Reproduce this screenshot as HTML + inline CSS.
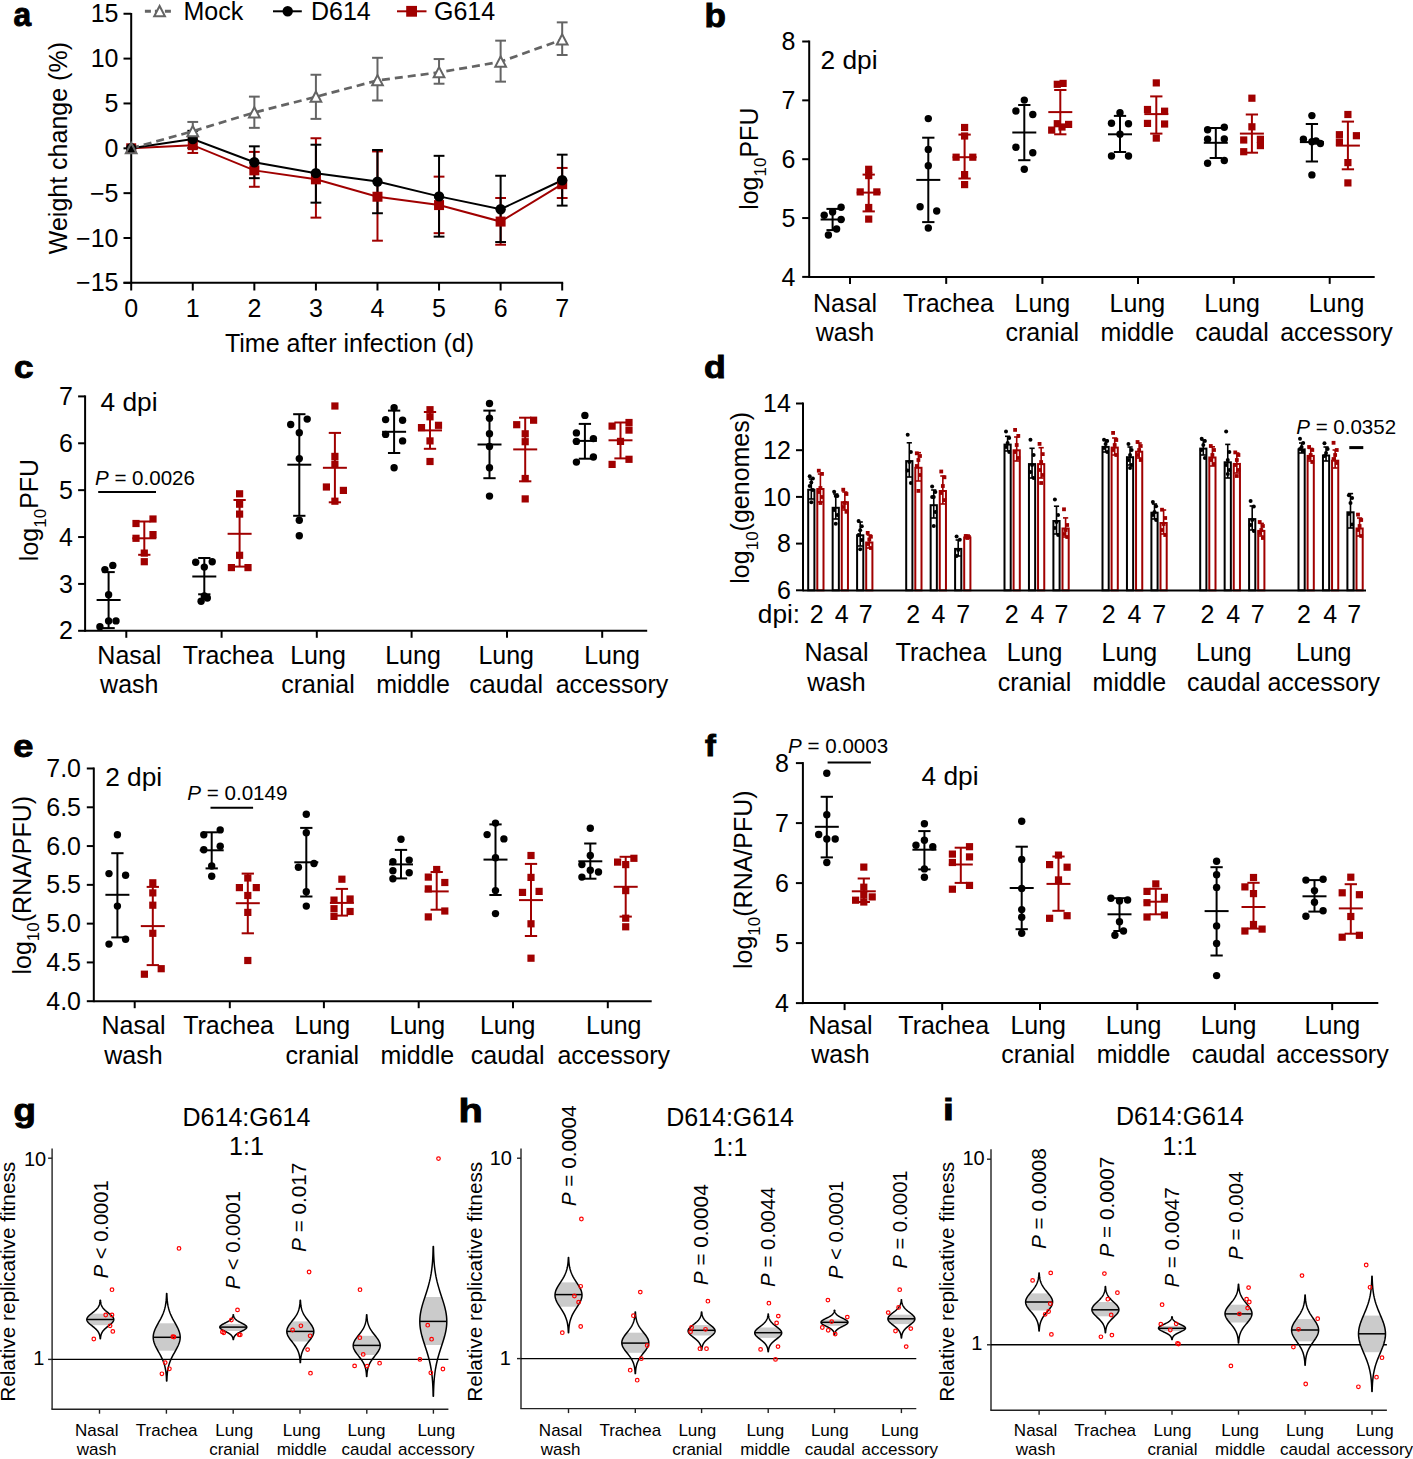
<!DOCTYPE html>
<html><head><meta charset="utf-8"><style>
html,body{margin:0;padding:0;background:#fff;}
svg{display:block;font-family:"Liberation Sans",sans-serif;}
</style></head><body>
<svg width="1413" height="1459" viewBox="0 0 1413 1459">
<rect width="1413" height="1459" fill="#fff"/>
<text x="13.5" y="26.3" font-size="32.3" font-weight="bold" stroke="#000" stroke-width="0.9" transform="translate(13.5,0) scale(0.98,1) translate(-13.5,0)">a</text>
<line x1="131.2" y1="13" x2="131.2" y2="283.8" stroke="#000" stroke-width="2"/>
<line x1="123.5" y1="282.85" x2="563.19" y2="282.85" stroke="#000" stroke-width="2"/>
<line x1="123.5" y1="13.75" x2="131.2" y2="13.75" stroke="#000" stroke-width="2"/>
<text x="118.5" y="22.35" font-size="25" text-anchor="end">15</text>
<line x1="123.5" y1="58.6" x2="131.2" y2="58.6" stroke="#000" stroke-width="2"/>
<text x="118.5" y="67.2" font-size="25" text-anchor="end">10</text>
<line x1="123.5" y1="103.45" x2="131.2" y2="103.45" stroke="#000" stroke-width="2"/>
<text x="118.5" y="112.05" font-size="25" text-anchor="end">5</text>
<line x1="123.5" y1="148.3" x2="131.2" y2="148.3" stroke="#000" stroke-width="2"/>
<text x="118.5" y="156.9" font-size="25" text-anchor="end">0</text>
<line x1="123.5" y1="193.15" x2="131.2" y2="193.15" stroke="#000" stroke-width="2"/>
<text x="118.5" y="201.75" font-size="25" text-anchor="end">−5</text>
<line x1="123.5" y1="238" x2="131.2" y2="238" stroke="#000" stroke-width="2"/>
<text x="118.5" y="246.6" font-size="25" text-anchor="end">−10</text>
<line x1="123.5" y1="282.85" x2="131.2" y2="282.85" stroke="#000" stroke-width="2"/>
<text x="118.5" y="291.45" font-size="25" text-anchor="end">−15</text>
<line x1="131.2" y1="282.85" x2="131.2" y2="290.5" stroke="#000" stroke-width="2"/>
<text x="131.2" y="316.6" font-size="25" text-anchor="middle">0</text>
<line x1="192.77" y1="282.85" x2="192.77" y2="290.5" stroke="#000" stroke-width="2"/>
<text x="192.77" y="316.6" font-size="25" text-anchor="middle">1</text>
<line x1="254.34" y1="282.85" x2="254.34" y2="290.5" stroke="#000" stroke-width="2"/>
<text x="254.34" y="316.6" font-size="25" text-anchor="middle">2</text>
<line x1="315.91" y1="282.85" x2="315.91" y2="290.5" stroke="#000" stroke-width="2"/>
<text x="315.91" y="316.6" font-size="25" text-anchor="middle">3</text>
<line x1="377.48" y1="282.85" x2="377.48" y2="290.5" stroke="#000" stroke-width="2"/>
<text x="377.48" y="316.6" font-size="25" text-anchor="middle">4</text>
<line x1="439.05" y1="282.85" x2="439.05" y2="290.5" stroke="#000" stroke-width="2"/>
<text x="439.05" y="316.6" font-size="25" text-anchor="middle">5</text>
<line x1="500.62" y1="282.85" x2="500.62" y2="290.5" stroke="#000" stroke-width="2"/>
<text x="500.62" y="316.6" font-size="25" text-anchor="middle">6</text>
<line x1="562.19" y1="282.85" x2="562.19" y2="290.5" stroke="#000" stroke-width="2"/>
<text x="562.19" y="316.6" font-size="25" text-anchor="middle">7</text>
<text x="349.5" y="352.2" font-size="25" text-anchor="middle">Time after infection (d)</text>
<text transform="translate(66.5,148.1) rotate(-90)" font-size="25" text-anchor="middle">Weight change (%)</text>
<line x1="192.77" y1="136.64" x2="192.77" y2="152.96" stroke="#a00000" stroke-width="2"/>
<line x1="187.37" y1="136.64" x2="198.17" y2="136.64" stroke="#a00000" stroke-width="2"/>
<line x1="187.37" y1="152.96" x2="198.17" y2="152.96" stroke="#a00000" stroke-width="2"/>
<line x1="254.34" y1="151.89" x2="254.34" y2="186.78" stroke="#a00000" stroke-width="2"/>
<line x1="248.94" y1="151.89" x2="259.74" y2="151.89" stroke="#a00000" stroke-width="2"/>
<line x1="248.94" y1="186.78" x2="259.74" y2="186.78" stroke="#a00000" stroke-width="2"/>
<line x1="315.91" y1="138.25" x2="315.91" y2="217.64" stroke="#a00000" stroke-width="2"/>
<line x1="310.51" y1="138.25" x2="321.31" y2="138.25" stroke="#a00000" stroke-width="2"/>
<line x1="310.51" y1="217.64" x2="321.31" y2="217.64" stroke="#a00000" stroke-width="2"/>
<line x1="377.48" y1="151.44" x2="377.48" y2="240.69" stroke="#a00000" stroke-width="2"/>
<line x1="372.08" y1="151.44" x2="382.88" y2="151.44" stroke="#a00000" stroke-width="2"/>
<line x1="372.08" y1="240.69" x2="382.88" y2="240.69" stroke="#a00000" stroke-width="2"/>
<line x1="439.05" y1="176.65" x2="439.05" y2="233.16" stroke="#a00000" stroke-width="2"/>
<line x1="433.65" y1="176.65" x2="444.45" y2="176.65" stroke="#a00000" stroke-width="2"/>
<line x1="433.65" y1="233.16" x2="444.45" y2="233.16" stroke="#a00000" stroke-width="2"/>
<line x1="500.62" y1="197.99" x2="500.62" y2="244.73" stroke="#a00000" stroke-width="2"/>
<line x1="495.22" y1="197.99" x2="506.02" y2="197.99" stroke="#a00000" stroke-width="2"/>
<line x1="495.22" y1="244.73" x2="506.02" y2="244.73" stroke="#a00000" stroke-width="2"/>
<line x1="562.19" y1="167.94" x2="562.19" y2="197.99" stroke="#a00000" stroke-width="2"/>
<line x1="556.79" y1="167.94" x2="567.59" y2="167.94" stroke="#a00000" stroke-width="2"/>
<line x1="556.79" y1="197.99" x2="567.59" y2="197.99" stroke="#a00000" stroke-width="2"/>
<line x1="192.77" y1="130.81" x2="192.77" y2="148.03" stroke="#000" stroke-width="2"/>
<line x1="187.37" y1="130.81" x2="198.17" y2="130.81" stroke="#000" stroke-width="2"/>
<line x1="187.37" y1="148.03" x2="198.17" y2="148.03" stroke="#000" stroke-width="2"/>
<line x1="254.34" y1="146.33" x2="254.34" y2="178.17" stroke="#000" stroke-width="2"/>
<line x1="248.94" y1="146.33" x2="259.74" y2="146.33" stroke="#000" stroke-width="2"/>
<line x1="248.94" y1="178.17" x2="259.74" y2="178.17" stroke="#000" stroke-width="2"/>
<line x1="315.91" y1="144.71" x2="315.91" y2="202.66" stroke="#000" stroke-width="2"/>
<line x1="310.51" y1="144.71" x2="321.31" y2="144.71" stroke="#000" stroke-width="2"/>
<line x1="310.51" y1="202.66" x2="321.31" y2="202.66" stroke="#000" stroke-width="2"/>
<line x1="377.48" y1="150" x2="377.48" y2="213.24" stroke="#000" stroke-width="2"/>
<line x1="372.08" y1="150" x2="382.88" y2="150" stroke="#000" stroke-width="2"/>
<line x1="372.08" y1="213.24" x2="382.88" y2="213.24" stroke="#000" stroke-width="2"/>
<line x1="439.05" y1="155.83" x2="439.05" y2="236.65" stroke="#000" stroke-width="2"/>
<line x1="433.65" y1="155.83" x2="444.45" y2="155.83" stroke="#000" stroke-width="2"/>
<line x1="433.65" y1="236.65" x2="444.45" y2="236.65" stroke="#000" stroke-width="2"/>
<line x1="500.62" y1="175.75" x2="500.62" y2="242.04" stroke="#000" stroke-width="2"/>
<line x1="495.22" y1="175.75" x2="506.02" y2="175.75" stroke="#000" stroke-width="2"/>
<line x1="495.22" y1="242.04" x2="506.02" y2="242.04" stroke="#000" stroke-width="2"/>
<line x1="562.19" y1="154.67" x2="562.19" y2="205.62" stroke="#000" stroke-width="2"/>
<line x1="556.79" y1="154.67" x2="567.59" y2="154.67" stroke="#000" stroke-width="2"/>
<line x1="556.79" y1="205.62" x2="567.59" y2="205.62" stroke="#000" stroke-width="2"/>
<line x1="192.77" y1="121.93" x2="192.77" y2="140.23" stroke="#646464" stroke-width="2"/>
<line x1="187.37" y1="121.93" x2="198.17" y2="121.93" stroke="#646464" stroke-width="2"/>
<line x1="187.37" y1="140.23" x2="198.17" y2="140.23" stroke="#646464" stroke-width="2"/>
<line x1="254.34" y1="96.63" x2="254.34" y2="127.85" stroke="#646464" stroke-width="2"/>
<line x1="248.94" y1="96.63" x2="259.74" y2="96.63" stroke="#646464" stroke-width="2"/>
<line x1="248.94" y1="127.85" x2="259.74" y2="127.85" stroke="#646464" stroke-width="2"/>
<line x1="315.91" y1="74.75" x2="315.91" y2="118.88" stroke="#646464" stroke-width="2"/>
<line x1="310.51" y1="74.75" x2="321.31" y2="74.75" stroke="#646464" stroke-width="2"/>
<line x1="310.51" y1="118.88" x2="321.31" y2="118.88" stroke="#646464" stroke-width="2"/>
<line x1="377.48" y1="57.79" x2="377.48" y2="100.49" stroke="#646464" stroke-width="2"/>
<line x1="372.08" y1="57.79" x2="382.88" y2="57.79" stroke="#646464" stroke-width="2"/>
<line x1="372.08" y1="100.49" x2="382.88" y2="100.49" stroke="#646464" stroke-width="2"/>
<line x1="439.05" y1="59.05" x2="439.05" y2="83.72" stroke="#646464" stroke-width="2"/>
<line x1="433.65" y1="59.05" x2="444.45" y2="59.05" stroke="#646464" stroke-width="2"/>
<line x1="433.65" y1="83.72" x2="444.45" y2="83.72" stroke="#646464" stroke-width="2"/>
<line x1="500.62" y1="40.66" x2="500.62" y2="81.65" stroke="#646464" stroke-width="2"/>
<line x1="495.22" y1="40.66" x2="506.02" y2="40.66" stroke="#646464" stroke-width="2"/>
<line x1="495.22" y1="81.65" x2="506.02" y2="81.65" stroke="#646464" stroke-width="2"/>
<line x1="562.19" y1="22.36" x2="562.19" y2="55.01" stroke="#646464" stroke-width="2"/>
<line x1="556.79" y1="22.36" x2="567.59" y2="22.36" stroke="#646464" stroke-width="2"/>
<line x1="556.79" y1="55.01" x2="567.59" y2="55.01" stroke="#646464" stroke-width="2"/>
<polyline points="131.2,148.3 192.77,145.16 254.34,170.37 315.91,179.34 377.48,196.74 439.05,205.08 500.62,221.58 562.19,184.18" fill="none" stroke="#a00000" stroke-width="2"/>
<polyline points="131.2,148.3 192.77,138.97 254.34,162.29 315.91,173.15 377.48,181.58 439.05,196.38 500.62,209.21 562.19,180.23" fill="none" stroke="#000" stroke-width="2"/>
<polyline points="131.2,148.3 192.77,131.26 254.34,112.51 315.91,96.81 377.48,80.4 439.05,72.41 500.62,61.74 562.19,39.58" fill="none" stroke="#646464" stroke-width="2.7" stroke-dasharray="8,5"/>
<rect x="126.2" y="143.3" width="10" height="10" fill="#a00000" stroke="none" stroke-width="0"/>
<rect x="187.77" y="140.16" width="10" height="10" fill="#a00000" stroke="none" stroke-width="0"/>
<rect x="249.34" y="165.37" width="10" height="10" fill="#a00000" stroke="none" stroke-width="0"/>
<rect x="310.91" y="174.34" width="10" height="10" fill="#a00000" stroke="none" stroke-width="0"/>
<rect x="372.48" y="191.74" width="10" height="10" fill="#a00000" stroke="none" stroke-width="0"/>
<rect x="434.05" y="200.08" width="10" height="10" fill="#a00000" stroke="none" stroke-width="0"/>
<rect x="495.62" y="216.58" width="10" height="10" fill="#a00000" stroke="none" stroke-width="0"/>
<rect x="557.19" y="179.18" width="10" height="10" fill="#a00000" stroke="none" stroke-width="0"/>
<circle cx="131.2" cy="148.3" r="5.2" fill="#000" stroke="none" stroke-width="0"/>
<circle cx="192.77" cy="138.97" r="5.2" fill="#000" stroke="none" stroke-width="0"/>
<circle cx="254.34" cy="162.29" r="5.2" fill="#000" stroke="none" stroke-width="0"/>
<circle cx="315.91" cy="173.15" r="5.2" fill="#000" stroke="none" stroke-width="0"/>
<circle cx="377.48" cy="181.58" r="5.2" fill="#000" stroke="none" stroke-width="0"/>
<circle cx="439.05" cy="196.38" r="5.2" fill="#000" stroke="none" stroke-width="0"/>
<circle cx="500.62" cy="209.21" r="5.2" fill="#000" stroke="none" stroke-width="0"/>
<circle cx="562.19" cy="180.23" r="5.2" fill="#000" stroke="none" stroke-width="0"/>
<polygon points="131.2,143 125.85,153.2 136.55,153.2" fill="none" stroke="#646464" stroke-width="2"/>
<polygon points="192.77,125.95 187.42,136.15 198.12,136.15" fill="#fff" stroke="#646464" stroke-width="2"/>
<polygon points="254.34,107.21 248.99,117.41 259.69,117.41" fill="#fff" stroke="#646464" stroke-width="2"/>
<polygon points="315.91,91.51 310.56,101.71 321.26,101.71" fill="#fff" stroke="#646464" stroke-width="2"/>
<polygon points="377.48,75.09 372.13,85.29 382.83,85.29" fill="#fff" stroke="#646464" stroke-width="2"/>
<polygon points="439.05,67.11 433.7,77.31 444.4,77.31" fill="#fff" stroke="#646464" stroke-width="2"/>
<polygon points="500.62,56.44 495.27,66.64 505.97,66.64" fill="#fff" stroke="#646464" stroke-width="2"/>
<polygon points="562.19,34.28 556.84,44.48 567.54,44.48" fill="#fff" stroke="#646464" stroke-width="2"/>
<line x1="144.9" y1="11.3" x2="174.4" y2="11.3" stroke="#646464" stroke-width="3" stroke-dasharray="6,4"/>
<polygon points="159.6,6 154.25,16.2 164.95,16.2" fill="#fff" stroke="#646464" stroke-width="2"/>
<text x="183.5" y="19.5" font-size="25">Mock</text>
<line x1="273" y1="11.3" x2="301.8" y2="11.3" stroke="#000" stroke-width="2"/>
<circle cx="287.7" cy="11.3" r="5.2" fill="#000" stroke="none" stroke-width="0"/>
<text x="311" y="19.5" font-size="25">D614</text>
<line x1="397" y1="11.3" x2="426.5" y2="11.3" stroke="#a00000" stroke-width="2"/>
<rect x="406.2" y="5.9" width="10.8" height="10.8" fill="#a00000" stroke="none" stroke-width="0"/>
<text x="434" y="19.5" font-size="25">G614</text>
<text x="704.6" y="27.2" font-size="32.5" font-weight="bold" stroke="#000" stroke-width="0.9" transform="translate(704.6,0) scale(1.08,1) translate(-704.6,0)">b</text>
<line x1="809.2" y1="40.5" x2="809.2" y2="277.9" stroke="#000" stroke-width="2"/>
<line x1="802.2" y1="276.9" x2="809.2" y2="276.9" stroke="#000" stroke-width="2"/>
<text x="795.5" y="285.5" font-size="25" text-anchor="end">4</text>
<line x1="802.2" y1="218.05" x2="809.2" y2="218.05" stroke="#000" stroke-width="2"/>
<text x="795.5" y="226.65" font-size="25" text-anchor="end">5</text>
<line x1="802.2" y1="159.2" x2="809.2" y2="159.2" stroke="#000" stroke-width="2"/>
<text x="795.5" y="167.8" font-size="25" text-anchor="end">6</text>
<line x1="802.2" y1="100.35" x2="809.2" y2="100.35" stroke="#000" stroke-width="2"/>
<text x="795.5" y="108.95" font-size="25" text-anchor="end">7</text>
<line x1="802.2" y1="41.5" x2="809.2" y2="41.5" stroke="#000" stroke-width="2"/>
<text x="795.5" y="50.1" font-size="25" text-anchor="end">8</text>
<line x1="809.2" y1="276.9" x2="1374.7" y2="276.9" stroke="#000" stroke-width="2"/>
<line x1="850" y1="276.9" x2="850" y2="283.9" stroke="#000" stroke-width="2"/>
<line x1="946.2" y1="276.9" x2="946.2" y2="283.9" stroke="#000" stroke-width="2"/>
<line x1="1042.4" y1="276.9" x2="1042.4" y2="283.9" stroke="#000" stroke-width="2"/>
<line x1="1138" y1="276.9" x2="1138" y2="283.9" stroke="#000" stroke-width="2"/>
<line x1="1233.8" y1="276.9" x2="1233.8" y2="283.9" stroke="#000" stroke-width="2"/>
<line x1="1329.7" y1="276.9" x2="1329.7" y2="283.9" stroke="#000" stroke-width="2"/>
<text transform="translate(757.6,158.7) rotate(-90)" font-size="25" text-anchor="middle">log<tspan font-size="17" dy="8.4">10</tspan><tspan dy="-8.4">PFU</tspan></text>
<text x="820.5" y="68.8" font-size="25" textLength="57" lengthAdjust="spacingAndGlyphs">2 dpi</text>
<text x="845" y="312.1" font-size="25" text-anchor="middle">Nasal</text>
<text x="845" y="341.4" font-size="25" text-anchor="middle">wash</text>
<text x="948.4" y="312.1" font-size="25" text-anchor="middle">Trachea</text>
<text x="1042.3" y="312.1" font-size="25" text-anchor="middle">Lung</text>
<text x="1042.3" y="341.4" font-size="25" text-anchor="middle">cranial</text>
<text x="1137.4" y="312.1" font-size="25" text-anchor="middle">Lung</text>
<text x="1137.4" y="341.4" font-size="25" text-anchor="middle">middle</text>
<text x="1232" y="312.1" font-size="25" text-anchor="middle">Lung</text>
<text x="1232" y="341.4" font-size="25" text-anchor="middle">caudal</text>
<text x="1336.5" y="312.1" font-size="25" text-anchor="middle">Lung</text>
<text x="1336.5" y="341.4" font-size="25" text-anchor="middle">accessory</text>
<line x1="832.6" y1="208.9" x2="832.6" y2="230.1" stroke="#000" stroke-width="2"/>
<line x1="826.45" y1="208.9" x2="838.75" y2="208.9" stroke="#000" stroke-width="2"/>
<line x1="826.45" y1="230.1" x2="838.75" y2="230.1" stroke="#000" stroke-width="2"/>
<line x1="820.6" y1="219.5" x2="844.6" y2="219.5" stroke="#000" stroke-width="2"/>
<circle cx="841.1" cy="207.2" r="3.7" fill="#000" stroke="none" stroke-width="0"/>
<circle cx="824.2" cy="215.3" r="3.7" fill="#000" stroke="none" stroke-width="0"/>
<circle cx="832.6" cy="212" r="3.7" fill="#000" stroke="none" stroke-width="0"/>
<circle cx="841.1" cy="219.5" r="3.7" fill="#000" stroke="none" stroke-width="0"/>
<circle cx="836.6" cy="229" r="3.7" fill="#000" stroke="none" stroke-width="0"/>
<circle cx="828.4" cy="235" r="3.7" fill="#000" stroke="none" stroke-width="0"/>
<line x1="928.3" y1="137.7" x2="928.3" y2="222.1" stroke="#000" stroke-width="2"/>
<line x1="922.15" y1="137.7" x2="934.45" y2="137.7" stroke="#000" stroke-width="2"/>
<line x1="922.15" y1="222.1" x2="934.45" y2="222.1" stroke="#000" stroke-width="2"/>
<line x1="916.3" y1="179.9" x2="940.3" y2="179.9" stroke="#000" stroke-width="2"/>
<circle cx="928.3" cy="118.6" r="3.7" fill="#000" stroke="none" stroke-width="0"/>
<circle cx="928.3" cy="149.4" r="3.7" fill="#000" stroke="none" stroke-width="0"/>
<circle cx="928.3" cy="165.7" r="3.7" fill="#000" stroke="none" stroke-width="0"/>
<circle cx="920.1" cy="206.8" r="3.7" fill="#000" stroke="none" stroke-width="0"/>
<circle cx="936.7" cy="211" r="3.7" fill="#000" stroke="none" stroke-width="0"/>
<circle cx="928.3" cy="228" r="3.7" fill="#000" stroke="none" stroke-width="0"/>
<line x1="1024.3" y1="105" x2="1024.3" y2="160.2" stroke="#000" stroke-width="2"/>
<line x1="1018.15" y1="105" x2="1030.45" y2="105" stroke="#000" stroke-width="2"/>
<line x1="1018.15" y1="160.2" x2="1030.45" y2="160.2" stroke="#000" stroke-width="2"/>
<line x1="1012.3" y1="132.5" x2="1036.3" y2="132.5" stroke="#000" stroke-width="2"/>
<circle cx="1024.3" cy="100.1" r="3.7" fill="#000" stroke="none" stroke-width="0"/>
<circle cx="1015.9" cy="111" r="3.7" fill="#000" stroke="none" stroke-width="0"/>
<circle cx="1032.8" cy="114.5" r="3.7" fill="#000" stroke="none" stroke-width="0"/>
<circle cx="1015.9" cy="147.3" r="3.7" fill="#000" stroke="none" stroke-width="0"/>
<circle cx="1032.8" cy="152.7" r="3.7" fill="#000" stroke="none" stroke-width="0"/>
<circle cx="1024.3" cy="169.3" r="3.7" fill="#000" stroke="none" stroke-width="0"/>
<line x1="1120" y1="115.9" x2="1120" y2="152" stroke="#000" stroke-width="2"/>
<line x1="1113.85" y1="115.9" x2="1126.15" y2="115.9" stroke="#000" stroke-width="2"/>
<line x1="1113.85" y1="152" x2="1126.15" y2="152" stroke="#000" stroke-width="2"/>
<line x1="1108" y1="134.3" x2="1132" y2="134.3" stroke="#000" stroke-width="2"/>
<circle cx="1120" cy="112.7" r="3.7" fill="#000" stroke="none" stroke-width="0"/>
<circle cx="1111.5" cy="123.3" r="3.7" fill="#000" stroke="none" stroke-width="0"/>
<circle cx="1128.5" cy="123.7" r="3.7" fill="#000" stroke="none" stroke-width="0"/>
<circle cx="1120" cy="134.3" r="3.7" fill="#000" stroke="none" stroke-width="0"/>
<circle cx="1111.5" cy="156" r="3.7" fill="#000" stroke="none" stroke-width="0"/>
<circle cx="1128.5" cy="156" r="3.7" fill="#000" stroke="none" stroke-width="0"/>
<line x1="1215.8" y1="128" x2="1215.8" y2="158" stroke="#000" stroke-width="2"/>
<line x1="1209.65" y1="128" x2="1221.95" y2="128" stroke="#000" stroke-width="2"/>
<line x1="1209.65" y1="158" x2="1221.95" y2="158" stroke="#000" stroke-width="2"/>
<line x1="1203.8" y1="142.8" x2="1227.8" y2="142.8" stroke="#000" stroke-width="2"/>
<circle cx="1207.6" cy="129.8" r="3.7" fill="#000" stroke="none" stroke-width="0"/>
<circle cx="1224.3" cy="127.2" r="3.7" fill="#000" stroke="none" stroke-width="0"/>
<circle cx="1207.6" cy="139.3" r="3.7" fill="#000" stroke="none" stroke-width="0"/>
<circle cx="1224.3" cy="139" r="3.7" fill="#000" stroke="none" stroke-width="0"/>
<circle cx="1207.6" cy="163.3" r="3.7" fill="#000" stroke="none" stroke-width="0"/>
<circle cx="1224.3" cy="160.5" r="3.7" fill="#000" stroke="none" stroke-width="0"/>
<line x1="1311.9" y1="124" x2="1311.9" y2="161.5" stroke="#000" stroke-width="2"/>
<line x1="1305.75" y1="124" x2="1318.05" y2="124" stroke="#000" stroke-width="2"/>
<line x1="1305.75" y1="161.5" x2="1318.05" y2="161.5" stroke="#000" stroke-width="2"/>
<line x1="1299.9" y1="142.1" x2="1323.9" y2="142.1" stroke="#000" stroke-width="2"/>
<circle cx="1311.9" cy="115.6" r="3.7" fill="#000" stroke="none" stroke-width="0"/>
<circle cx="1303.4" cy="139.3" r="3.7" fill="#000" stroke="none" stroke-width="0"/>
<circle cx="1311.9" cy="141.8" r="3.7" fill="#000" stroke="none" stroke-width="0"/>
<circle cx="1316" cy="141" r="3.7" fill="#000" stroke="none" stroke-width="0"/>
<circle cx="1320.4" cy="143.5" r="3.7" fill="#000" stroke="none" stroke-width="0"/>
<circle cx="1311.9" cy="174.9" r="3.7" fill="#000" stroke="none" stroke-width="0"/>
<line x1="868.7" y1="174.6" x2="868.7" y2="211.4" stroke="#a00000" stroke-width="2"/>
<line x1="862.55" y1="174.6" x2="874.85" y2="174.6" stroke="#a00000" stroke-width="2"/>
<line x1="862.55" y1="211.4" x2="874.85" y2="211.4" stroke="#a00000" stroke-width="2"/>
<line x1="856.7" y1="192.6" x2="880.7" y2="192.6" stroke="#a00000" stroke-width="2"/>
<rect x="865.1" y="165.7" width="7.2" height="7.2" fill="#a00000" stroke="none" stroke-width="0"/>
<rect x="865.1" y="172" width="7.2" height="7.2" fill="#a00000" stroke="none" stroke-width="0"/>
<rect x="856.6" y="188.3" width="7.2" height="7.2" fill="#a00000" stroke="none" stroke-width="0"/>
<rect x="873.2" y="188.3" width="7.2" height="7.2" fill="#a00000" stroke="none" stroke-width="0"/>
<rect x="865.1" y="203.9" width="7.2" height="7.2" fill="#a00000" stroke="none" stroke-width="0"/>
<rect x="865.1" y="215.5" width="7.2" height="7.2" fill="#a00000" stroke="none" stroke-width="0"/>
<line x1="964.6" y1="134.6" x2="964.6" y2="178.5" stroke="#a00000" stroke-width="2"/>
<line x1="958.45" y1="134.6" x2="970.75" y2="134.6" stroke="#a00000" stroke-width="2"/>
<line x1="958.45" y1="178.5" x2="970.75" y2="178.5" stroke="#a00000" stroke-width="2"/>
<line x1="952.6" y1="157.2" x2="976.6" y2="157.2" stroke="#a00000" stroke-width="2"/>
<rect x="961" y="123.9" width="7.2" height="7.2" fill="#a00000" stroke="none" stroke-width="0"/>
<rect x="961" y="132.4" width="7.2" height="7.2" fill="#a00000" stroke="none" stroke-width="0"/>
<rect x="952.5" y="153.6" width="7.2" height="7.2" fill="#a00000" stroke="none" stroke-width="0"/>
<rect x="969.2" y="153.6" width="7.2" height="7.2" fill="#a00000" stroke="none" stroke-width="0"/>
<rect x="961" y="171" width="7.2" height="7.2" fill="#a00000" stroke="none" stroke-width="0"/>
<rect x="961" y="181" width="7.2" height="7.2" fill="#a00000" stroke="none" stroke-width="0"/>
<line x1="1060.3" y1="90" x2="1060.3" y2="134.3" stroke="#a00000" stroke-width="2"/>
<line x1="1054.15" y1="90" x2="1066.45" y2="90" stroke="#a00000" stroke-width="2"/>
<line x1="1054.15" y1="134.3" x2="1066.45" y2="134.3" stroke="#a00000" stroke-width="2"/>
<line x1="1048.3" y1="112.1" x2="1072.3" y2="112.1" stroke="#a00000" stroke-width="2"/>
<rect x="1053.7" y="80.7" width="7.2" height="7.2" fill="#a00000" stroke="none" stroke-width="0"/>
<rect x="1059.5" y="79.8" width="7.2" height="7.2" fill="#a00000" stroke="none" stroke-width="0"/>
<rect x="1053.7" y="120.1" width="7.2" height="7.2" fill="#a00000" stroke="none" stroke-width="0"/>
<rect x="1065" y="120.8" width="7.2" height="7.2" fill="#a00000" stroke="none" stroke-width="0"/>
<rect x="1048.1" y="126.5" width="7.2" height="7.2" fill="#a00000" stroke="none" stroke-width="0"/>
<rect x="1058.4" y="123.4" width="7.2" height="7.2" fill="#a00000" stroke="none" stroke-width="0"/>
<line x1="1156.3" y1="96.4" x2="1156.3" y2="133.6" stroke="#a00000" stroke-width="2"/>
<line x1="1150.15" y1="96.4" x2="1162.45" y2="96.4" stroke="#a00000" stroke-width="2"/>
<line x1="1150.15" y1="133.6" x2="1162.45" y2="133.6" stroke="#a00000" stroke-width="2"/>
<line x1="1144.3" y1="114.1" x2="1168.3" y2="114.1" stroke="#a00000" stroke-width="2"/>
<rect x="1152.7" y="79.3" width="7.2" height="7.2" fill="#a00000" stroke="none" stroke-width="0"/>
<rect x="1143.9" y="105.9" width="7.2" height="7.2" fill="#a00000" stroke="none" stroke-width="0"/>
<rect x="1161" y="107.6" width="7.2" height="7.2" fill="#a00000" stroke="none" stroke-width="0"/>
<rect x="1143.9" y="119.8" width="7.2" height="7.2" fill="#a00000" stroke="none" stroke-width="0"/>
<rect x="1161" y="120.4" width="7.2" height="7.2" fill="#a00000" stroke="none" stroke-width="0"/>
<rect x="1152.7" y="134.5" width="7.2" height="7.2" fill="#a00000" stroke="none" stroke-width="0"/>
<line x1="1251.9" y1="114.5" x2="1251.9" y2="152.7" stroke="#a00000" stroke-width="2"/>
<line x1="1245.75" y1="114.5" x2="1258.05" y2="114.5" stroke="#a00000" stroke-width="2"/>
<line x1="1245.75" y1="152.7" x2="1258.05" y2="152.7" stroke="#a00000" stroke-width="2"/>
<line x1="1239.9" y1="133.6" x2="1263.9" y2="133.6" stroke="#a00000" stroke-width="2"/>
<rect x="1248.3" y="94.6" width="7.2" height="7.2" fill="#a00000" stroke="none" stroke-width="0"/>
<rect x="1248.3" y="123.2" width="7.2" height="7.2" fill="#a00000" stroke="none" stroke-width="0"/>
<rect x="1240.1" y="136.4" width="7.2" height="7.2" fill="#a00000" stroke="none" stroke-width="0"/>
<rect x="1256.8" y="135.7" width="7.2" height="7.2" fill="#a00000" stroke="none" stroke-width="0"/>
<rect x="1256.8" y="142" width="7.2" height="7.2" fill="#a00000" stroke="none" stroke-width="0"/>
<rect x="1240.1" y="148.1" width="7.2" height="7.2" fill="#a00000" stroke="none" stroke-width="0"/>
<line x1="1347.9" y1="121.6" x2="1347.9" y2="169.3" stroke="#a00000" stroke-width="2"/>
<line x1="1341.75" y1="121.6" x2="1354.05" y2="121.6" stroke="#a00000" stroke-width="2"/>
<line x1="1341.75" y1="169.3" x2="1354.05" y2="169.3" stroke="#a00000" stroke-width="2"/>
<line x1="1335.9" y1="145.6" x2="1359.9" y2="145.6" stroke="#a00000" stroke-width="2"/>
<rect x="1344.3" y="110.9" width="7.2" height="7.2" fill="#a00000" stroke="none" stroke-width="0"/>
<rect x="1335.8" y="131.1" width="7.2" height="7.2" fill="#a00000" stroke="none" stroke-width="0"/>
<rect x="1352.8" y="132.1" width="7.2" height="7.2" fill="#a00000" stroke="none" stroke-width="0"/>
<rect x="1335.8" y="138.5" width="7.2" height="7.2" fill="#a00000" stroke="none" stroke-width="0"/>
<rect x="1344.3" y="159" width="7.2" height="7.2" fill="#a00000" stroke="none" stroke-width="0"/>
<rect x="1344.3" y="179.3" width="7.2" height="7.2" fill="#a00000" stroke="none" stroke-width="0"/>
<text x="14" y="378.2" font-size="30.5" font-weight="bold" stroke="#000" stroke-width="0.9" transform="translate(14,0) scale(1.15,1) translate(-14,0)">c</text>
<line x1="85.1" y1="395.4" x2="85.1" y2="631.8" stroke="#000" stroke-width="2"/>
<line x1="78.1" y1="630.8" x2="85.1" y2="630.8" stroke="#000" stroke-width="2"/>
<text x="73" y="639.4" font-size="25" text-anchor="end">2</text>
<line x1="78.1" y1="583.92" x2="85.1" y2="583.92" stroke="#000" stroke-width="2"/>
<text x="73" y="592.52" font-size="25" text-anchor="end">3</text>
<line x1="78.1" y1="537.04" x2="85.1" y2="537.04" stroke="#000" stroke-width="2"/>
<text x="73" y="545.64" font-size="25" text-anchor="end">4</text>
<line x1="78.1" y1="490.16" x2="85.1" y2="490.16" stroke="#000" stroke-width="2"/>
<text x="73" y="498.76" font-size="25" text-anchor="end">5</text>
<line x1="78.1" y1="443.28" x2="85.1" y2="443.28" stroke="#000" stroke-width="2"/>
<text x="73" y="451.88" font-size="25" text-anchor="end">6</text>
<line x1="78.1" y1="396.4" x2="85.1" y2="396.4" stroke="#000" stroke-width="2"/>
<text x="73" y="405" font-size="25" text-anchor="end">7</text>
<line x1="85.1" y1="630.8" x2="647.2" y2="630.8" stroke="#000" stroke-width="2"/>
<line x1="126.3" y1="630.8" x2="126.3" y2="637.8" stroke="#000" stroke-width="2"/>
<line x1="221.6" y1="630.8" x2="221.6" y2="637.8" stroke="#000" stroke-width="2"/>
<line x1="316.8" y1="630.8" x2="316.8" y2="637.8" stroke="#000" stroke-width="2"/>
<line x1="411.6" y1="630.8" x2="411.6" y2="637.8" stroke="#000" stroke-width="2"/>
<line x1="507" y1="630.8" x2="507" y2="637.8" stroke="#000" stroke-width="2"/>
<line x1="602.2" y1="630.8" x2="602.2" y2="637.8" stroke="#000" stroke-width="2"/>
<text transform="translate(37.8,510) rotate(-90)" font-size="25" text-anchor="middle">log<tspan font-size="17" dy="8.4">10</tspan><tspan dy="-8.4">PFU</tspan></text>
<text x="100.5" y="411" font-size="25" textLength="57" lengthAdjust="spacingAndGlyphs">4 dpi</text>
<text x="95" y="485.2" font-size="21" textLength="100" lengthAdjust="spacingAndGlyphs"><tspan font-style="italic">P</tspan> = 0.0026</text>
<line x1="98.2" y1="491.9" x2="156" y2="491.9" stroke="#000" stroke-width="2"/>
<text x="129.3" y="663.9" font-size="25" text-anchor="middle">Nasal</text>
<text x="129.3" y="693" font-size="25" text-anchor="middle">wash</text>
<text x="228.2" y="663.9" font-size="25" text-anchor="middle">Trachea</text>
<text x="318" y="663.9" font-size="25" text-anchor="middle">Lung</text>
<text x="318" y="693" font-size="25" text-anchor="middle">cranial</text>
<text x="413" y="663.9" font-size="25" text-anchor="middle">Lung</text>
<text x="413" y="693" font-size="25" text-anchor="middle">middle</text>
<text x="506.2" y="663.9" font-size="25" text-anchor="middle">Lung</text>
<text x="506.2" y="693" font-size="25" text-anchor="middle">caudal</text>
<text x="612" y="663.9" font-size="25" text-anchor="middle">Lung</text>
<text x="612" y="693" font-size="25" text-anchor="middle">accessory</text>
<line x1="108.6" y1="572.1" x2="108.6" y2="628.1" stroke="#000" stroke-width="2"/>
<line x1="102.45" y1="572.1" x2="114.75" y2="572.1" stroke="#000" stroke-width="2"/>
<line x1="102.45" y1="628.1" x2="114.75" y2="628.1" stroke="#000" stroke-width="2"/>
<line x1="96.6" y1="600" x2="120.6" y2="600" stroke="#000" stroke-width="2"/>
<circle cx="104.9" cy="569.6" r="3.7" fill="#000" stroke="none" stroke-width="0"/>
<circle cx="112.8" cy="565.4" r="3.7" fill="#000" stroke="none" stroke-width="0"/>
<circle cx="108.6" cy="594.8" r="3.7" fill="#000" stroke="none" stroke-width="0"/>
<circle cx="108.6" cy="620.9" r="3.7" fill="#000" stroke="none" stroke-width="0"/>
<circle cx="116" cy="620.9" r="3.7" fill="#000" stroke="none" stroke-width="0"/>
<circle cx="99.9" cy="626.8" r="3.7" fill="#000" stroke="none" stroke-width="0"/>
<line x1="204.3" y1="558" x2="204.3" y2="594.3" stroke="#000" stroke-width="2"/>
<line x1="198.15" y1="558" x2="210.45" y2="558" stroke="#000" stroke-width="2"/>
<line x1="198.15" y1="594.3" x2="210.45" y2="594.3" stroke="#000" stroke-width="2"/>
<line x1="192.3" y1="576.5" x2="216.3" y2="576.5" stroke="#000" stroke-width="2"/>
<circle cx="195.7" cy="562.2" r="3.7" fill="#000" stroke="none" stroke-width="0"/>
<circle cx="204.3" cy="567.1" r="3.7" fill="#000" stroke="none" stroke-width="0"/>
<circle cx="212.2" cy="561.7" r="3.7" fill="#000" stroke="none" stroke-width="0"/>
<circle cx="201.1" cy="601.2" r="3.7" fill="#000" stroke="none" stroke-width="0"/>
<circle cx="207.3" cy="598" r="3.7" fill="#000" stroke="none" stroke-width="0"/>
<circle cx="204.3" cy="596" r="3.7" fill="#000" stroke="none" stroke-width="0"/>
<line x1="299.3" y1="414.2" x2="299.3" y2="515.8" stroke="#000" stroke-width="2"/>
<line x1="293.15" y1="414.2" x2="305.45" y2="414.2" stroke="#000" stroke-width="2"/>
<line x1="293.15" y1="515.8" x2="305.45" y2="515.8" stroke="#000" stroke-width="2"/>
<line x1="287.3" y1="464.7" x2="311.3" y2="464.7" stroke="#000" stroke-width="2"/>
<circle cx="290.7" cy="424.5" r="3.7" fill="#000" stroke="none" stroke-width="0"/>
<circle cx="307.2" cy="419.1" r="3.7" fill="#000" stroke="none" stroke-width="0"/>
<circle cx="299.3" cy="432.7" r="3.7" fill="#000" stroke="none" stroke-width="0"/>
<circle cx="299.3" cy="458.6" r="3.7" fill="#000" stroke="none" stroke-width="0"/>
<circle cx="299.3" cy="520.2" r="3.7" fill="#000" stroke="none" stroke-width="0"/>
<circle cx="299.3" cy="535.8" r="3.7" fill="#000" stroke="none" stroke-width="0"/>
<line x1="394.1" y1="410.6" x2="394.1" y2="453" stroke="#000" stroke-width="2"/>
<line x1="387.95" y1="410.6" x2="400.25" y2="410.6" stroke="#000" stroke-width="2"/>
<line x1="387.95" y1="453" x2="400.25" y2="453" stroke="#000" stroke-width="2"/>
<line x1="382.1" y1="431.8" x2="406.1" y2="431.8" stroke="#000" stroke-width="2"/>
<circle cx="394.1" cy="407.7" r="3.7" fill="#000" stroke="none" stroke-width="0"/>
<circle cx="385.6" cy="419.6" r="3.7" fill="#000" stroke="none" stroke-width="0"/>
<circle cx="402.6" cy="420.2" r="3.7" fill="#000" stroke="none" stroke-width="0"/>
<circle cx="385.6" cy="434.4" r="3.7" fill="#000" stroke="none" stroke-width="0"/>
<circle cx="402.6" cy="440.9" r="3.7" fill="#000" stroke="none" stroke-width="0"/>
<circle cx="394.1" cy="467.8" r="3.7" fill="#000" stroke="none" stroke-width="0"/>
<line x1="489.5" y1="410.6" x2="489.5" y2="478.2" stroke="#000" stroke-width="2"/>
<line x1="483.35" y1="410.6" x2="495.65" y2="410.6" stroke="#000" stroke-width="2"/>
<line x1="483.35" y1="478.2" x2="495.65" y2="478.2" stroke="#000" stroke-width="2"/>
<line x1="477.5" y1="444.5" x2="501.5" y2="444.5" stroke="#000" stroke-width="2"/>
<circle cx="489.5" cy="403.5" r="3.7" fill="#000" stroke="none" stroke-width="0"/>
<circle cx="489.5" cy="418.2" r="3.7" fill="#000" stroke="none" stroke-width="0"/>
<circle cx="489.5" cy="433.8" r="3.7" fill="#000" stroke="none" stroke-width="0"/>
<circle cx="489.5" cy="446.5" r="3.7" fill="#000" stroke="none" stroke-width="0"/>
<circle cx="489.5" cy="467.8" r="3.7" fill="#000" stroke="none" stroke-width="0"/>
<circle cx="489.5" cy="496.1" r="3.7" fill="#000" stroke="none" stroke-width="0"/>
<line x1="584.9" y1="423.9" x2="584.9" y2="458.7" stroke="#000" stroke-width="2"/>
<line x1="578.75" y1="423.9" x2="591.05" y2="423.9" stroke="#000" stroke-width="2"/>
<line x1="578.75" y1="458.7" x2="591.05" y2="458.7" stroke="#000" stroke-width="2"/>
<line x1="572.9" y1="440.9" x2="596.9" y2="440.9" stroke="#000" stroke-width="2"/>
<circle cx="584.9" cy="415.4" r="3.7" fill="#000" stroke="none" stroke-width="0"/>
<circle cx="576.4" cy="432.9" r="3.7" fill="#000" stroke="none" stroke-width="0"/>
<circle cx="593.4" cy="438.6" r="3.7" fill="#000" stroke="none" stroke-width="0"/>
<circle cx="576.4" cy="441.4" r="3.7" fill="#000" stroke="none" stroke-width="0"/>
<circle cx="593.4" cy="457" r="3.7" fill="#000" stroke="none" stroke-width="0"/>
<circle cx="576.4" cy="462.1" r="3.7" fill="#000" stroke="none" stroke-width="0"/>
<line x1="144.3" y1="521.5" x2="144.3" y2="554.8" stroke="#a00000" stroke-width="2"/>
<line x1="138.15" y1="521.5" x2="150.45" y2="521.5" stroke="#a00000" stroke-width="2"/>
<line x1="138.15" y1="554.8" x2="150.45" y2="554.8" stroke="#a00000" stroke-width="2"/>
<line x1="132.3" y1="538.3" x2="156.3" y2="538.3" stroke="#a00000" stroke-width="2"/>
<rect x="132.4" y="519.9" width="7.2" height="7.2" fill="#a00000" stroke="none" stroke-width="0"/>
<rect x="149.4" y="515.4" width="7.2" height="7.2" fill="#a00000" stroke="none" stroke-width="0"/>
<rect x="132.4" y="534.7" width="7.2" height="7.2" fill="#a00000" stroke="none" stroke-width="0"/>
<rect x="149.4" y="531" width="7.2" height="7.2" fill="#a00000" stroke="none" stroke-width="0"/>
<rect x="140.7" y="549.5" width="7.2" height="7.2" fill="#a00000" stroke="none" stroke-width="0"/>
<rect x="140.7" y="558.1" width="7.2" height="7.2" fill="#a00000" stroke="none" stroke-width="0"/>
<line x1="239.6" y1="500" x2="239.6" y2="566.6" stroke="#a00000" stroke-width="2"/>
<line x1="233.45" y1="500" x2="245.75" y2="500" stroke="#a00000" stroke-width="2"/>
<line x1="233.45" y1="566.6" x2="245.75" y2="566.6" stroke="#a00000" stroke-width="2"/>
<line x1="227.6" y1="533.8" x2="251.6" y2="533.8" stroke="#a00000" stroke-width="2"/>
<rect x="236" y="490.2" width="7.2" height="7.2" fill="#a00000" stroke="none" stroke-width="0"/>
<rect x="236" y="500.6" width="7.2" height="7.2" fill="#a00000" stroke="none" stroke-width="0"/>
<rect x="236" y="510.5" width="7.2" height="7.2" fill="#a00000" stroke="none" stroke-width="0"/>
<rect x="236" y="551.7" width="7.2" height="7.2" fill="#a00000" stroke="none" stroke-width="0"/>
<rect x="227.8" y="564" width="7.2" height="7.2" fill="#a00000" stroke="none" stroke-width="0"/>
<rect x="244.4" y="564" width="7.2" height="7.2" fill="#a00000" stroke="none" stroke-width="0"/>
<line x1="334.9" y1="432.9" x2="334.9" y2="502.3" stroke="#a00000" stroke-width="2"/>
<line x1="328.75" y1="432.9" x2="341.05" y2="432.9" stroke="#a00000" stroke-width="2"/>
<line x1="328.75" y1="502.3" x2="341.05" y2="502.3" stroke="#a00000" stroke-width="2"/>
<line x1="322.9" y1="467.8" x2="346.9" y2="467.8" stroke="#a00000" stroke-width="2"/>
<rect x="331.3" y="402.4" width="7.2" height="7.2" fill="#a00000" stroke="none" stroke-width="0"/>
<rect x="331.3" y="452.8" width="7.2" height="7.2" fill="#a00000" stroke="none" stroke-width="0"/>
<rect x="331.3" y="460.5" width="7.2" height="7.2" fill="#a00000" stroke="none" stroke-width="0"/>
<rect x="322.8" y="483.4" width="7.2" height="7.2" fill="#a00000" stroke="none" stroke-width="0"/>
<rect x="339.8" y="486.8" width="7.2" height="7.2" fill="#a00000" stroke="none" stroke-width="0"/>
<rect x="331.3" y="497.6" width="7.2" height="7.2" fill="#a00000" stroke="none" stroke-width="0"/>
<line x1="430" y1="412" x2="430" y2="448.8" stroke="#a00000" stroke-width="2"/>
<line x1="423.85" y1="412" x2="436.15" y2="412" stroke="#a00000" stroke-width="2"/>
<line x1="423.85" y1="448.8" x2="436.15" y2="448.8" stroke="#a00000" stroke-width="2"/>
<line x1="418" y1="430.4" x2="442" y2="430.4" stroke="#a00000" stroke-width="2"/>
<rect x="426.4" y="406.1" width="7.2" height="7.2" fill="#a00000" stroke="none" stroke-width="0"/>
<rect x="426.4" y="413.2" width="7.2" height="7.2" fill="#a00000" stroke="none" stroke-width="0"/>
<rect x="417.9" y="424" width="7.2" height="7.2" fill="#a00000" stroke="none" stroke-width="0"/>
<rect x="434.9" y="421.7" width="7.2" height="7.2" fill="#a00000" stroke="none" stroke-width="0"/>
<rect x="426.4" y="437.3" width="7.2" height="7.2" fill="#a00000" stroke="none" stroke-width="0"/>
<rect x="426.4" y="457.9" width="7.2" height="7.2" fill="#a00000" stroke="none" stroke-width="0"/>
<line x1="525.2" y1="417.7" x2="525.2" y2="481.3" stroke="#a00000" stroke-width="2"/>
<line x1="519.05" y1="417.7" x2="531.35" y2="417.7" stroke="#a00000" stroke-width="2"/>
<line x1="519.05" y1="481.3" x2="531.35" y2="481.3" stroke="#a00000" stroke-width="2"/>
<line x1="513.2" y1="449.4" x2="537.2" y2="449.4" stroke="#a00000" stroke-width="2"/>
<rect x="513.1" y="421.1" width="7.2" height="7.2" fill="#a00000" stroke="none" stroke-width="0"/>
<rect x="530" y="416.6" width="7.2" height="7.2" fill="#a00000" stroke="none" stroke-width="0"/>
<rect x="521.6" y="430.2" width="7.2" height="7.2" fill="#a00000" stroke="none" stroke-width="0"/>
<rect x="521.6" y="438.1" width="7.2" height="7.2" fill="#a00000" stroke="none" stroke-width="0"/>
<rect x="521.6" y="474.9" width="7.2" height="7.2" fill="#a00000" stroke="none" stroke-width="0"/>
<rect x="521.6" y="495.3" width="7.2" height="7.2" fill="#a00000" stroke="none" stroke-width="0"/>
<line x1="620.5" y1="422.5" x2="620.5" y2="458.4" stroke="#a00000" stroke-width="2"/>
<line x1="614.35" y1="422.5" x2="626.65" y2="422.5" stroke="#a00000" stroke-width="2"/>
<line x1="614.35" y1="458.4" x2="626.65" y2="458.4" stroke="#a00000" stroke-width="2"/>
<line x1="608.5" y1="440.3" x2="632.5" y2="440.3" stroke="#a00000" stroke-width="2"/>
<rect x="608.5" y="422.5" width="7.2" height="7.2" fill="#a00000" stroke="none" stroke-width="0"/>
<rect x="625.4" y="418.9" width="7.2" height="7.2" fill="#a00000" stroke="none" stroke-width="0"/>
<rect x="625.4" y="426.5" width="7.2" height="7.2" fill="#a00000" stroke="none" stroke-width="0"/>
<rect x="616.9" y="437.8" width="7.2" height="7.2" fill="#a00000" stroke="none" stroke-width="0"/>
<rect x="625.4" y="455.7" width="7.2" height="7.2" fill="#a00000" stroke="none" stroke-width="0"/>
<rect x="608.5" y="460.8" width="7.2" height="7.2" fill="#a00000" stroke="none" stroke-width="0"/>
<text x="13.3" y="757.5" font-size="31.5" font-weight="bold" stroke="#000" stroke-width="0.9" transform="translate(13.3,0) scale(1.15,1) translate(-13.3,0)">e</text>
<line x1="93.8" y1="767.49" x2="93.8" y2="1002.2" stroke="#000" stroke-width="2"/>
<line x1="86.8" y1="1001.2" x2="93.8" y2="1001.2" stroke="#000" stroke-width="2"/>
<text x="81" y="1009.8" font-size="25" text-anchor="end">4.0</text>
<line x1="86.8" y1="962.42" x2="93.8" y2="962.42" stroke="#000" stroke-width="2"/>
<text x="81" y="971.02" font-size="25" text-anchor="end">4.5</text>
<line x1="86.8" y1="923.63" x2="93.8" y2="923.63" stroke="#000" stroke-width="2"/>
<text x="81" y="932.23" font-size="25" text-anchor="end">5.0</text>
<line x1="86.8" y1="884.85" x2="93.8" y2="884.85" stroke="#000" stroke-width="2"/>
<text x="81" y="893.45" font-size="25" text-anchor="end">5.5</text>
<line x1="86.8" y1="846.06" x2="93.8" y2="846.06" stroke="#000" stroke-width="2"/>
<text x="81" y="854.66" font-size="25" text-anchor="end">6.0</text>
<line x1="86.8" y1="807.28" x2="93.8" y2="807.28" stroke="#000" stroke-width="2"/>
<text x="81" y="815.88" font-size="25" text-anchor="end">6.5</text>
<line x1="86.8" y1="768.49" x2="93.8" y2="768.49" stroke="#000" stroke-width="2"/>
<text x="81" y="777.09" font-size="25" text-anchor="end">7.0</text>
<line x1="93.8" y1="1001.2" x2="651.7" y2="1001.2" stroke="#000" stroke-width="2"/>
<line x1="134.7" y1="1001.2" x2="134.7" y2="1008.2" stroke="#000" stroke-width="2"/>
<line x1="229.8" y1="1001.2" x2="229.8" y2="1008.2" stroke="#000" stroke-width="2"/>
<line x1="323.9" y1="1001.2" x2="323.9" y2="1008.2" stroke="#000" stroke-width="2"/>
<line x1="418.7" y1="1001.2" x2="418.7" y2="1008.2" stroke="#000" stroke-width="2"/>
<line x1="513" y1="1001.2" x2="513" y2="1008.2" stroke="#000" stroke-width="2"/>
<line x1="607.8" y1="1001.2" x2="607.8" y2="1008.2" stroke="#000" stroke-width="2"/>
<text transform="translate(30.5,885.2) rotate(-90)" font-size="25" text-anchor="middle">log<tspan font-size="17" dy="8.4">10</tspan><tspan dy="-8.4">(RNA/PFU)</tspan></text>
<text x="105.2" y="785.8" font-size="25" textLength="57" lengthAdjust="spacingAndGlyphs">2 dpi</text>
<text x="187.2" y="800.3" font-size="21" textLength="100.3" lengthAdjust="spacingAndGlyphs"><tspan font-style="italic">P</tspan> = 0.0149</text>
<line x1="210.5" y1="807.7" x2="253.1" y2="807.7" stroke="#000" stroke-width="2"/>
<text x="133.5" y="1034.3" font-size="25" text-anchor="middle">Nasal</text>
<text x="133.5" y="1063.6" font-size="25" text-anchor="middle">wash</text>
<text x="228.6" y="1034.3" font-size="25" text-anchor="middle">Trachea</text>
<text x="322.3" y="1034.3" font-size="25" text-anchor="middle">Lung</text>
<text x="322.3" y="1063.6" font-size="25" text-anchor="middle">cranial</text>
<text x="417.3" y="1034.3" font-size="25" text-anchor="middle">Lung</text>
<text x="417.3" y="1063.6" font-size="25" text-anchor="middle">middle</text>
<text x="507.7" y="1034.3" font-size="25" text-anchor="middle">Lung</text>
<text x="507.7" y="1063.6" font-size="25" text-anchor="middle">caudal</text>
<text x="613.7" y="1034.3" font-size="25" text-anchor="middle">Lung</text>
<text x="613.7" y="1063.6" font-size="25" text-anchor="middle">accessory</text>
<line x1="117.4" y1="853.2" x2="117.4" y2="937.4" stroke="#000" stroke-width="2"/>
<line x1="111.25" y1="853.2" x2="123.55" y2="853.2" stroke="#000" stroke-width="2"/>
<line x1="111.25" y1="937.4" x2="123.55" y2="937.4" stroke="#000" stroke-width="2"/>
<line x1="105.4" y1="894.8" x2="129.4" y2="894.8" stroke="#000" stroke-width="2"/>
<circle cx="117.4" cy="834.7" r="3.7" fill="#000" stroke="none" stroke-width="0"/>
<circle cx="109" cy="873.6" r="3.7" fill="#000" stroke="none" stroke-width="0"/>
<circle cx="125.6" cy="875.3" r="3.7" fill="#000" stroke="none" stroke-width="0"/>
<circle cx="117.4" cy="906.1" r="3.7" fill="#000" stroke="none" stroke-width="0"/>
<circle cx="125.6" cy="939.3" r="3.7" fill="#000" stroke="none" stroke-width="0"/>
<circle cx="109" cy="944.1" r="3.7" fill="#000" stroke="none" stroke-width="0"/>
<line x1="211.7" y1="832.3" x2="211.7" y2="868.4" stroke="#000" stroke-width="2"/>
<line x1="205.55" y1="832.3" x2="217.85" y2="832.3" stroke="#000" stroke-width="2"/>
<line x1="205.55" y1="868.4" x2="217.85" y2="868.4" stroke="#000" stroke-width="2"/>
<line x1="199.7" y1="850.3" x2="223.7" y2="850.3" stroke="#000" stroke-width="2"/>
<circle cx="203.8" cy="834.7" r="3.7" fill="#000" stroke="none" stroke-width="0"/>
<circle cx="220.2" cy="829.9" r="3.7" fill="#000" stroke="none" stroke-width="0"/>
<circle cx="203.8" cy="849.8" r="3.7" fill="#000" stroke="none" stroke-width="0"/>
<circle cx="220.2" cy="846.2" r="3.7" fill="#000" stroke="none" stroke-width="0"/>
<circle cx="211.7" cy="866" r="3.7" fill="#000" stroke="none" stroke-width="0"/>
<circle cx="211.7" cy="876.3" r="3.7" fill="#000" stroke="none" stroke-width="0"/>
<line x1="306.3" y1="827.9" x2="306.3" y2="896.5" stroke="#000" stroke-width="2"/>
<line x1="300.15" y1="827.9" x2="312.45" y2="827.9" stroke="#000" stroke-width="2"/>
<line x1="300.15" y1="896.5" x2="312.45" y2="896.5" stroke="#000" stroke-width="2"/>
<line x1="294.3" y1="862.3" x2="318.3" y2="862.3" stroke="#000" stroke-width="2"/>
<circle cx="306.3" cy="814.2" r="3.7" fill="#000" stroke="none" stroke-width="0"/>
<circle cx="306.3" cy="832.7" r="3.7" fill="#000" stroke="none" stroke-width="0"/>
<circle cx="298.4" cy="867.2" r="3.7" fill="#000" stroke="none" stroke-width="0"/>
<circle cx="314" cy="863.5" r="3.7" fill="#000" stroke="none" stroke-width="0"/>
<circle cx="306.3" cy="891.7" r="3.7" fill="#000" stroke="none" stroke-width="0"/>
<circle cx="306.3" cy="906.1" r="3.7" fill="#000" stroke="none" stroke-width="0"/>
<line x1="401" y1="849.9" x2="401" y2="878.4" stroke="#000" stroke-width="2"/>
<line x1="394.85" y1="849.9" x2="407.15" y2="849.9" stroke="#000" stroke-width="2"/>
<line x1="394.85" y1="878.4" x2="407.15" y2="878.4" stroke="#000" stroke-width="2"/>
<line x1="389" y1="864.4" x2="413" y2="864.4" stroke="#000" stroke-width="2"/>
<circle cx="401" cy="839.2" r="3.7" fill="#000" stroke="none" stroke-width="0"/>
<circle cx="392.9" cy="861.8" r="3.7" fill="#000" stroke="none" stroke-width="0"/>
<circle cx="409.2" cy="860.1" r="3.7" fill="#000" stroke="none" stroke-width="0"/>
<circle cx="392.9" cy="870.8" r="3.7" fill="#000" stroke="none" stroke-width="0"/>
<circle cx="409.2" cy="872.8" r="3.7" fill="#000" stroke="none" stroke-width="0"/>
<circle cx="392.9" cy="878.7" r="3.7" fill="#000" stroke="none" stroke-width="0"/>
<line x1="495.5" y1="824.4" x2="495.5" y2="895" stroke="#000" stroke-width="2"/>
<line x1="489.35" y1="824.4" x2="501.65" y2="824.4" stroke="#000" stroke-width="2"/>
<line x1="489.35" y1="895" x2="501.65" y2="895" stroke="#000" stroke-width="2"/>
<line x1="483.5" y1="859.6" x2="507.5" y2="859.6" stroke="#000" stroke-width="2"/>
<circle cx="495.5" cy="823.1" r="3.7" fill="#000" stroke="none" stroke-width="0"/>
<circle cx="487.1" cy="834.6" r="3.7" fill="#000" stroke="none" stroke-width="0"/>
<circle cx="503.9" cy="838.9" r="3.7" fill="#000" stroke="none" stroke-width="0"/>
<circle cx="495.5" cy="857.8" r="3.7" fill="#000" stroke="none" stroke-width="0"/>
<circle cx="495.5" cy="890.6" r="3.7" fill="#000" stroke="none" stroke-width="0"/>
<circle cx="495.5" cy="913.6" r="3.7" fill="#000" stroke="none" stroke-width="0"/>
<line x1="590.3" y1="843.5" x2="590.3" y2="878.7" stroke="#000" stroke-width="2"/>
<line x1="584.15" y1="843.5" x2="596.45" y2="843.5" stroke="#000" stroke-width="2"/>
<line x1="584.15" y1="878.7" x2="596.45" y2="878.7" stroke="#000" stroke-width="2"/>
<line x1="578.3" y1="861.3" x2="602.3" y2="861.3" stroke="#000" stroke-width="2"/>
<circle cx="590.3" cy="828.2" r="3.7" fill="#000" stroke="none" stroke-width="0"/>
<circle cx="590.3" cy="855.5" r="3.7" fill="#000" stroke="none" stroke-width="0"/>
<circle cx="581.9" cy="864.6" r="3.7" fill="#000" stroke="none" stroke-width="0"/>
<circle cx="590.3" cy="870.3" r="3.7" fill="#000" stroke="none" stroke-width="0"/>
<circle cx="598.5" cy="872" r="3.7" fill="#000" stroke="none" stroke-width="0"/>
<circle cx="581.9" cy="877.1" r="3.7" fill="#000" stroke="none" stroke-width="0"/>
<line x1="152.8" y1="886.9" x2="152.8" y2="965.1" stroke="#a00000" stroke-width="2"/>
<line x1="146.65" y1="886.9" x2="158.95" y2="886.9" stroke="#a00000" stroke-width="2"/>
<line x1="146.65" y1="965.1" x2="158.95" y2="965.1" stroke="#a00000" stroke-width="2"/>
<line x1="140.8" y1="926.1" x2="164.8" y2="926.1" stroke="#a00000" stroke-width="2"/>
<rect x="149.2" y="879.2" width="7.2" height="7.2" fill="#a00000" stroke="none" stroke-width="0"/>
<rect x="149.2" y="889.3" width="7.2" height="7.2" fill="#a00000" stroke="none" stroke-width="0"/>
<rect x="149.2" y="901.6" width="7.2" height="7.2" fill="#a00000" stroke="none" stroke-width="0"/>
<rect x="149.2" y="929.7" width="7.2" height="7.2" fill="#a00000" stroke="none" stroke-width="0"/>
<rect x="140.8" y="970.6" width="7.2" height="7.2" fill="#a00000" stroke="none" stroke-width="0"/>
<rect x="157.6" y="965.1" width="7.2" height="7.2" fill="#a00000" stroke="none" stroke-width="0"/>
<line x1="247.8" y1="873.6" x2="247.8" y2="933.3" stroke="#a00000" stroke-width="2"/>
<line x1="241.65" y1="873.6" x2="253.95" y2="873.6" stroke="#a00000" stroke-width="2"/>
<line x1="241.65" y1="933.3" x2="253.95" y2="933.3" stroke="#a00000" stroke-width="2"/>
<line x1="235.8" y1="903.2" x2="259.8" y2="903.2" stroke="#a00000" stroke-width="2"/>
<rect x="244.2" y="874.4" width="7.2" height="7.2" fill="#a00000" stroke="none" stroke-width="0"/>
<rect x="235.8" y="884" width="7.2" height="7.2" fill="#a00000" stroke="none" stroke-width="0"/>
<rect x="252.7" y="884" width="7.2" height="7.2" fill="#a00000" stroke="none" stroke-width="0"/>
<rect x="244.2" y="891.9" width="7.2" height="7.2" fill="#a00000" stroke="none" stroke-width="0"/>
<rect x="244.2" y="908.8" width="7.2" height="7.2" fill="#a00000" stroke="none" stroke-width="0"/>
<rect x="244.2" y="956.9" width="7.2" height="7.2" fill="#a00000" stroke="none" stroke-width="0"/>
<line x1="341.9" y1="888.9" x2="341.9" y2="915.6" stroke="#a00000" stroke-width="2"/>
<line x1="335.75" y1="888.9" x2="348.05" y2="888.9" stroke="#a00000" stroke-width="2"/>
<line x1="335.75" y1="915.6" x2="348.05" y2="915.6" stroke="#a00000" stroke-width="2"/>
<line x1="329.9" y1="902.9" x2="353.9" y2="902.9" stroke="#a00000" stroke-width="2"/>
<rect x="338.3" y="875.6" width="7.2" height="7.2" fill="#a00000" stroke="none" stroke-width="0"/>
<rect x="330.4" y="896.5" width="7.2" height="7.2" fill="#a00000" stroke="none" stroke-width="0"/>
<rect x="346.5" y="895.4" width="7.2" height="7.2" fill="#a00000" stroke="none" stroke-width="0"/>
<rect x="330.4" y="905.1" width="7.2" height="7.2" fill="#a00000" stroke="none" stroke-width="0"/>
<rect x="346.5" y="907.9" width="7.2" height="7.2" fill="#a00000" stroke="none" stroke-width="0"/>
<rect x="330.4" y="912.8" width="7.2" height="7.2" fill="#a00000" stroke="none" stroke-width="0"/>
<line x1="436.7" y1="872" x2="436.7" y2="909.7" stroke="#a00000" stroke-width="2"/>
<line x1="430.55" y1="872" x2="442.85" y2="872" stroke="#a00000" stroke-width="2"/>
<line x1="430.55" y1="909.7" x2="442.85" y2="909.7" stroke="#a00000" stroke-width="2"/>
<line x1="424.7" y1="891.4" x2="448.7" y2="891.4" stroke="#a00000" stroke-width="2"/>
<rect x="433.1" y="865.9" width="7.2" height="7.2" fill="#a00000" stroke="none" stroke-width="0"/>
<rect x="424.7" y="873.5" width="7.2" height="7.2" fill="#a00000" stroke="none" stroke-width="0"/>
<rect x="441.2" y="878.9" width="7.2" height="7.2" fill="#a00000" stroke="none" stroke-width="0"/>
<rect x="424.7" y="885.3" width="7.2" height="7.2" fill="#a00000" stroke="none" stroke-width="0"/>
<rect x="441.2" y="907.4" width="7.2" height="7.2" fill="#a00000" stroke="none" stroke-width="0"/>
<rect x="424.7" y="913.3" width="7.2" height="7.2" fill="#a00000" stroke="none" stroke-width="0"/>
<line x1="531" y1="863.9" x2="531" y2="936" stroke="#a00000" stroke-width="2"/>
<line x1="524.85" y1="863.9" x2="537.15" y2="863.9" stroke="#a00000" stroke-width="2"/>
<line x1="524.85" y1="936" x2="537.15" y2="936" stroke="#a00000" stroke-width="2"/>
<line x1="519" y1="900.1" x2="543" y2="900.1" stroke="#a00000" stroke-width="2"/>
<rect x="527.4" y="851.9" width="7.2" height="7.2" fill="#a00000" stroke="none" stroke-width="0"/>
<rect x="527.4" y="873.8" width="7.2" height="7.2" fill="#a00000" stroke="none" stroke-width="0"/>
<rect x="518.9" y="888.8" width="7.2" height="7.2" fill="#a00000" stroke="none" stroke-width="0"/>
<rect x="535.5" y="887.8" width="7.2" height="7.2" fill="#a00000" stroke="none" stroke-width="0"/>
<rect x="527.4" y="920.2" width="7.2" height="7.2" fill="#a00000" stroke="none" stroke-width="0"/>
<rect x="527.4" y="954.6" width="7.2" height="7.2" fill="#a00000" stroke="none" stroke-width="0"/>
<line x1="625.7" y1="856.8" x2="625.7" y2="916.6" stroke="#a00000" stroke-width="2"/>
<line x1="619.55" y1="856.8" x2="631.85" y2="856.8" stroke="#a00000" stroke-width="2"/>
<line x1="619.55" y1="916.6" x2="631.85" y2="916.6" stroke="#a00000" stroke-width="2"/>
<line x1="613.7" y1="886.8" x2="637.7" y2="886.8" stroke="#a00000" stroke-width="2"/>
<rect x="614" y="858.5" width="7.2" height="7.2" fill="#a00000" stroke="none" stroke-width="0"/>
<rect x="630.3" y="854.7" width="7.2" height="7.2" fill="#a00000" stroke="none" stroke-width="0"/>
<rect x="622.1" y="861" width="7.2" height="7.2" fill="#a00000" stroke="none" stroke-width="0"/>
<rect x="622.1" y="887" width="7.2" height="7.2" fill="#a00000" stroke="none" stroke-width="0"/>
<rect x="622.1" y="914.6" width="7.2" height="7.2" fill="#a00000" stroke="none" stroke-width="0"/>
<rect x="622.1" y="923.2" width="7.2" height="7.2" fill="#a00000" stroke="none" stroke-width="0"/>
<text x="705" y="756.3" font-size="29" font-weight="bold" stroke="#000" stroke-width="0.9" transform="translate(705,0) scale(1.12,1) translate(-705,0)">f</text>
<line x1="802.9" y1="762.1" x2="802.9" y2="1004.1" stroke="#000" stroke-width="2"/>
<line x1="795.9" y1="1003.1" x2="802.9" y2="1003.1" stroke="#000" stroke-width="2"/>
<text x="789" y="1011.7" font-size="25" text-anchor="end">4</text>
<line x1="795.9" y1="943.1" x2="802.9" y2="943.1" stroke="#000" stroke-width="2"/>
<text x="789" y="951.7" font-size="25" text-anchor="end">5</text>
<line x1="795.9" y1="883.1" x2="802.9" y2="883.1" stroke="#000" stroke-width="2"/>
<text x="789" y="891.7" font-size="25" text-anchor="end">6</text>
<line x1="795.9" y1="823.1" x2="802.9" y2="823.1" stroke="#000" stroke-width="2"/>
<text x="789" y="831.7" font-size="25" text-anchor="end">7</text>
<line x1="795.9" y1="763.1" x2="802.9" y2="763.1" stroke="#000" stroke-width="2"/>
<text x="789" y="771.7" font-size="25" text-anchor="end">8</text>
<line x1="802.9" y1="1003.1" x2="1378.3" y2="1003.1" stroke="#000" stroke-width="2"/>
<line x1="844.6" y1="1003.1" x2="844.6" y2="1010.1" stroke="#000" stroke-width="2"/>
<line x1="942.2" y1="1003.1" x2="942.2" y2="1010.1" stroke="#000" stroke-width="2"/>
<line x1="1040" y1="1003.1" x2="1040" y2="1010.1" stroke="#000" stroke-width="2"/>
<line x1="1137.3" y1="1003.1" x2="1137.3" y2="1010.1" stroke="#000" stroke-width="2"/>
<line x1="1234.9" y1="1003.1" x2="1234.9" y2="1010.1" stroke="#000" stroke-width="2"/>
<line x1="1332.2" y1="1003.1" x2="1332.2" y2="1010.1" stroke="#000" stroke-width="2"/>
<text transform="translate(751.8,879.7) rotate(-90)" font-size="25" text-anchor="middle">log<tspan font-size="17" dy="8.4">10</tspan><tspan dy="-8.4">(RNA/PFU)</tspan></text>
<text x="921.5" y="784.8" font-size="25" textLength="57" lengthAdjust="spacingAndGlyphs">4 dpi</text>
<text x="788.1" y="752.9" font-size="21" textLength="100.1" lengthAdjust="spacingAndGlyphs"><tspan font-style="italic">P</tspan> = 0.0003</text>
<line x1="827.6" y1="762.4" x2="870.9" y2="762.4" stroke="#000" stroke-width="2"/>
<text x="840.5" y="1034" font-size="25" text-anchor="middle">Nasal</text>
<text x="840.5" y="1063.3" font-size="25" text-anchor="middle">wash</text>
<text x="943.7" y="1034" font-size="25" text-anchor="middle">Trachea</text>
<text x="1038.2" y="1034" font-size="25" text-anchor="middle">Lung</text>
<text x="1038.2" y="1063.3" font-size="25" text-anchor="middle">cranial</text>
<text x="1133.5" y="1034" font-size="25" text-anchor="middle">Lung</text>
<text x="1133.5" y="1063.3" font-size="25" text-anchor="middle">middle</text>
<text x="1228.5" y="1034" font-size="25" text-anchor="middle">Lung</text>
<text x="1228.5" y="1063.3" font-size="25" text-anchor="middle">caudal</text>
<text x="1332.4" y="1034" font-size="25" text-anchor="middle">Lung</text>
<text x="1332.4" y="1063.3" font-size="25" text-anchor="middle">accessory</text>
<line x1="826.8" y1="796.8" x2="826.8" y2="857.4" stroke="#000" stroke-width="2"/>
<line x1="820.65" y1="796.8" x2="832.95" y2="796.8" stroke="#000" stroke-width="2"/>
<line x1="820.65" y1="857.4" x2="832.95" y2="857.4" stroke="#000" stroke-width="2"/>
<line x1="814.8" y1="826.8" x2="838.8" y2="826.8" stroke="#000" stroke-width="2"/>
<circle cx="826.8" cy="773.3" r="3.7" fill="#000" stroke="none" stroke-width="0"/>
<circle cx="826.8" cy="814.8" r="3.7" fill="#000" stroke="none" stroke-width="0"/>
<circle cx="818.7" cy="834.5" r="3.7" fill="#000" stroke="none" stroke-width="0"/>
<circle cx="826.8" cy="839" r="3.7" fill="#000" stroke="none" stroke-width="0"/>
<circle cx="835.2" cy="839" r="3.7" fill="#000" stroke="none" stroke-width="0"/>
<circle cx="826.8" cy="862.5" r="3.7" fill="#000" stroke="none" stroke-width="0"/>
<line x1="924.4" y1="831.1" x2="924.4" y2="869.4" stroke="#000" stroke-width="2"/>
<line x1="918.25" y1="831.1" x2="930.55" y2="831.1" stroke="#000" stroke-width="2"/>
<line x1="918.25" y1="869.4" x2="930.55" y2="869.4" stroke="#000" stroke-width="2"/>
<line x1="912.4" y1="849.7" x2="936.4" y2="849.7" stroke="#000" stroke-width="2"/>
<circle cx="924.4" cy="823.8" r="3.7" fill="#000" stroke="none" stroke-width="0"/>
<circle cx="916" cy="845.2" r="3.7" fill="#000" stroke="none" stroke-width="0"/>
<circle cx="924.4" cy="840.3" r="3.7" fill="#000" stroke="none" stroke-width="0"/>
<circle cx="932.8" cy="846.7" r="3.7" fill="#000" stroke="none" stroke-width="0"/>
<circle cx="924.4" cy="868.9" r="3.7" fill="#000" stroke="none" stroke-width="0"/>
<circle cx="924.4" cy="877.3" r="3.7" fill="#000" stroke="none" stroke-width="0"/>
<line x1="1021.7" y1="846.7" x2="1021.7" y2="929.2" stroke="#000" stroke-width="2"/>
<line x1="1015.55" y1="846.7" x2="1027.85" y2="846.7" stroke="#000" stroke-width="2"/>
<line x1="1015.55" y1="929.2" x2="1027.85" y2="929.2" stroke="#000" stroke-width="2"/>
<line x1="1009.7" y1="888" x2="1033.7" y2="888" stroke="#000" stroke-width="2"/>
<circle cx="1021.7" cy="821.2" r="3.7" fill="#000" stroke="none" stroke-width="0"/>
<circle cx="1021.7" cy="859.4" r="3.7" fill="#000" stroke="none" stroke-width="0"/>
<circle cx="1021.7" cy="888.5" r="3.7" fill="#000" stroke="none" stroke-width="0"/>
<circle cx="1021.7" cy="909.6" r="3.7" fill="#000" stroke="none" stroke-width="0"/>
<circle cx="1021.7" cy="917.3" r="3.7" fill="#000" stroke="none" stroke-width="0"/>
<circle cx="1021.7" cy="933.3" r="3.7" fill="#000" stroke="none" stroke-width="0"/>
<line x1="1119.5" y1="898.2" x2="1119.5" y2="931" stroke="#000" stroke-width="2"/>
<line x1="1113.35" y1="898.2" x2="1125.65" y2="898.2" stroke="#000" stroke-width="2"/>
<line x1="1113.35" y1="931" x2="1125.65" y2="931" stroke="#000" stroke-width="2"/>
<line x1="1107.5" y1="914.3" x2="1131.5" y2="914.3" stroke="#000" stroke-width="2"/>
<circle cx="1110.9" cy="898.2" r="3.7" fill="#000" stroke="none" stroke-width="0"/>
<circle cx="1127.6" cy="900" r="3.7" fill="#000" stroke="none" stroke-width="0"/>
<circle cx="1119.5" cy="900.9" r="3.7" fill="#000" stroke="none" stroke-width="0"/>
<circle cx="1119.5" cy="921.8" r="3.7" fill="#000" stroke="none" stroke-width="0"/>
<circle cx="1123.5" cy="931" r="3.7" fill="#000" stroke="none" stroke-width="0"/>
<circle cx="1114.9" cy="935.3" r="3.7" fill="#000" stroke="none" stroke-width="0"/>
<line x1="1216.6" y1="867.2" x2="1216.6" y2="955.5" stroke="#000" stroke-width="2"/>
<line x1="1210.45" y1="867.2" x2="1222.75" y2="867.2" stroke="#000" stroke-width="2"/>
<line x1="1210.45" y1="955.5" x2="1222.75" y2="955.5" stroke="#000" stroke-width="2"/>
<line x1="1204.6" y1="911.1" x2="1228.6" y2="911.1" stroke="#000" stroke-width="2"/>
<circle cx="1216.6" cy="861.3" r="3.7" fill="#000" stroke="none" stroke-width="0"/>
<circle cx="1216.6" cy="874.8" r="3.7" fill="#000" stroke="none" stroke-width="0"/>
<circle cx="1216.6" cy="887.4" r="3.7" fill="#000" stroke="none" stroke-width="0"/>
<circle cx="1216.6" cy="925.9" r="3.7" fill="#000" stroke="none" stroke-width="0"/>
<circle cx="1216.6" cy="943.4" r="3.7" fill="#000" stroke="none" stroke-width="0"/>
<circle cx="1216.6" cy="975.6" r="3.7" fill="#000" stroke="none" stroke-width="0"/>
<line x1="1314.5" y1="880.1" x2="1314.5" y2="911.6" stroke="#000" stroke-width="2"/>
<line x1="1308.35" y1="880.1" x2="1320.65" y2="880.1" stroke="#000" stroke-width="2"/>
<line x1="1308.35" y1="911.6" x2="1320.65" y2="911.6" stroke="#000" stroke-width="2"/>
<line x1="1302.5" y1="896.3" x2="1326.5" y2="896.3" stroke="#000" stroke-width="2"/>
<circle cx="1305.9" cy="880.1" r="3.7" fill="#000" stroke="none" stroke-width="0"/>
<circle cx="1323.1" cy="879.3" r="3.7" fill="#000" stroke="none" stroke-width="0"/>
<circle cx="1314.5" cy="890.6" r="3.7" fill="#000" stroke="none" stroke-width="0"/>
<circle cx="1314.5" cy="902.2" r="3.7" fill="#000" stroke="none" stroke-width="0"/>
<circle cx="1323.1" cy="910.8" r="3.7" fill="#000" stroke="none" stroke-width="0"/>
<circle cx="1305.9" cy="916.2" r="3.7" fill="#000" stroke="none" stroke-width="0"/>
<line x1="863.8" y1="878.5" x2="863.8" y2="902" stroke="#a00000" stroke-width="2"/>
<line x1="857.65" y1="878.5" x2="869.95" y2="878.5" stroke="#a00000" stroke-width="2"/>
<line x1="857.65" y1="902" x2="869.95" y2="902" stroke="#a00000" stroke-width="2"/>
<line x1="851.8" y1="891.3" x2="875.8" y2="891.3" stroke="#a00000" stroke-width="2"/>
<rect x="860.2" y="863.5" width="7.2" height="7.2" fill="#a00000" stroke="none" stroke-width="0"/>
<rect x="860.2" y="883.6" width="7.2" height="7.2" fill="#a00000" stroke="none" stroke-width="0"/>
<rect x="852" y="896.6" width="7.2" height="7.2" fill="#a00000" stroke="none" stroke-width="0"/>
<rect x="868.6" y="893.3" width="7.2" height="7.2" fill="#a00000" stroke="none" stroke-width="0"/>
<rect x="860.2" y="898.4" width="7.2" height="7.2" fill="#a00000" stroke="none" stroke-width="0"/>
<rect x="860.2" y="891.4" width="7.2" height="7.2" fill="#a00000" stroke="none" stroke-width="0"/>
<line x1="960.8" y1="847.7" x2="960.8" y2="882.9" stroke="#a00000" stroke-width="2"/>
<line x1="954.65" y1="847.7" x2="966.95" y2="847.7" stroke="#a00000" stroke-width="2"/>
<line x1="954.65" y1="882.9" x2="966.95" y2="882.9" stroke="#a00000" stroke-width="2"/>
<line x1="948.8" y1="864.5" x2="972.8" y2="864.5" stroke="#a00000" stroke-width="2"/>
<rect x="965.9" y="843.1" width="7.2" height="7.2" fill="#a00000" stroke="none" stroke-width="0"/>
<rect x="948.8" y="850.5" width="7.2" height="7.2" fill="#a00000" stroke="none" stroke-width="0"/>
<rect x="965.9" y="853.3" width="7.2" height="7.2" fill="#a00000" stroke="none" stroke-width="0"/>
<rect x="948.8" y="858.9" width="7.2" height="7.2" fill="#a00000" stroke="none" stroke-width="0"/>
<rect x="948.8" y="885.6" width="7.2" height="7.2" fill="#a00000" stroke="none" stroke-width="0"/>
<rect x="965.9" y="881.8" width="7.2" height="7.2" fill="#a00000" stroke="none" stroke-width="0"/>
<line x1="1058.5" y1="856.5" x2="1058.5" y2="910.8" stroke="#a00000" stroke-width="2"/>
<line x1="1052.35" y1="856.5" x2="1064.65" y2="856.5" stroke="#a00000" stroke-width="2"/>
<line x1="1052.35" y1="910.8" x2="1064.65" y2="910.8" stroke="#a00000" stroke-width="2"/>
<line x1="1046.5" y1="883.9" x2="1070.5" y2="883.9" stroke="#a00000" stroke-width="2"/>
<rect x="1054.9" y="851.5" width="7.2" height="7.2" fill="#a00000" stroke="none" stroke-width="0"/>
<rect x="1046" y="861" width="7.2" height="7.2" fill="#a00000" stroke="none" stroke-width="0"/>
<rect x="1063.5" y="863.6" width="7.2" height="7.2" fill="#a00000" stroke="none" stroke-width="0"/>
<rect x="1054.9" y="876.3" width="7.2" height="7.2" fill="#a00000" stroke="none" stroke-width="0"/>
<rect x="1046" y="914.7" width="7.2" height="7.2" fill="#a00000" stroke="none" stroke-width="0"/>
<rect x="1063.5" y="912.1" width="7.2" height="7.2" fill="#a00000" stroke="none" stroke-width="0"/>
<line x1="1155.8" y1="888.8" x2="1155.8" y2="914.3" stroke="#a00000" stroke-width="2"/>
<line x1="1149.65" y1="888.8" x2="1161.95" y2="888.8" stroke="#a00000" stroke-width="2"/>
<line x1="1149.65" y1="914.3" x2="1161.95" y2="914.3" stroke="#a00000" stroke-width="2"/>
<line x1="1143.8" y1="901.7" x2="1167.8" y2="901.7" stroke="#a00000" stroke-width="2"/>
<rect x="1152.2" y="880.3" width="7.2" height="7.2" fill="#a00000" stroke="none" stroke-width="0"/>
<rect x="1143.4" y="887.8" width="7.2" height="7.2" fill="#a00000" stroke="none" stroke-width="0"/>
<rect x="1160.8" y="893.8" width="7.2" height="7.2" fill="#a00000" stroke="none" stroke-width="0"/>
<rect x="1143.4" y="899.1" width="7.2" height="7.2" fill="#a00000" stroke="none" stroke-width="0"/>
<rect x="1143.4" y="913.4" width="7.2" height="7.2" fill="#a00000" stroke="none" stroke-width="0"/>
<rect x="1160.8" y="911.5" width="7.2" height="7.2" fill="#a00000" stroke="none" stroke-width="0"/>
<line x1="1253.5" y1="882.8" x2="1253.5" y2="928.6" stroke="#a00000" stroke-width="2"/>
<line x1="1247.35" y1="882.8" x2="1259.65" y2="882.8" stroke="#a00000" stroke-width="2"/>
<line x1="1247.35" y1="928.6" x2="1259.65" y2="928.6" stroke="#a00000" stroke-width="2"/>
<line x1="1241.5" y1="907" x2="1265.5" y2="907" stroke="#a00000" stroke-width="2"/>
<rect x="1249.9" y="873.9" width="7.2" height="7.2" fill="#a00000" stroke="none" stroke-width="0"/>
<rect x="1241.3" y="883.3" width="7.2" height="7.2" fill="#a00000" stroke="none" stroke-width="0"/>
<rect x="1249.9" y="890" width="7.2" height="7.2" fill="#a00000" stroke="none" stroke-width="0"/>
<rect x="1249.9" y="920.9" width="7.2" height="7.2" fill="#a00000" stroke="none" stroke-width="0"/>
<rect x="1241.3" y="927.4" width="7.2" height="7.2" fill="#a00000" stroke="none" stroke-width="0"/>
<rect x="1258.5" y="925.5" width="7.2" height="7.2" fill="#a00000" stroke="none" stroke-width="0"/>
<line x1="1350.8" y1="884.2" x2="1350.8" y2="933.7" stroke="#a00000" stroke-width="2"/>
<line x1="1344.65" y1="884.2" x2="1356.95" y2="884.2" stroke="#a00000" stroke-width="2"/>
<line x1="1344.65" y1="933.7" x2="1356.95" y2="933.7" stroke="#a00000" stroke-width="2"/>
<line x1="1338.8" y1="908.4" x2="1362.8" y2="908.4" stroke="#a00000" stroke-width="2"/>
<rect x="1347.2" y="873.6" width="7.2" height="7.2" fill="#a00000" stroke="none" stroke-width="0"/>
<rect x="1338.6" y="889.2" width="7.2" height="7.2" fill="#a00000" stroke="none" stroke-width="0"/>
<rect x="1355.8" y="891.1" width="7.2" height="7.2" fill="#a00000" stroke="none" stroke-width="0"/>
<rect x="1347.2" y="912.9" width="7.2" height="7.2" fill="#a00000" stroke="none" stroke-width="0"/>
<rect x="1338.6" y="933.6" width="7.2" height="7.2" fill="#a00000" stroke="none" stroke-width="0"/>
<rect x="1355.8" y="931.7" width="7.2" height="7.2" fill="#a00000" stroke="none" stroke-width="0"/>
<text x="704" y="378.2" font-size="31" font-weight="bold" stroke="#000" stroke-width="0.9" transform="translate(704,0) scale(1.15,1) translate(-704,0)">d</text>
<line x1="803" y1="402.5" x2="803" y2="591.3" stroke="#000" stroke-width="2"/>
<line x1="796" y1="590.3" x2="803" y2="590.3" stroke="#000" stroke-width="2"/>
<text x="790.8" y="598.9" font-size="25" text-anchor="end">6</text>
<line x1="796" y1="543.6" x2="803" y2="543.6" stroke="#000" stroke-width="2"/>
<text x="790.8" y="552.2" font-size="25" text-anchor="end">8</text>
<line x1="796" y1="496.9" x2="803" y2="496.9" stroke="#000" stroke-width="2"/>
<text x="790.8" y="505.5" font-size="25" text-anchor="end">10</text>
<line x1="796" y1="450.2" x2="803" y2="450.2" stroke="#000" stroke-width="2"/>
<text x="790.8" y="458.8" font-size="25" text-anchor="end">12</text>
<line x1="796" y1="403.5" x2="803" y2="403.5" stroke="#000" stroke-width="2"/>
<text x="790.8" y="412.1" font-size="25" text-anchor="end">14</text>
<text transform="translate(749.2,497.8) rotate(-90)" font-size="25" text-anchor="middle">log<tspan font-size="17" dy="8.4">10</tspan><tspan dy="-8.4">(genomes)</tspan></text>
<text x="757.8" y="622.5" font-size="25" textLength="42.3" lengthAdjust="spacingAndGlyphs">dpi:</text>
<text x="816.6" y="622.5" font-size="25" text-anchor="middle">2</text>
<text x="841.6" y="622.5" font-size="25" text-anchor="middle">4</text>
<text x="865.8" y="622.5" font-size="25" text-anchor="middle">7</text>
<text x="913.2" y="622.5" font-size="25" text-anchor="middle">2</text>
<text x="938.4" y="622.5" font-size="25" text-anchor="middle">4</text>
<text x="963.1" y="622.5" font-size="25" text-anchor="middle">7</text>
<text x="1011.7" y="622.5" font-size="25" text-anchor="middle">2</text>
<text x="1037.4" y="622.5" font-size="25" text-anchor="middle">4</text>
<text x="1061.4" y="622.5" font-size="25" text-anchor="middle">7</text>
<text x="1108.7" y="622.5" font-size="25" text-anchor="middle">2</text>
<text x="1134.5" y="622.5" font-size="25" text-anchor="middle">4</text>
<text x="1159.3" y="622.5" font-size="25" text-anchor="middle">7</text>
<text x="1207.5" y="622.5" font-size="25" text-anchor="middle">2</text>
<text x="1233.3" y="622.5" font-size="25" text-anchor="middle">4</text>
<text x="1257.8" y="622.5" font-size="25" text-anchor="middle">7</text>
<text x="1304" y="622.5" font-size="25" text-anchor="middle">2</text>
<text x="1330.3" y="622.5" font-size="25" text-anchor="middle">4</text>
<text x="1354.3" y="622.5" font-size="25" text-anchor="middle">7</text>
<text x="836.5" y="661.2" font-size="25" text-anchor="middle">Nasal</text>
<text x="836.5" y="690.5" font-size="25" text-anchor="middle">wash</text>
<text x="941" y="661.2" font-size="25" text-anchor="middle">Trachea</text>
<text x="1034.5" y="661.2" font-size="25" text-anchor="middle">Lung</text>
<text x="1034.5" y="690.5" font-size="25" text-anchor="middle">cranial</text>
<text x="1129.4" y="661.2" font-size="25" text-anchor="middle">Lung</text>
<text x="1129.4" y="690.5" font-size="25" text-anchor="middle">middle</text>
<text x="1223.8" y="661.2" font-size="25" text-anchor="middle">Lung</text>
<text x="1223.8" y="690.5" font-size="25" text-anchor="middle">caudal</text>
<text x="1323.7" y="661.2" font-size="25" text-anchor="middle">Lung</text>
<text x="1323.7" y="690.5" font-size="25" text-anchor="middle">accessory</text>
<rect x="808.2" y="489.8" width="6.2" height="100.5" fill="#fff" stroke="#000" stroke-width="2"/>
<rect x="817.3" y="489" width="6.2" height="101.3" fill="#fff" stroke="#a00000" stroke-width="2"/>
<rect x="832.65" y="507.8" width="6.2" height="82.5" fill="#fff" stroke="#000" stroke-width="2"/>
<rect x="841.75" y="502.2" width="6.2" height="88.1" fill="#fff" stroke="#a00000" stroke-width="2"/>
<rect x="857.1" y="535.3" width="6.2" height="55" fill="#fff" stroke="#000" stroke-width="2"/>
<rect x="866.2" y="542.5" width="6.2" height="47.8" fill="#fff" stroke="#a00000" stroke-width="2"/>
<rect x="906.2" y="461.1" width="6.2" height="129.2" fill="#fff" stroke="#000" stroke-width="2"/>
<rect x="915.3" y="467.8" width="6.2" height="122.5" fill="#fff" stroke="#a00000" stroke-width="2"/>
<rect x="930.65" y="505.2" width="6.2" height="85.1" fill="#fff" stroke="#000" stroke-width="2"/>
<rect x="939.75" y="491" width="6.2" height="99.3" fill="#fff" stroke="#a00000" stroke-width="2"/>
<rect x="955.1" y="548.9" width="6.2" height="41.4" fill="#fff" stroke="#000" stroke-width="2"/>
<rect x="964.2" y="537.5" width="6.2" height="52.8" fill="#fff" stroke="#a00000" stroke-width="2"/>
<rect x="1004.5" y="444.6" width="6.2" height="145.7" fill="#fff" stroke="#000" stroke-width="2"/>
<rect x="1013.6" y="450.3" width="6.2" height="140" fill="#fff" stroke="#a00000" stroke-width="2"/>
<rect x="1028.95" y="464.1" width="6.2" height="126.2" fill="#fff" stroke="#000" stroke-width="2"/>
<rect x="1038.05" y="464.1" width="6.2" height="126.2" fill="#fff" stroke="#a00000" stroke-width="2"/>
<rect x="1053.4" y="521" width="6.2" height="69.3" fill="#fff" stroke="#000" stroke-width="2"/>
<rect x="1062.5" y="528.5" width="6.2" height="61.8" fill="#fff" stroke="#a00000" stroke-width="2"/>
<rect x="1102.5" y="446.9" width="6.2" height="143.4" fill="#fff" stroke="#000" stroke-width="2"/>
<rect x="1111.6" y="447.6" width="6.2" height="142.7" fill="#fff" stroke="#a00000" stroke-width="2"/>
<rect x="1126.95" y="457.2" width="6.2" height="133.1" fill="#fff" stroke="#000" stroke-width="2"/>
<rect x="1136.05" y="451.7" width="6.2" height="138.6" fill="#fff" stroke="#a00000" stroke-width="2"/>
<rect x="1151.4" y="512.7" width="6.2" height="77.6" fill="#fff" stroke="#000" stroke-width="2"/>
<rect x="1160.5" y="523" width="6.2" height="67.3" fill="#fff" stroke="#a00000" stroke-width="2"/>
<rect x="1200.2" y="448.6" width="6.2" height="141.7" fill="#fff" stroke="#000" stroke-width="2"/>
<rect x="1209.3" y="457.5" width="6.2" height="132.8" fill="#fff" stroke="#a00000" stroke-width="2"/>
<rect x="1224.65" y="462.3" width="6.2" height="128" fill="#fff" stroke="#000" stroke-width="2"/>
<rect x="1233.75" y="463.9" width="6.2" height="126.4" fill="#fff" stroke="#a00000" stroke-width="2"/>
<rect x="1249.1" y="519.1" width="6.2" height="71.2" fill="#fff" stroke="#000" stroke-width="2"/>
<rect x="1258.2" y="530.9" width="6.2" height="59.4" fill="#fff" stroke="#a00000" stroke-width="2"/>
<rect x="1298.5" y="449.4" width="6.2" height="140.9" fill="#fff" stroke="#000" stroke-width="2"/>
<rect x="1307.6" y="455.9" width="6.2" height="134.4" fill="#fff" stroke="#a00000" stroke-width="2"/>
<rect x="1322.95" y="455.5" width="6.2" height="134.8" fill="#fff" stroke="#000" stroke-width="2"/>
<rect x="1332.05" y="460.7" width="6.2" height="129.6" fill="#fff" stroke="#a00000" stroke-width="2"/>
<rect x="1347.4" y="512.3" width="6.2" height="78" fill="#fff" stroke="#000" stroke-width="2"/>
<rect x="1356.5" y="528.5" width="6.2" height="61.8" fill="#fff" stroke="#a00000" stroke-width="2"/>
<line x1="811.3" y1="479" x2="811.3" y2="499" stroke="#000" stroke-width="1.6"/>
<line x1="808.7" y1="479" x2="813.9" y2="479" stroke="#000" stroke-width="1.6"/>
<line x1="808.7" y1="499" x2="813.9" y2="499" stroke="#000" stroke-width="1.6"/>
<circle cx="809.7" cy="476.3" r="2" fill="#000" stroke="none" stroke-width="0"/>
<circle cx="812.9" cy="478.5" r="2" fill="#000" stroke="none" stroke-width="0"/>
<circle cx="811.3" cy="482.5" r="2" fill="#000" stroke="none" stroke-width="0"/>
<circle cx="809.7" cy="485.9" r="2" fill="#000" stroke="none" stroke-width="0"/>
<circle cx="812.9" cy="490" r="2" fill="#000" stroke="none" stroke-width="0"/>
<circle cx="811.3" cy="502.2" r="2" fill="#000" stroke="none" stroke-width="0"/>
<line x1="820.4" y1="474" x2="820.4" y2="502" stroke="#a00000" stroke-width="1.6"/>
<line x1="817.8" y1="474" x2="823" y2="474" stroke="#a00000" stroke-width="1.6"/>
<line x1="817.8" y1="502" x2="823" y2="502" stroke="#a00000" stroke-width="1.6"/>
<rect x="816.9" y="468.8" width="3.8" height="3.8" fill="#a00000" stroke="none" stroke-width="0"/>
<rect x="820.1" y="472" width="3.8" height="3.8" fill="#a00000" stroke="none" stroke-width="0"/>
<rect x="818.5" y="486.1" width="3.8" height="3.8" fill="#a00000" stroke="none" stroke-width="0"/>
<rect x="816.9" y="490.1" width="3.8" height="3.8" fill="#a00000" stroke="none" stroke-width="0"/>
<rect x="820.1" y="495.1" width="3.8" height="3.8" fill="#a00000" stroke="none" stroke-width="0"/>
<rect x="818.5" y="501.1" width="3.8" height="3.8" fill="#a00000" stroke="none" stroke-width="0"/>
<line x1="835.75" y1="494" x2="835.75" y2="519" stroke="#000" stroke-width="1.6"/>
<line x1="833.15" y1="494" x2="838.35" y2="494" stroke="#000" stroke-width="1.6"/>
<line x1="833.15" y1="519" x2="838.35" y2="519" stroke="#000" stroke-width="1.6"/>
<circle cx="834.15" cy="491.7" r="2" fill="#000" stroke="none" stroke-width="0"/>
<circle cx="837.35" cy="496" r="2" fill="#000" stroke="none" stroke-width="0"/>
<circle cx="835.75" cy="496" r="2" fill="#000" stroke="none" stroke-width="0"/>
<circle cx="834.15" cy="510" r="2" fill="#000" stroke="none" stroke-width="0"/>
<circle cx="837.35" cy="515" r="2" fill="#000" stroke="none" stroke-width="0"/>
<circle cx="835.75" cy="523.8" r="2" fill="#000" stroke="none" stroke-width="0"/>
<line x1="844.85" y1="492" x2="844.85" y2="510" stroke="#a00000" stroke-width="1.6"/>
<line x1="842.25" y1="492" x2="847.45" y2="492" stroke="#a00000" stroke-width="1.6"/>
<line x1="842.25" y1="510" x2="847.45" y2="510" stroke="#a00000" stroke-width="1.6"/>
<rect x="841.35" y="487.8" width="3.8" height="3.8" fill="#a00000" stroke="none" stroke-width="0"/>
<rect x="844.55" y="492.1" width="3.8" height="3.8" fill="#a00000" stroke="none" stroke-width="0"/>
<rect x="842.95" y="501.1" width="3.8" height="3.8" fill="#a00000" stroke="none" stroke-width="0"/>
<rect x="841.35" y="505.1" width="3.8" height="3.8" fill="#a00000" stroke="none" stroke-width="0"/>
<rect x="844.55" y="509.9" width="3.8" height="3.8" fill="#a00000" stroke="none" stroke-width="0"/>
<line x1="860.2" y1="522" x2="860.2" y2="546" stroke="#000" stroke-width="1.6"/>
<line x1="857.6" y1="522" x2="862.8" y2="522" stroke="#000" stroke-width="1.6"/>
<line x1="857.6" y1="546" x2="862.8" y2="546" stroke="#000" stroke-width="1.6"/>
<circle cx="858.6" cy="520.9" r="2" fill="#000" stroke="none" stroke-width="0"/>
<circle cx="861.8" cy="526.2" r="2" fill="#000" stroke="none" stroke-width="0"/>
<circle cx="860.2" cy="530.2" r="2" fill="#000" stroke="none" stroke-width="0"/>
<circle cx="858.6" cy="535" r="2" fill="#000" stroke="none" stroke-width="0"/>
<circle cx="861.8" cy="540" r="2" fill="#000" stroke="none" stroke-width="0"/>
<circle cx="860.2" cy="549.2" r="2" fill="#000" stroke="none" stroke-width="0"/>
<line x1="869.3" y1="535" x2="869.3" y2="548" stroke="#a00000" stroke-width="1.6"/>
<line x1="866.7" y1="535" x2="871.9" y2="535" stroke="#a00000" stroke-width="1.6"/>
<line x1="866.7" y1="548" x2="871.9" y2="548" stroke="#a00000" stroke-width="1.6"/>
<rect x="865.8" y="531" width="3.8" height="3.8" fill="#a00000" stroke="none" stroke-width="0"/>
<rect x="869" y="534.8" width="3.8" height="3.8" fill="#a00000" stroke="none" stroke-width="0"/>
<rect x="867.4" y="537.6" width="3.8" height="3.8" fill="#a00000" stroke="none" stroke-width="0"/>
<rect x="865.8" y="542.1" width="3.8" height="3.8" fill="#a00000" stroke="none" stroke-width="0"/>
<rect x="869" y="546.1" width="3.8" height="3.8" fill="#a00000" stroke="none" stroke-width="0"/>
<line x1="909.3" y1="442.8" x2="909.3" y2="477" stroke="#000" stroke-width="1.6"/>
<line x1="906.7" y1="442.8" x2="911.9" y2="442.8" stroke="#000" stroke-width="1.6"/>
<line x1="906.7" y1="477" x2="911.9" y2="477" stroke="#000" stroke-width="1.6"/>
<circle cx="907.7" cy="434.8" r="2" fill="#000" stroke="none" stroke-width="0"/>
<circle cx="910.9" cy="452" r="2" fill="#000" stroke="none" stroke-width="0"/>
<circle cx="909.3" cy="462" r="2" fill="#000" stroke="none" stroke-width="0"/>
<circle cx="907.7" cy="470.5" r="2" fill="#000" stroke="none" stroke-width="0"/>
<circle cx="910.9" cy="482.9" r="2" fill="#000" stroke="none" stroke-width="0"/>
<line x1="918.4" y1="452.7" x2="918.4" y2="481" stroke="#a00000" stroke-width="1.6"/>
<line x1="915.8" y1="452.7" x2="921" y2="452.7" stroke="#a00000" stroke-width="1.6"/>
<line x1="915.8" y1="481" x2="921" y2="481" stroke="#a00000" stroke-width="1.6"/>
<rect x="914.9" y="451.4" width="3.8" height="3.8" fill="#a00000" stroke="none" stroke-width="0"/>
<rect x="918.1" y="454.1" width="3.8" height="3.8" fill="#a00000" stroke="none" stroke-width="0"/>
<rect x="916.5" y="458.1" width="3.8" height="3.8" fill="#a00000" stroke="none" stroke-width="0"/>
<rect x="914.9" y="464.1" width="3.8" height="3.8" fill="#a00000" stroke="none" stroke-width="0"/>
<rect x="918.1" y="473.1" width="3.8" height="3.8" fill="#a00000" stroke="none" stroke-width="0"/>
<rect x="916.5" y="489" width="3.8" height="3.8" fill="#a00000" stroke="none" stroke-width="0"/>
<line x1="933.75" y1="490" x2="933.75" y2="518" stroke="#000" stroke-width="1.6"/>
<line x1="931.15" y1="490" x2="936.35" y2="490" stroke="#000" stroke-width="1.6"/>
<line x1="931.15" y1="518" x2="936.35" y2="518" stroke="#000" stroke-width="1.6"/>
<circle cx="932.15" cy="486.6" r="2" fill="#000" stroke="none" stroke-width="0"/>
<circle cx="935.35" cy="492.1" r="2" fill="#000" stroke="none" stroke-width="0"/>
<circle cx="933.75" cy="497.1" r="2" fill="#000" stroke="none" stroke-width="0"/>
<circle cx="932.15" cy="497.1" r="2" fill="#000" stroke="none" stroke-width="0"/>
<circle cx="935.35" cy="512" r="2" fill="#000" stroke="none" stroke-width="0"/>
<circle cx="933.75" cy="526" r="2" fill="#000" stroke="none" stroke-width="0"/>
<line x1="942.85" y1="476" x2="942.85" y2="504" stroke="#a00000" stroke-width="1.6"/>
<line x1="940.25" y1="476" x2="945.45" y2="476" stroke="#a00000" stroke-width="1.6"/>
<line x1="940.25" y1="504" x2="945.45" y2="504" stroke="#a00000" stroke-width="1.6"/>
<rect x="939.35" y="469.6" width="3.8" height="3.8" fill="#a00000" stroke="none" stroke-width="0"/>
<rect x="942.55" y="475.4" width="3.8" height="3.8" fill="#a00000" stroke="none" stroke-width="0"/>
<rect x="940.95" y="484.1" width="3.8" height="3.8" fill="#a00000" stroke="none" stroke-width="0"/>
<rect x="939.35" y="491.1" width="3.8" height="3.8" fill="#a00000" stroke="none" stroke-width="0"/>
<rect x="942.55" y="498.2" width="3.8" height="3.8" fill="#a00000" stroke="none" stroke-width="0"/>
<line x1="958.2" y1="540" x2="958.2" y2="556" stroke="#000" stroke-width="1.6"/>
<line x1="955.6" y1="540" x2="960.8" y2="540" stroke="#000" stroke-width="1.6"/>
<line x1="955.6" y1="556" x2="960.8" y2="556" stroke="#000" stroke-width="1.6"/>
<circle cx="956.6" cy="536.5" r="2" fill="#000" stroke="none" stroke-width="0"/>
<circle cx="959.8" cy="539.8" r="2" fill="#000" stroke="none" stroke-width="0"/>
<circle cx="958.2" cy="550" r="2" fill="#000" stroke="none" stroke-width="0"/>
<circle cx="956.6" cy="556" r="2" fill="#000" stroke="none" stroke-width="0"/>
<line x1="967.3" y1="535" x2="967.3" y2="538" stroke="#a00000" stroke-width="1.6"/>
<line x1="964.7" y1="535" x2="969.9" y2="535" stroke="#a00000" stroke-width="1.6"/>
<line x1="964.7" y1="538" x2="969.9" y2="538" stroke="#a00000" stroke-width="1.6"/>
<rect x="963.8" y="534.1" width="3.8" height="3.8" fill="#a00000" stroke="none" stroke-width="0"/>
<rect x="967" y="535.1" width="3.8" height="3.8" fill="#a00000" stroke="none" stroke-width="0"/>
<rect x="965.4" y="536.1" width="3.8" height="3.8" fill="#a00000" stroke="none" stroke-width="0"/>
<line x1="1007.6" y1="436.3" x2="1007.6" y2="451" stroke="#000" stroke-width="1.6"/>
<line x1="1005" y1="436.3" x2="1010.2" y2="436.3" stroke="#000" stroke-width="1.6"/>
<line x1="1005" y1="451" x2="1010.2" y2="451" stroke="#000" stroke-width="1.6"/>
<circle cx="1006" cy="431.5" r="2" fill="#000" stroke="none" stroke-width="0"/>
<circle cx="1009.2" cy="438" r="2" fill="#000" stroke="none" stroke-width="0"/>
<circle cx="1007.6" cy="443" r="2" fill="#000" stroke="none" stroke-width="0"/>
<circle cx="1006" cy="447" r="2" fill="#000" stroke="none" stroke-width="0"/>
<circle cx="1009.2" cy="452" r="2" fill="#000" stroke="none" stroke-width="0"/>
<line x1="1016.7" y1="437" x2="1016.7" y2="461" stroke="#a00000" stroke-width="1.6"/>
<line x1="1014.1" y1="437" x2="1019.3" y2="437" stroke="#a00000" stroke-width="1.6"/>
<line x1="1014.1" y1="461" x2="1019.3" y2="461" stroke="#a00000" stroke-width="1.6"/>
<rect x="1013.2" y="428" width="3.8" height="3.8" fill="#a00000" stroke="none" stroke-width="0"/>
<rect x="1016.4" y="434" width="3.8" height="3.8" fill="#a00000" stroke="none" stroke-width="0"/>
<rect x="1014.8" y="443.1" width="3.8" height="3.8" fill="#a00000" stroke="none" stroke-width="0"/>
<rect x="1013.2" y="450.1" width="3.8" height="3.8" fill="#a00000" stroke="none" stroke-width="0"/>
<rect x="1016.4" y="456.1" width="3.8" height="3.8" fill="#a00000" stroke="none" stroke-width="0"/>
<line x1="1032.05" y1="448.3" x2="1032.05" y2="478" stroke="#000" stroke-width="1.6"/>
<line x1="1029.45" y1="448.3" x2="1034.65" y2="448.3" stroke="#000" stroke-width="1.6"/>
<line x1="1029.45" y1="478" x2="1034.65" y2="478" stroke="#000" stroke-width="1.6"/>
<circle cx="1030.45" cy="439.8" r="2" fill="#000" stroke="none" stroke-width="0"/>
<circle cx="1033.65" cy="455" r="2" fill="#000" stroke="none" stroke-width="0"/>
<circle cx="1032.05" cy="465" r="2" fill="#000" stroke="none" stroke-width="0"/>
<circle cx="1030.45" cy="472" r="2" fill="#000" stroke="none" stroke-width="0"/>
<circle cx="1033.65" cy="478" r="2" fill="#000" stroke="none" stroke-width="0"/>
<line x1="1041.15" y1="447.7" x2="1041.15" y2="478" stroke="#a00000" stroke-width="1.6"/>
<line x1="1038.55" y1="447.7" x2="1043.75" y2="447.7" stroke="#a00000" stroke-width="1.6"/>
<line x1="1038.55" y1="478" x2="1043.75" y2="478" stroke="#a00000" stroke-width="1.6"/>
<rect x="1037.65" y="442" width="3.8" height="3.8" fill="#a00000" stroke="none" stroke-width="0"/>
<rect x="1040.85" y="452.2" width="3.8" height="3.8" fill="#a00000" stroke="none" stroke-width="0"/>
<rect x="1039.25" y="460.1" width="3.8" height="3.8" fill="#a00000" stroke="none" stroke-width="0"/>
<rect x="1037.65" y="468.1" width="3.8" height="3.8" fill="#a00000" stroke="none" stroke-width="0"/>
<rect x="1040.85" y="473.1" width="3.8" height="3.8" fill="#a00000" stroke="none" stroke-width="0"/>
<rect x="1039.25" y="481.1" width="3.8" height="3.8" fill="#a00000" stroke="none" stroke-width="0"/>
<line x1="1056.5" y1="506.2" x2="1056.5" y2="534" stroke="#000" stroke-width="1.6"/>
<line x1="1053.9" y1="506.2" x2="1059.1" y2="506.2" stroke="#000" stroke-width="1.6"/>
<line x1="1053.9" y1="534" x2="1059.1" y2="534" stroke="#000" stroke-width="1.6"/>
<circle cx="1054.9" cy="499.4" r="2" fill="#000" stroke="none" stroke-width="0"/>
<circle cx="1058.1" cy="515" r="2" fill="#000" stroke="none" stroke-width="0"/>
<circle cx="1056.5" cy="522" r="2" fill="#000" stroke="none" stroke-width="0"/>
<circle cx="1054.9" cy="528" r="2" fill="#000" stroke="none" stroke-width="0"/>
<circle cx="1058.1" cy="535" r="2" fill="#000" stroke="none" stroke-width="0"/>
<line x1="1065.6" y1="517.9" x2="1065.6" y2="537" stroke="#a00000" stroke-width="1.6"/>
<line x1="1063" y1="517.9" x2="1068.2" y2="517.9" stroke="#a00000" stroke-width="1.6"/>
<line x1="1063" y1="537" x2="1068.2" y2="537" stroke="#a00000" stroke-width="1.6"/>
<rect x="1062.1" y="507.4" width="3.8" height="3.8" fill="#a00000" stroke="none" stroke-width="0"/>
<rect x="1065.3" y="523.1" width="3.8" height="3.8" fill="#a00000" stroke="none" stroke-width="0"/>
<rect x="1063.7" y="528.1" width="3.8" height="3.8" fill="#a00000" stroke="none" stroke-width="0"/>
<rect x="1062.1" y="532.1" width="3.8" height="3.8" fill="#a00000" stroke="none" stroke-width="0"/>
<rect x="1065.3" y="535.1" width="3.8" height="3.8" fill="#a00000" stroke="none" stroke-width="0"/>
<line x1="1105.6" y1="440" x2="1105.6" y2="452" stroke="#000" stroke-width="1.6"/>
<line x1="1103" y1="440" x2="1108.2" y2="440" stroke="#000" stroke-width="1.6"/>
<line x1="1103" y1="452" x2="1108.2" y2="452" stroke="#000" stroke-width="1.6"/>
<circle cx="1104" cy="439.8" r="2" fill="#000" stroke="none" stroke-width="0"/>
<circle cx="1107.2" cy="441" r="2" fill="#000" stroke="none" stroke-width="0"/>
<circle cx="1105.6" cy="444" r="2" fill="#000" stroke="none" stroke-width="0"/>
<circle cx="1104" cy="448" r="2" fill="#000" stroke="none" stroke-width="0"/>
<circle cx="1107.2" cy="452" r="2" fill="#000" stroke="none" stroke-width="0"/>
<line x1="1114.7" y1="438" x2="1114.7" y2="455" stroke="#a00000" stroke-width="1.6"/>
<line x1="1112.1" y1="438" x2="1117.3" y2="438" stroke="#a00000" stroke-width="1.6"/>
<line x1="1112.1" y1="455" x2="1117.3" y2="455" stroke="#a00000" stroke-width="1.6"/>
<rect x="1111.2" y="431" width="3.8" height="3.8" fill="#a00000" stroke="none" stroke-width="0"/>
<rect x="1114.4" y="438.1" width="3.8" height="3.8" fill="#a00000" stroke="none" stroke-width="0"/>
<rect x="1112.8" y="443.1" width="3.8" height="3.8" fill="#a00000" stroke="none" stroke-width="0"/>
<rect x="1111.2" y="448.1" width="3.8" height="3.8" fill="#a00000" stroke="none" stroke-width="0"/>
<rect x="1114.4" y="453.1" width="3.8" height="3.8" fill="#a00000" stroke="none" stroke-width="0"/>
<line x1="1130.05" y1="447" x2="1130.05" y2="465" stroke="#000" stroke-width="1.6"/>
<line x1="1127.45" y1="447" x2="1132.65" y2="447" stroke="#000" stroke-width="1.6"/>
<line x1="1127.45" y1="465" x2="1132.65" y2="465" stroke="#000" stroke-width="1.6"/>
<circle cx="1128.45" cy="443.9" r="2" fill="#000" stroke="none" stroke-width="0"/>
<circle cx="1131.65" cy="450" r="2" fill="#000" stroke="none" stroke-width="0"/>
<circle cx="1130.05" cy="455" r="2" fill="#000" stroke="none" stroke-width="0"/>
<circle cx="1128.45" cy="460" r="2" fill="#000" stroke="none" stroke-width="0"/>
<circle cx="1131.65" cy="465" r="2" fill="#000" stroke="none" stroke-width="0"/>
<circle cx="1130.05" cy="468" r="2" fill="#000" stroke="none" stroke-width="0"/>
<line x1="1139.15" y1="443" x2="1139.15" y2="458" stroke="#a00000" stroke-width="1.6"/>
<line x1="1136.55" y1="443" x2="1141.75" y2="443" stroke="#a00000" stroke-width="1.6"/>
<line x1="1136.55" y1="458" x2="1141.75" y2="458" stroke="#a00000" stroke-width="1.6"/>
<rect x="1135.65" y="440.1" width="3.8" height="3.8" fill="#a00000" stroke="none" stroke-width="0"/>
<rect x="1138.85" y="444.1" width="3.8" height="3.8" fill="#a00000" stroke="none" stroke-width="0"/>
<rect x="1137.25" y="448.1" width="3.8" height="3.8" fill="#a00000" stroke="none" stroke-width="0"/>
<rect x="1135.65" y="453.1" width="3.8" height="3.8" fill="#a00000" stroke="none" stroke-width="0"/>
<rect x="1138.85" y="458.1" width="3.8" height="3.8" fill="#a00000" stroke="none" stroke-width="0"/>
<line x1="1154.5" y1="504" x2="1154.5" y2="519" stroke="#000" stroke-width="1.6"/>
<line x1="1151.9" y1="504" x2="1157.1" y2="504" stroke="#000" stroke-width="1.6"/>
<line x1="1151.9" y1="519" x2="1157.1" y2="519" stroke="#000" stroke-width="1.6"/>
<circle cx="1152.9" cy="502.1" r="2" fill="#000" stroke="none" stroke-width="0"/>
<circle cx="1156.1" cy="506.2" r="2" fill="#000" stroke="none" stroke-width="0"/>
<circle cx="1154.5" cy="512" r="2" fill="#000" stroke="none" stroke-width="0"/>
<circle cx="1152.9" cy="515" r="2" fill="#000" stroke="none" stroke-width="0"/>
<circle cx="1156.1" cy="520" r="2" fill="#000" stroke="none" stroke-width="0"/>
<line x1="1163.6" y1="510" x2="1163.6" y2="534" stroke="#a00000" stroke-width="1.6"/>
<line x1="1161" y1="510" x2="1166.2" y2="510" stroke="#a00000" stroke-width="1.6"/>
<line x1="1161" y1="534" x2="1166.2" y2="534" stroke="#a00000" stroke-width="1.6"/>
<rect x="1160.1" y="507.8" width="3.8" height="3.8" fill="#a00000" stroke="none" stroke-width="0"/>
<rect x="1163.3" y="516.1" width="3.8" height="3.8" fill="#a00000" stroke="none" stroke-width="0"/>
<rect x="1161.7" y="522.1" width="3.8" height="3.8" fill="#a00000" stroke="none" stroke-width="0"/>
<rect x="1160.1" y="528.1" width="3.8" height="3.8" fill="#a00000" stroke="none" stroke-width="0"/>
<rect x="1163.3" y="533.1" width="3.8" height="3.8" fill="#a00000" stroke="none" stroke-width="0"/>
<line x1="1203.3" y1="440" x2="1203.3" y2="455" stroke="#000" stroke-width="1.6"/>
<line x1="1200.7" y1="440" x2="1205.9" y2="440" stroke="#000" stroke-width="1.6"/>
<line x1="1200.7" y1="455" x2="1205.9" y2="455" stroke="#000" stroke-width="1.6"/>
<circle cx="1201.7" cy="438.7" r="2" fill="#000" stroke="none" stroke-width="0"/>
<circle cx="1204.9" cy="441" r="2" fill="#000" stroke="none" stroke-width="0"/>
<circle cx="1203.3" cy="445" r="2" fill="#000" stroke="none" stroke-width="0"/>
<circle cx="1201.7" cy="450" r="2" fill="#000" stroke="none" stroke-width="0"/>
<circle cx="1204.9" cy="458.1" r="2" fill="#000" stroke="none" stroke-width="0"/>
<line x1="1212.4" y1="446.8" x2="1212.4" y2="466" stroke="#a00000" stroke-width="1.6"/>
<line x1="1209.8" y1="446.8" x2="1215" y2="446.8" stroke="#a00000" stroke-width="1.6"/>
<line x1="1209.8" y1="466" x2="1215" y2="466" stroke="#a00000" stroke-width="1.6"/>
<rect x="1208.9" y="444.1" width="3.8" height="3.8" fill="#a00000" stroke="none" stroke-width="0"/>
<rect x="1212.1" y="448.1" width="3.8" height="3.8" fill="#a00000" stroke="none" stroke-width="0"/>
<rect x="1210.5" y="453.1" width="3.8" height="3.8" fill="#a00000" stroke="none" stroke-width="0"/>
<rect x="1208.9" y="458.1" width="3.8" height="3.8" fill="#a00000" stroke="none" stroke-width="0"/>
<rect x="1212.1" y="462.1" width="3.8" height="3.8" fill="#a00000" stroke="none" stroke-width="0"/>
<line x1="1227.75" y1="444.4" x2="1227.75" y2="478" stroke="#000" stroke-width="1.6"/>
<line x1="1225.15" y1="444.4" x2="1230.35" y2="444.4" stroke="#000" stroke-width="1.6"/>
<line x1="1225.15" y1="478" x2="1230.35" y2="478" stroke="#000" stroke-width="1.6"/>
<circle cx="1226.15" cy="431.5" r="2" fill="#000" stroke="none" stroke-width="0"/>
<circle cx="1229.35" cy="452" r="2" fill="#000" stroke="none" stroke-width="0"/>
<circle cx="1227.75" cy="460" r="2" fill="#000" stroke="none" stroke-width="0"/>
<circle cx="1226.15" cy="465" r="2" fill="#000" stroke="none" stroke-width="0"/>
<circle cx="1229.35" cy="470" r="2" fill="#000" stroke="none" stroke-width="0"/>
<circle cx="1227.75" cy="474" r="2" fill="#000" stroke="none" stroke-width="0"/>
<line x1="1236.85" y1="453" x2="1236.85" y2="473" stroke="#a00000" stroke-width="1.6"/>
<line x1="1234.25" y1="453" x2="1239.45" y2="453" stroke="#a00000" stroke-width="1.6"/>
<line x1="1234.25" y1="473" x2="1239.45" y2="473" stroke="#a00000" stroke-width="1.6"/>
<rect x="1233.35" y="450.5" width="3.8" height="3.8" fill="#a00000" stroke="none" stroke-width="0"/>
<rect x="1236.55" y="453.1" width="3.8" height="3.8" fill="#a00000" stroke="none" stroke-width="0"/>
<rect x="1234.95" y="458.1" width="3.8" height="3.8" fill="#a00000" stroke="none" stroke-width="0"/>
<rect x="1233.35" y="463.1" width="3.8" height="3.8" fill="#a00000" stroke="none" stroke-width="0"/>
<rect x="1236.55" y="468.1" width="3.8" height="3.8" fill="#a00000" stroke="none" stroke-width="0"/>
<rect x="1234.95" y="474.1" width="3.8" height="3.8" fill="#a00000" stroke="none" stroke-width="0"/>
<line x1="1252.2" y1="506" x2="1252.2" y2="530" stroke="#000" stroke-width="1.6"/>
<line x1="1249.6" y1="506" x2="1254.8" y2="506" stroke="#000" stroke-width="1.6"/>
<line x1="1249.6" y1="530" x2="1254.8" y2="530" stroke="#000" stroke-width="1.6"/>
<circle cx="1250.6" cy="500.9" r="2" fill="#000" stroke="none" stroke-width="0"/>
<circle cx="1253.8" cy="506.5" r="2" fill="#000" stroke="none" stroke-width="0"/>
<circle cx="1252.2" cy="520" r="2" fill="#000" stroke="none" stroke-width="0"/>
<circle cx="1250.6" cy="525" r="2" fill="#000" stroke="none" stroke-width="0"/>
<circle cx="1253.8" cy="531" r="2" fill="#000" stroke="none" stroke-width="0"/>
<line x1="1261.3" y1="523.4" x2="1261.3" y2="536" stroke="#a00000" stroke-width="1.6"/>
<line x1="1258.7" y1="523.4" x2="1263.9" y2="523.4" stroke="#a00000" stroke-width="1.6"/>
<line x1="1258.7" y1="536" x2="1263.9" y2="536" stroke="#a00000" stroke-width="1.6"/>
<rect x="1257.8" y="520.1" width="3.8" height="3.8" fill="#a00000" stroke="none" stroke-width="0"/>
<rect x="1261" y="524.1" width="3.8" height="3.8" fill="#a00000" stroke="none" stroke-width="0"/>
<rect x="1259.4" y="528.1" width="3.8" height="3.8" fill="#a00000" stroke="none" stroke-width="0"/>
<rect x="1257.8" y="531.1" width="3.8" height="3.8" fill="#a00000" stroke="none" stroke-width="0"/>
<rect x="1261" y="536.1" width="3.8" height="3.8" fill="#a00000" stroke="none" stroke-width="0"/>
<line x1="1301.6" y1="443" x2="1301.6" y2="453" stroke="#000" stroke-width="1.6"/>
<line x1="1299" y1="443" x2="1304.2" y2="443" stroke="#000" stroke-width="1.6"/>
<line x1="1299" y1="453" x2="1304.2" y2="453" stroke="#000" stroke-width="1.6"/>
<circle cx="1300" cy="438.7" r="2" fill="#000" stroke="none" stroke-width="0"/>
<circle cx="1303.2" cy="443" r="2" fill="#000" stroke="none" stroke-width="0"/>
<circle cx="1301.6" cy="447" r="2" fill="#000" stroke="none" stroke-width="0"/>
<circle cx="1300" cy="449" r="2" fill="#000" stroke="none" stroke-width="0"/>
<circle cx="1303.2" cy="451" r="2" fill="#000" stroke="none" stroke-width="0"/>
<line x1="1310.7" y1="448.4" x2="1310.7" y2="461" stroke="#a00000" stroke-width="1.6"/>
<line x1="1308.1" y1="448.4" x2="1313.3" y2="448.4" stroke="#a00000" stroke-width="1.6"/>
<line x1="1308.1" y1="461" x2="1313.3" y2="461" stroke="#a00000" stroke-width="1.6"/>
<rect x="1307.2" y="445.1" width="3.8" height="3.8" fill="#a00000" stroke="none" stroke-width="0"/>
<rect x="1310.4" y="448.1" width="3.8" height="3.8" fill="#a00000" stroke="none" stroke-width="0"/>
<rect x="1308.8" y="453.1" width="3.8" height="3.8" fill="#a00000" stroke="none" stroke-width="0"/>
<rect x="1307.2" y="456.1" width="3.8" height="3.8" fill="#a00000" stroke="none" stroke-width="0"/>
<rect x="1310.4" y="460.1" width="3.8" height="3.8" fill="#a00000" stroke="none" stroke-width="0"/>
<line x1="1326.05" y1="447" x2="1326.05" y2="461" stroke="#000" stroke-width="1.6"/>
<line x1="1323.45" y1="447" x2="1328.65" y2="447" stroke="#000" stroke-width="1.6"/>
<line x1="1323.45" y1="461" x2="1328.65" y2="461" stroke="#000" stroke-width="1.6"/>
<circle cx="1324.45" cy="443.2" r="2" fill="#000" stroke="none" stroke-width="0"/>
<circle cx="1327.65" cy="449" r="2" fill="#000" stroke="none" stroke-width="0"/>
<circle cx="1326.05" cy="453" r="2" fill="#000" stroke="none" stroke-width="0"/>
<circle cx="1324.45" cy="456" r="2" fill="#000" stroke="none" stroke-width="0"/>
<line x1="1335.15" y1="450" x2="1335.15" y2="468" stroke="#a00000" stroke-width="1.6"/>
<line x1="1332.55" y1="450" x2="1337.75" y2="450" stroke="#a00000" stroke-width="1.6"/>
<line x1="1332.55" y1="468" x2="1337.75" y2="468" stroke="#a00000" stroke-width="1.6"/>
<rect x="1331.65" y="440.9" width="3.8" height="3.8" fill="#a00000" stroke="none" stroke-width="0"/>
<rect x="1334.85" y="448.1" width="3.8" height="3.8" fill="#a00000" stroke="none" stroke-width="0"/>
<rect x="1333.25" y="453.1" width="3.8" height="3.8" fill="#a00000" stroke="none" stroke-width="0"/>
<rect x="1331.65" y="457.1" width="3.8" height="3.8" fill="#a00000" stroke="none" stroke-width="0"/>
<rect x="1334.85" y="461.1" width="3.8" height="3.8" fill="#a00000" stroke="none" stroke-width="0"/>
<line x1="1350.5" y1="493.6" x2="1350.5" y2="528" stroke="#000" stroke-width="1.6"/>
<line x1="1347.9" y1="493.6" x2="1353.1" y2="493.6" stroke="#000" stroke-width="1.6"/>
<line x1="1347.9" y1="528" x2="1353.1" y2="528" stroke="#000" stroke-width="1.6"/>
<circle cx="1348.9" cy="495.2" r="2" fill="#000" stroke="none" stroke-width="0"/>
<circle cx="1352.1" cy="498" r="2" fill="#000" stroke="none" stroke-width="0"/>
<circle cx="1350.5" cy="503" r="2" fill="#000" stroke="none" stroke-width="0"/>
<circle cx="1348.9" cy="514" r="2" fill="#000" stroke="none" stroke-width="0"/>
<circle cx="1352.1" cy="524.5" r="2" fill="#000" stroke="none" stroke-width="0"/>
<line x1="1359.6" y1="518" x2="1359.6" y2="536" stroke="#a00000" stroke-width="1.6"/>
<line x1="1357" y1="518" x2="1362.2" y2="518" stroke="#a00000" stroke-width="1.6"/>
<line x1="1357" y1="536" x2="1362.2" y2="536" stroke="#a00000" stroke-width="1.6"/>
<rect x="1356.1" y="512.7" width="3.8" height="3.8" fill="#a00000" stroke="none" stroke-width="0"/>
<rect x="1359.3" y="518.1" width="3.8" height="3.8" fill="#a00000" stroke="none" stroke-width="0"/>
<rect x="1357.7" y="524.1" width="3.8" height="3.8" fill="#a00000" stroke="none" stroke-width="0"/>
<rect x="1356.1" y="528.1" width="3.8" height="3.8" fill="#a00000" stroke="none" stroke-width="0"/>
<rect x="1359.3" y="534.1" width="3.8" height="3.8" fill="#a00000" stroke="none" stroke-width="0"/>
<line x1="803" y1="590.5" x2="1366" y2="590.5" stroke="#000" stroke-width="2"/>
<text x="1296.3" y="433.9" font-size="21" textLength="99.8" lengthAdjust="spacingAndGlyphs"><tspan font-style="italic">P</tspan> = 0.0352</text>
<line x1="1349.3" y1="447.6" x2="1363.3" y2="447.6" stroke="#000" stroke-width="3"/>
<text x="13.5" y="1120.8" font-size="30.5" font-weight="bold" stroke="#000" stroke-width="0.9" transform="translate(13.5,0) scale(1.2,1) translate(-13.5,0)">g</text>
<text x="246.5" y="1125.7" font-size="25" text-anchor="middle">D614:G614</text>
<text x="246.5" y="1155.2" font-size="25" text-anchor="middle">1:1</text>
<line x1="52.1" y1="1148.6" x2="52.1" y2="1409.2" stroke="#222" stroke-width="1.4"/>
<line x1="51.4" y1="1409.2" x2="448.4" y2="1409.2" stroke="#222" stroke-width="1.4"/>
<line x1="48.1" y1="1158.2" x2="52.1" y2="1158.2" stroke="#222" stroke-width="1.4"/>
<line x1="48.1" y1="1359.4" x2="52.1" y2="1359.4" stroke="#222" stroke-width="1.4"/>
<line x1="52.1" y1="1359.4" x2="448.4" y2="1359.4" stroke="#000" stroke-width="1.4"/>
<line x1="99.5" y1="1409.2" x2="99.5" y2="1413.7" stroke="#222" stroke-width="1.4"/>
<line x1="166.4" y1="1409.2" x2="166.4" y2="1413.7" stroke="#222" stroke-width="1.4"/>
<line x1="233.2" y1="1409.2" x2="233.2" y2="1413.7" stroke="#222" stroke-width="1.4"/>
<line x1="300" y1="1409.2" x2="300" y2="1413.7" stroke="#222" stroke-width="1.4"/>
<line x1="366.8" y1="1409.2" x2="366.8" y2="1413.7" stroke="#222" stroke-width="1.4"/>
<line x1="433.4" y1="1409.2" x2="433.4" y2="1413.7" stroke="#222" stroke-width="1.4"/>
<text x="46.2" y="1165.9" font-size="20" text-anchor="end">10</text>
<text x="44.3" y="1365.3" font-size="20" text-anchor="end">1</text>
<text transform="translate(15.3,1281.8) rotate(-90)" font-size="20" text-anchor="middle" textLength="240" lengthAdjust="spacingAndGlyphs">Relative replicative fitness</text>
<text x="96.7" y="1435.7" font-size="17" text-anchor="middle">Nasal</text>
<text x="96.7" y="1455" font-size="17" text-anchor="middle">wash</text>
<text x="166.7" y="1435.7" font-size="17" text-anchor="middle">Trachea</text>
<text x="234.2" y="1435.7" font-size="17" text-anchor="middle">Lung</text>
<text x="234.2" y="1455" font-size="17" text-anchor="middle">cranial</text>
<text x="301.7" y="1435.7" font-size="17" text-anchor="middle">Lung</text>
<text x="301.7" y="1455" font-size="17" text-anchor="middle">middle</text>
<text x="366.5" y="1435.7" font-size="17" text-anchor="middle">Lung</text>
<text x="366.5" y="1455" font-size="17" text-anchor="middle">caudal</text>
<text x="436.3" y="1435.7" font-size="17" text-anchor="middle">Lung</text>
<text x="436.3" y="1455" font-size="17" text-anchor="middle">accessory</text>
<text transform="translate(107.6,1278.2) rotate(-90)" font-size="21" textLength="97.9" lengthAdjust="spacingAndGlyphs"><tspan font-style="italic">P</tspan> &lt; 0.0001</text>
<text transform="translate(240,1289.3) rotate(-90)" font-size="21" textLength="98.4" lengthAdjust="spacingAndGlyphs"><tspan font-style="italic">P</tspan> &lt; 0.0001</text>
<text transform="translate(305.7,1251.9) rotate(-90)" font-size="21" textLength="89.3" lengthAdjust="spacingAndGlyphs"><tspan font-style="italic">P</tspan> = 0.017</text>
<clipPath id="vc1"><path d="M100.45,1300.3 L100.5,1300.94 L100.57,1301.58 L100.65,1302.22 L100.76,1302.86 L100.89,1303.5 L101.06,1304.14 L101.26,1304.78 L101.5,1305.42 L101.79,1306.06 L102.13,1306.7 L102.52,1307.34 L102.97,1307.98 L103.48,1308.62 L104.05,1309.26 L104.68,1309.9 L105.37,1310.54 L106.1,1311.18 L106.87,1311.82 L107.67,1312.46 L108.49,1313.1 L109.3,1313.74 L110.1,1314.38 L110.87,1315.02 L111.58,1315.66 L112.21,1316.3 L112.76,1316.94 L113.21,1317.58 L113.53,1318.22 L113.73,1318.86 L113.8,1319.5 L113.73,1320.14 L113.53,1320.78 L113.21,1321.42 L112.76,1322.06 L112.21,1322.7 L111.58,1323.34 L110.87,1323.98 L110.1,1324.62 L109.3,1325.26 L108.49,1325.9 L107.67,1326.54 L106.87,1327.18 L106.1,1327.82 L105.37,1328.46 L104.68,1329.1 L104.05,1329.74 L103.48,1330.38 L102.97,1331.02 L102.52,1331.66 L102.13,1332.3 L101.79,1332.94 L101.5,1333.58 L101.26,1334.22 L101.06,1334.86 L100.89,1335.5 L100.76,1336.14 L100.65,1336.78 L100.57,1337.42 L100.5,1338.06 L100.45,1338.7 L100.15,1338.7 L100.1,1338.06 L100.03,1337.42 L99.95,1336.78 L99.84,1336.14 L99.71,1335.5 L99.54,1334.86 L99.34,1334.22 L99.1,1333.58 L98.81,1332.94 L98.47,1332.3 L98.08,1331.66 L97.63,1331.02 L97.12,1330.38 L96.55,1329.74 L95.92,1329.1 L95.23,1328.46 L94.5,1327.82 L93.73,1327.18 L92.93,1326.54 L92.11,1325.9 L91.3,1325.26 L90.5,1324.62 L89.73,1323.98 L89.02,1323.34 L88.39,1322.7 L87.84,1322.06 L87.39,1321.42 L87.07,1320.78 L86.87,1320.14 L86.8,1319.5 L86.87,1318.86 L87.07,1318.22 L87.39,1317.58 L87.84,1316.94 L88.39,1316.3 L89.02,1315.66 L89.73,1315.02 L90.5,1314.38 L91.3,1313.74 L92.11,1313.1 L92.93,1312.46 L93.73,1311.82 L94.5,1311.18 L95.23,1310.54 L95.92,1309.9 L96.55,1309.26 L97.12,1308.62 L97.63,1307.98 L98.08,1307.34 L98.47,1306.7 L98.81,1306.06 L99.1,1305.42 L99.34,1304.78 L99.54,1304.14 L99.71,1303.5 L99.84,1302.86 L99.95,1302.22 L100.03,1301.58 L100.1,1300.94 L100.15,1300.3 Z"/></clipPath>
<rect x="84.8" y="1313.7" width="31" height="11.5" fill="#cbcbcb" clip-path="url(#vc1)"/>
<line x1="86.8" y1="1319.5" x2="113.8" y2="1319.5" stroke="#000" stroke-width="1.5"/>
<path d="M100.45,1300.3 L100.5,1300.94 L100.57,1301.58 L100.65,1302.22 L100.76,1302.86 L100.89,1303.5 L101.06,1304.14 L101.26,1304.78 L101.5,1305.42 L101.79,1306.06 L102.13,1306.7 L102.52,1307.34 L102.97,1307.98 L103.48,1308.62 L104.05,1309.26 L104.68,1309.9 L105.37,1310.54 L106.1,1311.18 L106.87,1311.82 L107.67,1312.46 L108.49,1313.1 L109.3,1313.74 L110.1,1314.38 L110.87,1315.02 L111.58,1315.66 L112.21,1316.3 L112.76,1316.94 L113.21,1317.58 L113.53,1318.22 L113.73,1318.86 L113.8,1319.5 L113.73,1320.14 L113.53,1320.78 L113.21,1321.42 L112.76,1322.06 L112.21,1322.7 L111.58,1323.34 L110.87,1323.98 L110.1,1324.62 L109.3,1325.26 L108.49,1325.9 L107.67,1326.54 L106.87,1327.18 L106.1,1327.82 L105.37,1328.46 L104.68,1329.1 L104.05,1329.74 L103.48,1330.38 L102.97,1331.02 L102.52,1331.66 L102.13,1332.3 L101.79,1332.94 L101.5,1333.58 L101.26,1334.22 L101.06,1334.86 L100.89,1335.5 L100.76,1336.14 L100.65,1336.78 L100.57,1337.42 L100.5,1338.06 L100.45,1338.7 L100.15,1338.7 L100.1,1338.06 L100.03,1337.42 L99.95,1336.78 L99.84,1336.14 L99.71,1335.5 L99.54,1334.86 L99.34,1334.22 L99.1,1333.58 L98.81,1332.94 L98.47,1332.3 L98.08,1331.66 L97.63,1331.02 L97.12,1330.38 L96.55,1329.74 L95.92,1329.1 L95.23,1328.46 L94.5,1327.82 L93.73,1327.18 L92.93,1326.54 L92.11,1325.9 L91.3,1325.26 L90.5,1324.62 L89.73,1323.98 L89.02,1323.34 L88.39,1322.7 L87.84,1322.06 L87.39,1321.42 L87.07,1320.78 L86.87,1320.14 L86.8,1319.5 L86.87,1318.86 L87.07,1318.22 L87.39,1317.58 L87.84,1316.94 L88.39,1316.3 L89.02,1315.66 L89.73,1315.02 L90.5,1314.38 L91.3,1313.74 L92.11,1313.1 L92.93,1312.46 L93.73,1311.82 L94.5,1311.18 L95.23,1310.54 L95.92,1309.9 L96.55,1309.26 L97.12,1308.62 L97.63,1307.98 L98.08,1307.34 L98.47,1306.7 L98.81,1306.06 L99.1,1305.42 L99.34,1304.78 L99.54,1304.14 L99.71,1303.5 L99.84,1302.86 L99.95,1302.22 L100.03,1301.58 L100.1,1300.94 L100.15,1300.3 Z" fill="none" stroke="#000" stroke-width="1.5" stroke-linejoin="round"/>
<circle cx="112" cy="1289.7" r="1.8" fill="none" stroke="#ff0000" stroke-width="1.2"/>
<circle cx="105.7" cy="1315" r="1.8" fill="none" stroke="#ff0000" stroke-width="1.2"/>
<circle cx="112" cy="1315" r="1.8" fill="none" stroke="#ff0000" stroke-width="1.2"/>
<circle cx="110.1" cy="1325.8" r="1.8" fill="none" stroke="#ff0000" stroke-width="1.2"/>
<circle cx="112.8" cy="1331.4" r="1.8" fill="none" stroke="#ff0000" stroke-width="1.2"/>
<circle cx="93.8" cy="1339" r="1.8" fill="none" stroke="#ff0000" stroke-width="1.2"/>
<clipPath id="vc2"><path d="M166.85,1293.6 L166.9,1295.05 L166.97,1296.51 L167.05,1297.96 L167.16,1299.42 L167.29,1300.88 L167.46,1302.33 L167.66,1303.78 L167.9,1305.24 L168.19,1306.69 L168.53,1308.15 L168.92,1309.61 L169.37,1311.06 L169.88,1312.51 L170.45,1313.97 L171.08,1315.42 L171.77,1316.88 L172.5,1318.34 L173.27,1319.79 L174.07,1321.24 L174.89,1322.7 L175.7,1324.15 L176.5,1325.61 L177.27,1327.07 L177.98,1328.52 L178.61,1329.97 L179.16,1331.43 L179.61,1332.88 L179.93,1334.34 L180.13,1335.8 L180.2,1337.25 L180.13,1338.7 L179.93,1340.16 L179.61,1341.62 L179.16,1343.07 L178.61,1344.53 L177.98,1345.98 L177.27,1347.43 L176.5,1348.89 L175.7,1350.35 L174.89,1351.8 L174.07,1353.26 L173.27,1354.71 L172.5,1356.16 L171.77,1357.62 L171.08,1359.08 L170.45,1360.53 L169.88,1361.99 L169.37,1363.44 L168.92,1364.89 L168.53,1366.35 L168.19,1367.81 L167.9,1369.26 L167.66,1370.72 L167.46,1372.17 L167.29,1373.62 L167.16,1375.08 L167.05,1376.54 L166.97,1377.99 L166.9,1379.45 L166.85,1380.9 L166.55,1380.9 L166.5,1379.45 L166.43,1377.99 L166.35,1376.54 L166.24,1375.08 L166.11,1373.62 L165.94,1372.17 L165.74,1370.72 L165.5,1369.26 L165.21,1367.81 L164.87,1366.35 L164.48,1364.89 L164.03,1363.44 L163.52,1361.99 L162.95,1360.53 L162.32,1359.08 L161.63,1357.62 L160.9,1356.16 L160.13,1354.71 L159.33,1353.26 L158.51,1351.8 L157.7,1350.35 L156.9,1348.89 L156.13,1347.43 L155.42,1345.98 L154.79,1344.53 L154.24,1343.07 L153.79,1341.62 L153.47,1340.16 L153.27,1338.7 L153.2,1337.25 L153.27,1335.8 L153.47,1334.34 L153.79,1332.88 L154.24,1331.43 L154.79,1329.97 L155.42,1328.52 L156.13,1327.07 L156.9,1325.61 L157.7,1324.15 L158.51,1322.7 L159.33,1321.24 L160.13,1319.79 L160.9,1318.34 L161.63,1316.88 L162.32,1315.42 L162.95,1313.97 L163.52,1312.51 L164.03,1311.06 L164.48,1309.61 L164.87,1308.15 L165.21,1306.69 L165.5,1305.24 L165.74,1303.78 L165.94,1302.33 L166.11,1300.88 L166.24,1299.42 L166.35,1297.96 L166.43,1296.51 L166.5,1295.05 L166.55,1293.6 Z"/></clipPath>
<rect x="151.2" y="1323.3" width="31" height="27.4" fill="#cbcbcb" clip-path="url(#vc2)"/>
<line x1="153.2" y1="1337.3" x2="180.2" y2="1337.3" stroke="#000" stroke-width="1.5"/>
<path d="M166.85,1293.6 L166.9,1295.05 L166.97,1296.51 L167.05,1297.96 L167.16,1299.42 L167.29,1300.88 L167.46,1302.33 L167.66,1303.78 L167.9,1305.24 L168.19,1306.69 L168.53,1308.15 L168.92,1309.61 L169.37,1311.06 L169.88,1312.51 L170.45,1313.97 L171.08,1315.42 L171.77,1316.88 L172.5,1318.34 L173.27,1319.79 L174.07,1321.24 L174.89,1322.7 L175.7,1324.15 L176.5,1325.61 L177.27,1327.07 L177.98,1328.52 L178.61,1329.97 L179.16,1331.43 L179.61,1332.88 L179.93,1334.34 L180.13,1335.8 L180.2,1337.25 L180.13,1338.7 L179.93,1340.16 L179.61,1341.62 L179.16,1343.07 L178.61,1344.53 L177.98,1345.98 L177.27,1347.43 L176.5,1348.89 L175.7,1350.35 L174.89,1351.8 L174.07,1353.26 L173.27,1354.71 L172.5,1356.16 L171.77,1357.62 L171.08,1359.08 L170.45,1360.53 L169.88,1361.99 L169.37,1363.44 L168.92,1364.89 L168.53,1366.35 L168.19,1367.81 L167.9,1369.26 L167.66,1370.72 L167.46,1372.17 L167.29,1373.62 L167.16,1375.08 L167.05,1376.54 L166.97,1377.99 L166.9,1379.45 L166.85,1380.9 L166.55,1380.9 L166.5,1379.45 L166.43,1377.99 L166.35,1376.54 L166.24,1375.08 L166.11,1373.62 L165.94,1372.17 L165.74,1370.72 L165.5,1369.26 L165.21,1367.81 L164.87,1366.35 L164.48,1364.89 L164.03,1363.44 L163.52,1361.99 L162.95,1360.53 L162.32,1359.08 L161.63,1357.62 L160.9,1356.16 L160.13,1354.71 L159.33,1353.26 L158.51,1351.8 L157.7,1350.35 L156.9,1348.89 L156.13,1347.43 L155.42,1345.98 L154.79,1344.53 L154.24,1343.07 L153.79,1341.62 L153.47,1340.16 L153.27,1338.7 L153.2,1337.25 L153.27,1335.8 L153.47,1334.34 L153.79,1332.88 L154.24,1331.43 L154.79,1329.97 L155.42,1328.52 L156.13,1327.07 L156.9,1325.61 L157.7,1324.15 L158.51,1322.7 L159.33,1321.24 L160.13,1319.79 L160.9,1318.34 L161.63,1316.88 L162.32,1315.42 L162.95,1313.97 L163.52,1312.51 L164.03,1311.06 L164.48,1309.61 L164.87,1308.15 L165.21,1306.69 L165.5,1305.24 L165.74,1303.78 L165.94,1302.33 L166.11,1300.88 L166.24,1299.42 L166.35,1297.96 L166.43,1296.51 L166.5,1295.05 L166.55,1293.6 Z" fill="none" stroke="#000" stroke-width="1.5" stroke-linejoin="round"/>
<circle cx="179" cy="1248.4" r="1.8" fill="none" stroke="#ff0000" stroke-width="1.2"/>
<circle cx="172.8" cy="1336.7" r="1.8" fill="none" stroke="#ff0000" stroke-width="1.2"/>
<circle cx="174" cy="1337" r="1.8" fill="none" stroke="#ff0000" stroke-width="1.2"/>
<circle cx="165.2" cy="1362.6" r="1.8" fill="none" stroke="#ff0000" stroke-width="1.2"/>
<circle cx="169.4" cy="1368.8" r="1.8" fill="none" stroke="#ff0000" stroke-width="1.2"/>
<circle cx="161.9" cy="1373.8" r="1.8" fill="none" stroke="#ff0000" stroke-width="1.2"/>
<clipPath id="vc3"><path d="M233.45,1314.7 L233.5,1315.12 L233.57,1315.53 L233.65,1315.95 L233.76,1316.36 L233.89,1316.78 L234.06,1317.19 L234.26,1317.61 L234.5,1318.02 L234.79,1318.44 L235.13,1318.85 L235.52,1319.27 L235.97,1319.68 L236.48,1320.1 L237.05,1320.51 L237.68,1320.93 L238.37,1321.34 L239.1,1321.76 L239.87,1322.17 L240.67,1322.59 L241.49,1323 L242.3,1323.42 L243.1,1323.83 L243.87,1324.25 L244.58,1324.66 L245.21,1325.08 L245.76,1325.49 L246.21,1325.91 L246.53,1326.32 L246.73,1326.74 L246.8,1327.15 L246.73,1327.57 L246.53,1327.98 L246.21,1328.39 L245.76,1328.81 L245.21,1329.23 L244.58,1329.64 L243.87,1330.06 L243.1,1330.47 L242.3,1330.88 L241.49,1331.3 L240.67,1331.72 L239.87,1332.13 L239.1,1332.55 L238.37,1332.96 L237.68,1333.38 L237.05,1333.79 L236.48,1334.21 L235.97,1334.62 L235.52,1335.04 L235.13,1335.45 L234.79,1335.87 L234.5,1336.28 L234.26,1336.69 L234.06,1337.11 L233.89,1337.53 L233.76,1337.94 L233.65,1338.36 L233.57,1338.77 L233.5,1339.18 L233.45,1339.6 L233.15,1339.6 L233.1,1339.18 L233.03,1338.77 L232.95,1338.36 L232.84,1337.94 L232.71,1337.53 L232.54,1337.11 L232.34,1336.69 L232.1,1336.28 L231.81,1335.87 L231.47,1335.45 L231.08,1335.04 L230.63,1334.62 L230.12,1334.21 L229.55,1333.79 L228.92,1333.38 L228.23,1332.96 L227.5,1332.55 L226.73,1332.13 L225.93,1331.72 L225.11,1331.3 L224.3,1330.88 L223.5,1330.47 L222.73,1330.06 L222.02,1329.64 L221.39,1329.23 L220.84,1328.81 L220.39,1328.39 L220.07,1327.98 L219.87,1327.57 L219.8,1327.15 L219.87,1326.74 L220.07,1326.32 L220.39,1325.91 L220.84,1325.49 L221.39,1325.08 L222.02,1324.66 L222.73,1324.25 L223.5,1323.83 L224.3,1323.42 L225.11,1323 L225.93,1322.59 L226.73,1322.17 L227.5,1321.76 L228.23,1321.34 L228.92,1320.93 L229.55,1320.51 L230.12,1320.1 L230.63,1319.68 L231.08,1319.27 L231.47,1318.85 L231.81,1318.44 L232.1,1318.02 L232.34,1317.61 L232.54,1317.19 L232.71,1316.78 L232.84,1316.36 L232.95,1315.95 L233.03,1315.53 L233.1,1315.12 L233.15,1314.7 Z"/></clipPath>
<rect x="217.8" y="1323.9" width="31" height="7.1" fill="#cbcbcb" clip-path="url(#vc3)"/>
<line x1="219.8" y1="1327.1" x2="246.8" y2="1327.1" stroke="#000" stroke-width="1.5"/>
<path d="M233.45,1314.7 L233.5,1315.12 L233.57,1315.53 L233.65,1315.95 L233.76,1316.36 L233.89,1316.78 L234.06,1317.19 L234.26,1317.61 L234.5,1318.02 L234.79,1318.44 L235.13,1318.85 L235.52,1319.27 L235.97,1319.68 L236.48,1320.1 L237.05,1320.51 L237.68,1320.93 L238.37,1321.34 L239.1,1321.76 L239.87,1322.17 L240.67,1322.59 L241.49,1323 L242.3,1323.42 L243.1,1323.83 L243.87,1324.25 L244.58,1324.66 L245.21,1325.08 L245.76,1325.49 L246.21,1325.91 L246.53,1326.32 L246.73,1326.74 L246.8,1327.15 L246.73,1327.57 L246.53,1327.98 L246.21,1328.39 L245.76,1328.81 L245.21,1329.23 L244.58,1329.64 L243.87,1330.06 L243.1,1330.47 L242.3,1330.88 L241.49,1331.3 L240.67,1331.72 L239.87,1332.13 L239.1,1332.55 L238.37,1332.96 L237.68,1333.38 L237.05,1333.79 L236.48,1334.21 L235.97,1334.62 L235.52,1335.04 L235.13,1335.45 L234.79,1335.87 L234.5,1336.28 L234.26,1336.69 L234.06,1337.11 L233.89,1337.53 L233.76,1337.94 L233.65,1338.36 L233.57,1338.77 L233.5,1339.18 L233.45,1339.6 L233.15,1339.6 L233.1,1339.18 L233.03,1338.77 L232.95,1338.36 L232.84,1337.94 L232.71,1337.53 L232.54,1337.11 L232.34,1336.69 L232.1,1336.28 L231.81,1335.87 L231.47,1335.45 L231.08,1335.04 L230.63,1334.62 L230.12,1334.21 L229.55,1333.79 L228.92,1333.38 L228.23,1332.96 L227.5,1332.55 L226.73,1332.13 L225.93,1331.72 L225.11,1331.3 L224.3,1330.88 L223.5,1330.47 L222.73,1330.06 L222.02,1329.64 L221.39,1329.23 L220.84,1328.81 L220.39,1328.39 L220.07,1327.98 L219.87,1327.57 L219.8,1327.15 L219.87,1326.74 L220.07,1326.32 L220.39,1325.91 L220.84,1325.49 L221.39,1325.08 L222.02,1324.66 L222.73,1324.25 L223.5,1323.83 L224.3,1323.42 L225.11,1323 L225.93,1322.59 L226.73,1322.17 L227.5,1321.76 L228.23,1321.34 L228.92,1320.93 L229.55,1320.51 L230.12,1320.1 L230.63,1319.68 L231.08,1319.27 L231.47,1318.85 L231.81,1318.44 L232.1,1318.02 L232.34,1317.61 L232.54,1317.19 L232.71,1316.78 L232.84,1316.36 L232.95,1315.95 L233.03,1315.53 L233.1,1315.12 L233.15,1314.7 Z" fill="none" stroke="#000" stroke-width="1.5" stroke-linejoin="round"/>
<circle cx="237.5" cy="1309.9" r="1.8" fill="none" stroke="#ff0000" stroke-width="1.2"/>
<circle cx="231.4" cy="1320" r="1.8" fill="none" stroke="#ff0000" stroke-width="1.2"/>
<circle cx="222.4" cy="1331.9" r="1.8" fill="none" stroke="#ff0000" stroke-width="1.2"/>
<circle cx="223.8" cy="1332.8" r="1.8" fill="none" stroke="#ff0000" stroke-width="1.2"/>
<circle cx="239.1" cy="1334.8" r="1.8" fill="none" stroke="#ff0000" stroke-width="1.2"/>
<circle cx="240.3" cy="1334.8" r="1.8" fill="none" stroke="#ff0000" stroke-width="1.2"/>
<clipPath id="vc4"><path d="M300.45,1300.3 L300.5,1301.34 L300.57,1302.38 L300.65,1303.41 L300.76,1304.45 L300.89,1305.49 L301.06,1306.53 L301.26,1307.57 L301.5,1308.61 L301.79,1309.64 L302.13,1310.68 L302.52,1311.72 L302.97,1312.76 L303.48,1313.8 L304.05,1314.84 L304.68,1315.87 L305.37,1316.91 L306.1,1317.95 L306.87,1318.99 L307.67,1320.03 L308.49,1321.07 L309.3,1322.1 L310.1,1323.14 L310.87,1324.18 L311.58,1325.22 L312.21,1326.26 L312.76,1327.3 L313.21,1328.33 L313.53,1329.37 L313.73,1330.41 L313.8,1331.45 L313.73,1332.49 L313.53,1333.53 L313.21,1334.56 L312.76,1335.6 L312.21,1336.64 L311.58,1337.68 L310.87,1338.72 L310.1,1339.76 L309.3,1340.79 L308.49,1341.83 L307.67,1342.87 L306.87,1343.91 L306.1,1344.95 L305.37,1345.99 L304.68,1347.02 L304.05,1348.06 L303.48,1349.1 L302.97,1350.14 L302.52,1351.18 L302.13,1352.22 L301.79,1353.25 L301.5,1354.29 L301.26,1355.33 L301.06,1356.37 L300.89,1357.41 L300.76,1358.45 L300.65,1359.48 L300.57,1360.52 L300.5,1361.56 L300.45,1362.6 L300.15,1362.6 L300.1,1361.56 L300.03,1360.52 L299.95,1359.48 L299.84,1358.45 L299.71,1357.41 L299.54,1356.37 L299.34,1355.33 L299.1,1354.29 L298.81,1353.25 L298.47,1352.22 L298.08,1351.18 L297.63,1350.14 L297.12,1349.1 L296.55,1348.06 L295.92,1347.02 L295.23,1345.99 L294.5,1344.95 L293.73,1343.91 L292.93,1342.87 L292.11,1341.83 L291.3,1340.79 L290.5,1339.76 L289.73,1338.72 L289.02,1337.68 L288.39,1336.64 L287.84,1335.6 L287.39,1334.56 L287.07,1333.53 L286.87,1332.49 L286.8,1331.45 L286.87,1330.41 L287.07,1329.37 L287.39,1328.33 L287.84,1327.3 L288.39,1326.26 L289.02,1325.22 L289.73,1324.18 L290.5,1323.14 L291.3,1322.1 L292.11,1321.07 L292.93,1320.03 L293.73,1318.99 L294.5,1317.95 L295.23,1316.91 L295.92,1315.87 L296.55,1314.84 L297.12,1313.8 L297.63,1312.76 L298.08,1311.72 L298.47,1310.68 L298.81,1309.64 L299.1,1308.61 L299.34,1307.57 L299.54,1306.53 L299.71,1305.49 L299.84,1304.45 L299.95,1303.41 L300.03,1302.38 L300.1,1301.34 L300.15,1300.3 Z"/></clipPath>
<rect x="284.8" y="1321.4" width="31" height="20.1" fill="#cbcbcb" clip-path="url(#vc4)"/>
<line x1="286.8" y1="1331.4" x2="313.8" y2="1331.4" stroke="#000" stroke-width="1.5"/>
<path d="M300.45,1300.3 L300.5,1301.34 L300.57,1302.38 L300.65,1303.41 L300.76,1304.45 L300.89,1305.49 L301.06,1306.53 L301.26,1307.57 L301.5,1308.61 L301.79,1309.64 L302.13,1310.68 L302.52,1311.72 L302.97,1312.76 L303.48,1313.8 L304.05,1314.84 L304.68,1315.87 L305.37,1316.91 L306.1,1317.95 L306.87,1318.99 L307.67,1320.03 L308.49,1321.07 L309.3,1322.1 L310.1,1323.14 L310.87,1324.18 L311.58,1325.22 L312.21,1326.26 L312.76,1327.3 L313.21,1328.33 L313.53,1329.37 L313.73,1330.41 L313.8,1331.45 L313.73,1332.49 L313.53,1333.53 L313.21,1334.56 L312.76,1335.6 L312.21,1336.64 L311.58,1337.68 L310.87,1338.72 L310.1,1339.76 L309.3,1340.79 L308.49,1341.83 L307.67,1342.87 L306.87,1343.91 L306.1,1344.95 L305.37,1345.99 L304.68,1347.02 L304.05,1348.06 L303.48,1349.1 L302.97,1350.14 L302.52,1351.18 L302.13,1352.22 L301.79,1353.25 L301.5,1354.29 L301.26,1355.33 L301.06,1356.37 L300.89,1357.41 L300.76,1358.45 L300.65,1359.48 L300.57,1360.52 L300.5,1361.56 L300.45,1362.6 L300.15,1362.6 L300.1,1361.56 L300.03,1360.52 L299.95,1359.48 L299.84,1358.45 L299.71,1357.41 L299.54,1356.37 L299.34,1355.33 L299.1,1354.29 L298.81,1353.25 L298.47,1352.22 L298.08,1351.18 L297.63,1350.14 L297.12,1349.1 L296.55,1348.06 L295.92,1347.02 L295.23,1345.99 L294.5,1344.95 L293.73,1343.91 L292.93,1342.87 L292.11,1341.83 L291.3,1340.79 L290.5,1339.76 L289.73,1338.72 L289.02,1337.68 L288.39,1336.64 L287.84,1335.6 L287.39,1334.56 L287.07,1333.53 L286.87,1332.49 L286.8,1331.45 L286.87,1330.41 L287.07,1329.37 L287.39,1328.33 L287.84,1327.3 L288.39,1326.26 L289.02,1325.22 L289.73,1324.18 L290.5,1323.14 L291.3,1322.1 L292.11,1321.07 L292.93,1320.03 L293.73,1318.99 L294.5,1317.95 L295.23,1316.91 L295.92,1315.87 L296.55,1314.84 L297.12,1313.8 L297.63,1312.76 L298.08,1311.72 L298.47,1310.68 L298.81,1309.64 L299.1,1308.61 L299.34,1307.57 L299.54,1306.53 L299.71,1305.49 L299.84,1304.45 L299.95,1303.41 L300.03,1302.38 L300.1,1301.34 L300.15,1300.3 Z" fill="none" stroke="#000" stroke-width="1.5" stroke-linejoin="round"/>
<circle cx="309.1" cy="1272" r="1.8" fill="none" stroke="#ff0000" stroke-width="1.2"/>
<circle cx="300.9" cy="1325.8" r="1.8" fill="none" stroke="#ff0000" stroke-width="1.2"/>
<circle cx="292.6" cy="1330" r="1.8" fill="none" stroke="#ff0000" stroke-width="1.2"/>
<circle cx="310.1" cy="1335.8" r="1.8" fill="none" stroke="#ff0000" stroke-width="1.2"/>
<circle cx="307.6" cy="1349.6" r="1.8" fill="none" stroke="#ff0000" stroke-width="1.2"/>
<circle cx="310.5" cy="1373.2" r="1.8" fill="none" stroke="#ff0000" stroke-width="1.2"/>
<clipPath id="vc5"><path d="M366.85,1314.7 L366.9,1315.73 L366.97,1316.76 L367.05,1317.79 L367.16,1318.82 L367.29,1319.85 L367.46,1320.88 L367.66,1321.91 L367.9,1322.94 L368.19,1323.97 L368.53,1325 L368.92,1326.03 L369.37,1327.06 L369.88,1328.09 L370.45,1329.12 L371.08,1330.15 L371.77,1331.18 L372.5,1332.21 L373.27,1333.24 L374.07,1334.27 L374.89,1335.3 L375.7,1336.33 L376.5,1337.36 L377.27,1338.39 L377.98,1339.42 L378.61,1340.45 L379.16,1341.48 L379.61,1342.51 L379.93,1343.54 L380.13,1344.57 L380.2,1345.6 L380.13,1346.63 L379.93,1347.66 L379.61,1348.69 L379.16,1349.72 L378.61,1350.75 L377.98,1351.78 L377.27,1352.81 L376.5,1353.84 L375.7,1354.87 L374.89,1355.9 L374.07,1356.93 L373.27,1357.96 L372.5,1358.99 L371.77,1360.02 L371.08,1361.05 L370.45,1362.08 L369.88,1363.11 L369.37,1364.14 L368.92,1365.17 L368.53,1366.2 L368.19,1367.23 L367.9,1368.26 L367.66,1369.29 L367.46,1370.32 L367.29,1371.35 L367.16,1372.38 L367.05,1373.41 L366.97,1374.44 L366.9,1375.47 L366.85,1376.5 L366.55,1376.5 L366.5,1375.47 L366.43,1374.44 L366.35,1373.41 L366.24,1372.38 L366.11,1371.35 L365.94,1370.32 L365.74,1369.29 L365.5,1368.26 L365.21,1367.23 L364.87,1366.2 L364.48,1365.17 L364.03,1364.14 L363.52,1363.11 L362.95,1362.08 L362.32,1361.05 L361.63,1360.02 L360.9,1358.99 L360.13,1357.96 L359.33,1356.93 L358.51,1355.9 L357.7,1354.87 L356.9,1353.84 L356.13,1352.81 L355.42,1351.78 L354.79,1350.75 L354.24,1349.72 L353.79,1348.69 L353.47,1347.66 L353.27,1346.63 L353.2,1345.6 L353.27,1344.57 L353.47,1343.54 L353.79,1342.51 L354.24,1341.48 L354.79,1340.45 L355.42,1339.42 L356.13,1338.39 L356.9,1337.36 L357.7,1336.33 L358.51,1335.3 L359.33,1334.27 L360.13,1333.24 L360.9,1332.21 L361.63,1331.18 L362.32,1330.15 L362.95,1329.12 L363.52,1328.09 L364.03,1327.06 L364.48,1326.03 L364.87,1325 L365.21,1323.97 L365.5,1322.94 L365.74,1321.91 L365.94,1320.88 L366.11,1319.85 L366.24,1318.82 L366.35,1317.79 L366.43,1316.76 L366.5,1315.73 L366.55,1314.7 Z"/></clipPath>
<rect x="351.2" y="1335.8" width="31" height="19.2" fill="#cbcbcb" clip-path="url(#vc5)"/>
<line x1="353.2" y1="1345.4" x2="380.2" y2="1345.4" stroke="#000" stroke-width="1.5"/>
<path d="M366.85,1314.7 L366.9,1315.73 L366.97,1316.76 L367.05,1317.79 L367.16,1318.82 L367.29,1319.85 L367.46,1320.88 L367.66,1321.91 L367.9,1322.94 L368.19,1323.97 L368.53,1325 L368.92,1326.03 L369.37,1327.06 L369.88,1328.09 L370.45,1329.12 L371.08,1330.15 L371.77,1331.18 L372.5,1332.21 L373.27,1333.24 L374.07,1334.27 L374.89,1335.3 L375.7,1336.33 L376.5,1337.36 L377.27,1338.39 L377.98,1339.42 L378.61,1340.45 L379.16,1341.48 L379.61,1342.51 L379.93,1343.54 L380.13,1344.57 L380.2,1345.6 L380.13,1346.63 L379.93,1347.66 L379.61,1348.69 L379.16,1349.72 L378.61,1350.75 L377.98,1351.78 L377.27,1352.81 L376.5,1353.84 L375.7,1354.87 L374.89,1355.9 L374.07,1356.93 L373.27,1357.96 L372.5,1358.99 L371.77,1360.02 L371.08,1361.05 L370.45,1362.08 L369.88,1363.11 L369.37,1364.14 L368.92,1365.17 L368.53,1366.2 L368.19,1367.23 L367.9,1368.26 L367.66,1369.29 L367.46,1370.32 L367.29,1371.35 L367.16,1372.38 L367.05,1373.41 L366.97,1374.44 L366.9,1375.47 L366.85,1376.5 L366.55,1376.5 L366.5,1375.47 L366.43,1374.44 L366.35,1373.41 L366.24,1372.38 L366.11,1371.35 L365.94,1370.32 L365.74,1369.29 L365.5,1368.26 L365.21,1367.23 L364.87,1366.2 L364.48,1365.17 L364.03,1364.14 L363.52,1363.11 L362.95,1362.08 L362.32,1361.05 L361.63,1360.02 L360.9,1358.99 L360.13,1357.96 L359.33,1356.93 L358.51,1355.9 L357.7,1354.87 L356.9,1353.84 L356.13,1352.81 L355.42,1351.78 L354.79,1350.75 L354.24,1349.72 L353.79,1348.69 L353.47,1347.66 L353.27,1346.63 L353.2,1345.6 L353.27,1344.57 L353.47,1343.54 L353.79,1342.51 L354.24,1341.48 L354.79,1340.45 L355.42,1339.42 L356.13,1338.39 L356.9,1337.36 L357.7,1336.33 L358.51,1335.3 L359.33,1334.27 L360.13,1333.24 L360.9,1332.21 L361.63,1331.18 L362.32,1330.15 L362.95,1329.12 L363.52,1328.09 L364.03,1327.06 L364.48,1326.03 L364.87,1325 L365.21,1323.97 L365.5,1322.94 L365.74,1321.91 L365.94,1320.88 L366.11,1319.85 L366.24,1318.82 L366.35,1317.79 L366.43,1316.76 L366.5,1315.73 L366.55,1314.7 Z" fill="none" stroke="#000" stroke-width="1.5" stroke-linejoin="round"/>
<circle cx="360" cy="1289.7" r="1.8" fill="none" stroke="#ff0000" stroke-width="1.2"/>
<circle cx="359.8" cy="1337.7" r="1.8" fill="none" stroke="#ff0000" stroke-width="1.2"/>
<circle cx="363.2" cy="1354.4" r="1.8" fill="none" stroke="#ff0000" stroke-width="1.2"/>
<circle cx="354.6" cy="1365.9" r="1.8" fill="none" stroke="#ff0000" stroke-width="1.2"/>
<circle cx="367.1" cy="1366.1" r="1.8" fill="none" stroke="#ff0000" stroke-width="1.2"/>
<circle cx="379.6" cy="1363.2" r="1.8" fill="none" stroke="#ff0000" stroke-width="1.2"/>
<clipPath id="vc6"><path d="M433.45,1246.5 L433.5,1248.99 L433.57,1251.49 L433.65,1253.98 L433.76,1256.48 L433.89,1258.97 L434.06,1261.47 L434.26,1263.96 L434.5,1266.46 L434.79,1268.95 L435.13,1271.45 L435.52,1273.94 L435.97,1276.44 L436.48,1278.93 L437.05,1281.43 L437.68,1283.92 L438.37,1286.42 L439.1,1288.91 L439.87,1291.41 L440.67,1293.9 L441.49,1296.4 L442.3,1298.89 L443.1,1301.39 L443.87,1303.88 L444.58,1306.38 L445.21,1308.88 L445.76,1311.37 L446.21,1313.87 L446.53,1316.36 L446.73,1318.86 L446.8,1321.35 L446.73,1323.85 L446.53,1326.34 L446.21,1328.83 L445.76,1331.33 L445.21,1333.82 L444.58,1336.32 L443.87,1338.81 L443.1,1341.31 L442.3,1343.8 L441.49,1346.3 L440.67,1348.79 L439.87,1351.29 L439.1,1353.78 L438.37,1356.28 L437.68,1358.77 L437.05,1361.27 L436.48,1363.76 L435.97,1366.26 L435.52,1368.75 L435.13,1371.25 L434.79,1373.74 L434.5,1376.24 L434.26,1378.73 L434.06,1381.23 L433.89,1383.72 L433.76,1386.22 L433.65,1388.71 L433.57,1391.21 L433.5,1393.7 L433.45,1396.2 L433.15,1396.2 L433.1,1393.7 L433.03,1391.21 L432.95,1388.71 L432.84,1386.22 L432.71,1383.72 L432.54,1381.23 L432.34,1378.73 L432.1,1376.24 L431.81,1373.74 L431.47,1371.25 L431.08,1368.75 L430.63,1366.26 L430.12,1363.76 L429.55,1361.27 L428.92,1358.77 L428.23,1356.28 L427.5,1353.78 L426.73,1351.29 L425.93,1348.79 L425.11,1346.3 L424.3,1343.8 L423.5,1341.31 L422.73,1338.81 L422.02,1336.32 L421.39,1333.82 L420.84,1331.33 L420.39,1328.83 L420.07,1326.34 L419.87,1323.85 L419.8,1321.35 L419.87,1318.86 L420.07,1316.36 L420.39,1313.87 L420.84,1311.37 L421.39,1308.88 L422.02,1306.38 L422.73,1303.88 L423.5,1301.39 L424.3,1298.89 L425.11,1296.4 L425.93,1293.9 L426.73,1291.41 L427.5,1288.91 L428.23,1286.42 L428.92,1283.92 L429.55,1281.43 L430.12,1278.93 L430.63,1276.44 L431.08,1273.94 L431.47,1271.45 L431.81,1268.95 L432.1,1266.46 L432.34,1263.96 L432.54,1261.47 L432.71,1258.97 L432.84,1256.48 L432.95,1253.98 L433.03,1251.49 L433.1,1248.99 L433.15,1246.5 Z"/></clipPath>
<rect x="417.8" y="1297" width="31" height="48" fill="#cbcbcb" clip-path="url(#vc6)"/>
<line x1="419.8" y1="1321.4" x2="446.8" y2="1321.4" stroke="#000" stroke-width="1.5"/>
<path d="M433.45,1246.5 L433.5,1248.99 L433.57,1251.49 L433.65,1253.98 L433.76,1256.48 L433.89,1258.97 L434.06,1261.47 L434.26,1263.96 L434.5,1266.46 L434.79,1268.95 L435.13,1271.45 L435.52,1273.94 L435.97,1276.44 L436.48,1278.93 L437.05,1281.43 L437.68,1283.92 L438.37,1286.42 L439.1,1288.91 L439.87,1291.41 L440.67,1293.9 L441.49,1296.4 L442.3,1298.89 L443.1,1301.39 L443.87,1303.88 L444.58,1306.38 L445.21,1308.88 L445.76,1311.37 L446.21,1313.87 L446.53,1316.36 L446.73,1318.86 L446.8,1321.35 L446.73,1323.85 L446.53,1326.34 L446.21,1328.83 L445.76,1331.33 L445.21,1333.82 L444.58,1336.32 L443.87,1338.81 L443.1,1341.31 L442.3,1343.8 L441.49,1346.3 L440.67,1348.79 L439.87,1351.29 L439.1,1353.78 L438.37,1356.28 L437.68,1358.77 L437.05,1361.27 L436.48,1363.76 L435.97,1366.26 L435.52,1368.75 L435.13,1371.25 L434.79,1373.74 L434.5,1376.24 L434.26,1378.73 L434.06,1381.23 L433.89,1383.72 L433.76,1386.22 L433.65,1388.71 L433.57,1391.21 L433.5,1393.7 L433.45,1396.2 L433.15,1396.2 L433.1,1393.7 L433.03,1391.21 L432.95,1388.71 L432.84,1386.22 L432.71,1383.72 L432.54,1381.23 L432.34,1378.73 L432.1,1376.24 L431.81,1373.74 L431.47,1371.25 L431.08,1368.75 L430.63,1366.26 L430.12,1363.76 L429.55,1361.27 L428.92,1358.77 L428.23,1356.28 L427.5,1353.78 L426.73,1351.29 L425.93,1348.79 L425.11,1346.3 L424.3,1343.8 L423.5,1341.31 L422.73,1338.81 L422.02,1336.32 L421.39,1333.82 L420.84,1331.33 L420.39,1328.83 L420.07,1326.34 L419.87,1323.85 L419.8,1321.35 L419.87,1318.86 L420.07,1316.36 L420.39,1313.87 L420.84,1311.37 L421.39,1308.88 L422.02,1306.38 L422.73,1303.88 L423.5,1301.39 L424.3,1298.89 L425.11,1296.4 L425.93,1293.9 L426.73,1291.41 L427.5,1288.91 L428.23,1286.42 L428.92,1283.92 L429.55,1281.43 L430.12,1278.93 L430.63,1276.44 L431.08,1273.94 L431.47,1271.45 L431.81,1268.95 L432.1,1266.46 L432.34,1263.96 L432.54,1261.47 L432.71,1258.97 L432.84,1256.48 L432.95,1253.98 L433.03,1251.49 L433.1,1248.99 L433.15,1246.5 Z" fill="none" stroke="#000" stroke-width="1.5" stroke-linejoin="round"/>
<circle cx="438.5" cy="1158.6" r="1.8" fill="none" stroke="#ff0000" stroke-width="1.2"/>
<circle cx="427.7" cy="1325.2" r="1.8" fill="none" stroke="#ff0000" stroke-width="1.2"/>
<circle cx="431.6" cy="1339.2" r="1.8" fill="none" stroke="#ff0000" stroke-width="1.2"/>
<circle cx="419.9" cy="1359.4" r="1.8" fill="none" stroke="#ff0000" stroke-width="1.2"/>
<circle cx="430.8" cy="1372.8" r="1.8" fill="none" stroke="#ff0000" stroke-width="1.2"/>
<circle cx="442.9" cy="1369" r="1.8" fill="none" stroke="#ff0000" stroke-width="1.2"/>
<text x="458.6" y="1122" font-size="34" font-weight="bold" stroke="#000" stroke-width="0.9" transform="translate(458.6,0) scale(1.17,1) translate(-458.6,0)">h</text>
<text x="730.1" y="1126.2" font-size="25" text-anchor="middle">D614:G614</text>
<text x="730.1" y="1155.7" font-size="25" text-anchor="middle">1:1</text>
<line x1="521" y1="1148.6" x2="521" y2="1408.6" stroke="#222" stroke-width="1.4"/>
<line x1="520.3" y1="1408.6" x2="916.3" y2="1408.6" stroke="#222" stroke-width="1.4"/>
<line x1="517" y1="1158.2" x2="521" y2="1158.2" stroke="#222" stroke-width="1.4"/>
<line x1="517" y1="1358.6" x2="521" y2="1358.6" stroke="#222" stroke-width="1.4"/>
<line x1="521" y1="1358.6" x2="916.3" y2="1358.6" stroke="#000" stroke-width="1.4"/>
<line x1="568.5" y1="1408.6" x2="568.5" y2="1413.1" stroke="#222" stroke-width="1.4"/>
<line x1="635.3" y1="1408.6" x2="635.3" y2="1413.1" stroke="#222" stroke-width="1.4"/>
<line x1="701.6" y1="1408.6" x2="701.6" y2="1413.1" stroke="#222" stroke-width="1.4"/>
<line x1="768.2" y1="1408.6" x2="768.2" y2="1413.1" stroke="#222" stroke-width="1.4"/>
<line x1="834.5" y1="1408.6" x2="834.5" y2="1413.1" stroke="#222" stroke-width="1.4"/>
<line x1="901.4" y1="1408.6" x2="901.4" y2="1413.1" stroke="#222" stroke-width="1.4"/>
<text x="512" y="1164.8" font-size="20" text-anchor="end">10</text>
<text x="510.9" y="1364.5" font-size="20" text-anchor="end">1</text>
<text transform="translate(482.1,1281.8) rotate(-90)" font-size="20" text-anchor="middle" textLength="240" lengthAdjust="spacingAndGlyphs">Relative replicative fitness</text>
<text x="560.6" y="1435.7" font-size="17" text-anchor="middle">Nasal</text>
<text x="560.6" y="1455" font-size="17" text-anchor="middle">wash</text>
<text x="630.3" y="1435.7" font-size="17" text-anchor="middle">Trachea</text>
<text x="697.3" y="1435.7" font-size="17" text-anchor="middle">Lung</text>
<text x="697.3" y="1455" font-size="17" text-anchor="middle">cranial</text>
<text x="765.3" y="1435.7" font-size="17" text-anchor="middle">Lung</text>
<text x="765.3" y="1455" font-size="17" text-anchor="middle">middle</text>
<text x="829.8" y="1435.7" font-size="17" text-anchor="middle">Lung</text>
<text x="829.8" y="1455" font-size="17" text-anchor="middle">caudal</text>
<text x="899.8" y="1435.7" font-size="17" text-anchor="middle">Lung</text>
<text x="899.8" y="1455" font-size="17" text-anchor="middle">accessory</text>
<text transform="translate(576.2,1206.2) rotate(-90)" font-size="21" textLength="100.6" lengthAdjust="spacingAndGlyphs"><tspan font-style="italic">P</tspan> = 0.0004</text>
<text transform="translate(707.9,1285.2) rotate(-90)" font-size="21" textLength="100.9" lengthAdjust="spacingAndGlyphs"><tspan font-style="italic">P</tspan> = 0.0004</text>
<text transform="translate(774.8,1287) rotate(-90)" font-size="21" textLength="99.9" lengthAdjust="spacingAndGlyphs"><tspan font-style="italic">P</tspan> = 0.0044</text>
<text transform="translate(842.5,1279) rotate(-90)" font-size="21" textLength="98.2" lengthAdjust="spacingAndGlyphs"><tspan font-style="italic">P</tspan> &lt; 0.0001</text>
<text transform="translate(906.6,1268.6) rotate(-90)" font-size="21" textLength="98.2" lengthAdjust="spacingAndGlyphs"><tspan font-style="italic">P</tspan> = 0.0001</text>
<clipPath id="vc7"><path d="M568.65,1257.5 L568.7,1258.75 L568.77,1260.01 L568.85,1261.26 L568.96,1262.51 L569.09,1263.77 L569.26,1265.02 L569.46,1266.27 L569.7,1267.53 L569.99,1268.78 L570.33,1270.03 L570.72,1271.29 L571.17,1272.54 L571.68,1273.79 L572.25,1275.05 L572.88,1276.3 L573.57,1277.55 L574.3,1278.81 L575.07,1280.06 L575.87,1281.31 L576.69,1282.57 L577.5,1283.82 L578.3,1285.07 L579.07,1286.33 L579.78,1287.58 L580.41,1288.83 L580.96,1290.09 L581.41,1291.34 L581.73,1292.59 L581.93,1293.85 L582,1295.1 L581.93,1296.35 L581.73,1297.61 L581.41,1298.86 L580.96,1300.11 L580.41,1301.37 L579.78,1302.62 L579.07,1303.87 L578.3,1305.13 L577.5,1306.38 L576.69,1307.63 L575.87,1308.89 L575.07,1310.14 L574.3,1311.39 L573.57,1312.65 L572.88,1313.9 L572.25,1315.15 L571.68,1316.41 L571.17,1317.66 L570.72,1318.91 L570.33,1320.17 L569.99,1321.42 L569.7,1322.67 L569.46,1323.93 L569.26,1325.18 L569.09,1326.43 L568.96,1327.69 L568.85,1328.94 L568.77,1330.19 L568.7,1331.45 L568.65,1332.7 L568.35,1332.7 L568.3,1331.45 L568.23,1330.19 L568.15,1328.94 L568.04,1327.69 L567.91,1326.43 L567.74,1325.18 L567.54,1323.93 L567.3,1322.67 L567.01,1321.42 L566.67,1320.17 L566.28,1318.91 L565.83,1317.66 L565.32,1316.41 L564.75,1315.15 L564.12,1313.9 L563.43,1312.65 L562.7,1311.39 L561.93,1310.14 L561.13,1308.89 L560.31,1307.63 L559.5,1306.38 L558.7,1305.13 L557.93,1303.87 L557.22,1302.62 L556.59,1301.37 L556.04,1300.11 L555.59,1298.86 L555.27,1297.61 L555.07,1296.35 L555,1295.1 L555.07,1293.85 L555.27,1292.59 L555.59,1291.34 L556.04,1290.09 L556.59,1288.83 L557.22,1287.58 L557.93,1286.33 L558.7,1285.07 L559.5,1283.82 L560.31,1282.57 L561.13,1281.31 L561.93,1280.06 L562.7,1278.81 L563.43,1277.55 L564.12,1276.3 L564.75,1275.05 L565.32,1273.79 L565.83,1272.54 L566.28,1271.29 L566.67,1270.03 L567.01,1268.78 L567.3,1267.53 L567.54,1266.27 L567.74,1265.02 L567.91,1263.77 L568.04,1262.51 L568.15,1261.26 L568.23,1260.01 L568.3,1258.75 L568.35,1257.5 Z"/></clipPath>
<rect x="553" y="1282.4" width="31" height="24.3" fill="#cbcbcb" clip-path="url(#vc7)"/>
<line x1="555.01" y1="1294.6" x2="581.99" y2="1294.6" stroke="#000" stroke-width="1.5"/>
<path d="M568.65,1257.5 L568.7,1258.75 L568.77,1260.01 L568.85,1261.26 L568.96,1262.51 L569.09,1263.77 L569.26,1265.02 L569.46,1266.27 L569.7,1267.53 L569.99,1268.78 L570.33,1270.03 L570.72,1271.29 L571.17,1272.54 L571.68,1273.79 L572.25,1275.05 L572.88,1276.3 L573.57,1277.55 L574.3,1278.81 L575.07,1280.06 L575.87,1281.31 L576.69,1282.57 L577.5,1283.82 L578.3,1285.07 L579.07,1286.33 L579.78,1287.58 L580.41,1288.83 L580.96,1290.09 L581.41,1291.34 L581.73,1292.59 L581.93,1293.85 L582,1295.1 L581.93,1296.35 L581.73,1297.61 L581.41,1298.86 L580.96,1300.11 L580.41,1301.37 L579.78,1302.62 L579.07,1303.87 L578.3,1305.13 L577.5,1306.38 L576.69,1307.63 L575.87,1308.89 L575.07,1310.14 L574.3,1311.39 L573.57,1312.65 L572.88,1313.9 L572.25,1315.15 L571.68,1316.41 L571.17,1317.66 L570.72,1318.91 L570.33,1320.17 L569.99,1321.42 L569.7,1322.67 L569.46,1323.93 L569.26,1325.18 L569.09,1326.43 L568.96,1327.69 L568.85,1328.94 L568.77,1330.19 L568.7,1331.45 L568.65,1332.7 L568.35,1332.7 L568.3,1331.45 L568.23,1330.19 L568.15,1328.94 L568.04,1327.69 L567.91,1326.43 L567.74,1325.18 L567.54,1323.93 L567.3,1322.67 L567.01,1321.42 L566.67,1320.17 L566.28,1318.91 L565.83,1317.66 L565.32,1316.41 L564.75,1315.15 L564.12,1313.9 L563.43,1312.65 L562.7,1311.39 L561.93,1310.14 L561.13,1308.89 L560.31,1307.63 L559.5,1306.38 L558.7,1305.13 L557.93,1303.87 L557.22,1302.62 L556.59,1301.37 L556.04,1300.11 L555.59,1298.86 L555.27,1297.61 L555.07,1296.35 L555,1295.1 L555.07,1293.85 L555.27,1292.59 L555.59,1291.34 L556.04,1290.09 L556.59,1288.83 L557.22,1287.58 L557.93,1286.33 L558.7,1285.07 L559.5,1283.82 L560.31,1282.57 L561.13,1281.31 L561.93,1280.06 L562.7,1278.81 L563.43,1277.55 L564.12,1276.3 L564.75,1275.05 L565.32,1273.79 L565.83,1272.54 L566.28,1271.29 L566.67,1270.03 L567.01,1268.78 L567.3,1267.53 L567.54,1266.27 L567.74,1265.02 L567.91,1263.77 L568.04,1262.51 L568.15,1261.26 L568.23,1260.01 L568.3,1258.75 L568.35,1257.5 Z" fill="none" stroke="#000" stroke-width="1.5" stroke-linejoin="round"/>
<circle cx="581.4" cy="1219" r="1.8" fill="none" stroke="#ff0000" stroke-width="1.2"/>
<circle cx="580.7" cy="1286.3" r="1.8" fill="none" stroke="#ff0000" stroke-width="1.2"/>
<circle cx="574.4" cy="1296" r="1.8" fill="none" stroke="#ff0000" stroke-width="1.2"/>
<circle cx="578.6" cy="1302.2" r="1.8" fill="none" stroke="#ff0000" stroke-width="1.2"/>
<circle cx="580.7" cy="1326.5" r="1.8" fill="none" stroke="#ff0000" stroke-width="1.2"/>
<circle cx="562.3" cy="1332.7" r="1.8" fill="none" stroke="#ff0000" stroke-width="1.2"/>
<clipPath id="vc8"><path d="M635.45,1311.9 L635.5,1312.93 L635.57,1313.96 L635.65,1314.99 L635.76,1316.01 L635.89,1317.04 L636.06,1318.07 L636.26,1319.1 L636.5,1320.13 L636.79,1321.15 L637.13,1322.18 L637.52,1323.21 L637.97,1324.24 L638.48,1325.27 L639.05,1326.3 L639.68,1327.33 L640.37,1328.35 L641.1,1329.38 L641.87,1330.41 L642.67,1331.44 L643.49,1332.47 L644.3,1333.5 L645.1,1334.52 L645.87,1335.55 L646.58,1336.58 L647.21,1337.61 L647.76,1338.64 L648.21,1339.66 L648.53,1340.69 L648.73,1341.72 L648.8,1342.75 L648.73,1343.78 L648.53,1344.81 L648.21,1345.84 L647.76,1346.86 L647.21,1347.89 L646.58,1348.92 L645.87,1349.95 L645.1,1350.98 L644.3,1352 L643.49,1353.03 L642.67,1354.06 L641.87,1355.09 L641.1,1356.12 L640.37,1357.15 L639.68,1358.17 L639.05,1359.2 L638.48,1360.23 L637.97,1361.26 L637.52,1362.29 L637.13,1363.32 L636.79,1364.35 L636.5,1365.37 L636.26,1366.4 L636.06,1367.43 L635.89,1368.46 L635.76,1369.49 L635.65,1370.51 L635.57,1371.54 L635.5,1372.57 L635.45,1373.6 L635.15,1373.6 L635.1,1372.57 L635.03,1371.54 L634.95,1370.51 L634.84,1369.49 L634.71,1368.46 L634.54,1367.43 L634.34,1366.4 L634.1,1365.37 L633.81,1364.35 L633.47,1363.32 L633.08,1362.29 L632.63,1361.26 L632.12,1360.23 L631.55,1359.2 L630.92,1358.17 L630.23,1357.15 L629.5,1356.12 L628.73,1355.09 L627.93,1354.06 L627.11,1353.03 L626.3,1352 L625.5,1350.98 L624.73,1349.95 L624.02,1348.92 L623.39,1347.89 L622.84,1346.86 L622.39,1345.84 L622.07,1344.81 L621.87,1343.78 L621.8,1342.75 L621.87,1341.72 L622.07,1340.69 L622.39,1339.66 L622.84,1338.64 L623.39,1337.61 L624.02,1336.58 L624.73,1335.55 L625.5,1334.52 L626.3,1333.5 L627.11,1332.47 L627.93,1331.44 L628.73,1330.41 L629.5,1329.38 L630.23,1328.35 L630.92,1327.33 L631.55,1326.3 L632.12,1325.27 L632.63,1324.24 L633.08,1323.21 L633.47,1322.18 L633.81,1321.15 L634.1,1320.13 L634.34,1319.1 L634.54,1318.07 L634.71,1317.04 L634.84,1316.01 L634.95,1314.99 L635.03,1313.96 L635.1,1312.93 L635.15,1311.9 Z"/></clipPath>
<rect x="619.8" y="1332.7" width="31" height="20.1" fill="#cbcbcb" clip-path="url(#vc8)"/>
<line x1="621.81" y1="1343.1" x2="648.79" y2="1343.1" stroke="#000" stroke-width="1.5"/>
<path d="M635.45,1311.9 L635.5,1312.93 L635.57,1313.96 L635.65,1314.99 L635.76,1316.01 L635.89,1317.04 L636.06,1318.07 L636.26,1319.1 L636.5,1320.13 L636.79,1321.15 L637.13,1322.18 L637.52,1323.21 L637.97,1324.24 L638.48,1325.27 L639.05,1326.3 L639.68,1327.33 L640.37,1328.35 L641.1,1329.38 L641.87,1330.41 L642.67,1331.44 L643.49,1332.47 L644.3,1333.5 L645.1,1334.52 L645.87,1335.55 L646.58,1336.58 L647.21,1337.61 L647.76,1338.64 L648.21,1339.66 L648.53,1340.69 L648.73,1341.72 L648.8,1342.75 L648.73,1343.78 L648.53,1344.81 L648.21,1345.84 L647.76,1346.86 L647.21,1347.89 L646.58,1348.92 L645.87,1349.95 L645.1,1350.98 L644.3,1352 L643.49,1353.03 L642.67,1354.06 L641.87,1355.09 L641.1,1356.12 L640.37,1357.15 L639.68,1358.17 L639.05,1359.2 L638.48,1360.23 L637.97,1361.26 L637.52,1362.29 L637.13,1363.32 L636.79,1364.35 L636.5,1365.37 L636.26,1366.4 L636.06,1367.43 L635.89,1368.46 L635.76,1369.49 L635.65,1370.51 L635.57,1371.54 L635.5,1372.57 L635.45,1373.6 L635.15,1373.6 L635.1,1372.57 L635.03,1371.54 L634.95,1370.51 L634.84,1369.49 L634.71,1368.46 L634.54,1367.43 L634.34,1366.4 L634.1,1365.37 L633.81,1364.35 L633.47,1363.32 L633.08,1362.29 L632.63,1361.26 L632.12,1360.23 L631.55,1359.2 L630.92,1358.17 L630.23,1357.15 L629.5,1356.12 L628.73,1355.09 L627.93,1354.06 L627.11,1353.03 L626.3,1352 L625.5,1350.98 L624.73,1349.95 L624.02,1348.92 L623.39,1347.89 L622.84,1346.86 L622.39,1345.84 L622.07,1344.81 L621.87,1343.78 L621.8,1342.75 L621.87,1341.72 L622.07,1340.69 L622.39,1339.66 L622.84,1338.64 L623.39,1337.61 L624.02,1336.58 L624.73,1335.55 L625.5,1334.52 L626.3,1333.5 L627.11,1332.47 L627.93,1331.44 L628.73,1330.41 L629.5,1329.38 L630.23,1328.35 L630.92,1327.33 L631.55,1326.3 L632.12,1325.27 L632.63,1324.24 L633.08,1323.21 L633.47,1322.18 L633.81,1321.15 L634.1,1320.13 L634.34,1319.1 L634.54,1318.07 L634.71,1317.04 L634.84,1316.01 L634.95,1314.99 L635.03,1313.96 L635.1,1312.93 L635.15,1311.9 Z" fill="none" stroke="#000" stroke-width="1.5" stroke-linejoin="round"/>
<circle cx="640.3" cy="1292.1" r="1.8" fill="none" stroke="#ff0000" stroke-width="1.2"/>
<circle cx="633.4" cy="1315.7" r="1.8" fill="none" stroke="#ff0000" stroke-width="1.2"/>
<circle cx="647.2" cy="1345.5" r="1.8" fill="none" stroke="#ff0000" stroke-width="1.2"/>
<circle cx="641.3" cy="1358.7" r="1.8" fill="none" stroke="#ff0000" stroke-width="1.2"/>
<circle cx="630.2" cy="1370.2" r="1.8" fill="none" stroke="#ff0000" stroke-width="1.2"/>
<circle cx="637.2" cy="1380.2" r="1.8" fill="none" stroke="#ff0000" stroke-width="1.2"/>
<clipPath id="vc9"><path d="M701.75,1311.9 L701.8,1312.54 L701.87,1313.17 L701.95,1313.81 L702.06,1314.44 L702.19,1315.08 L702.36,1315.71 L702.56,1316.35 L702.8,1316.98 L703.09,1317.62 L703.43,1318.25 L703.82,1318.88 L704.27,1319.52 L704.78,1320.15 L705.35,1320.79 L705.98,1321.43 L706.67,1322.06 L707.4,1322.7 L708.17,1323.33 L708.97,1323.97 L709.79,1324.6 L710.6,1325.24 L711.4,1325.87 L712.17,1326.51 L712.88,1327.14 L713.51,1327.78 L714.06,1328.41 L714.51,1329.05 L714.83,1329.68 L715.03,1330.32 L715.1,1330.95 L715.03,1331.59 L714.83,1332.22 L714.51,1332.86 L714.06,1333.49 L713.51,1334.12 L712.88,1334.76 L712.17,1335.39 L711.4,1336.03 L710.6,1336.66 L709.79,1337.3 L708.97,1337.93 L708.17,1338.57 L707.4,1339.2 L706.67,1339.84 L705.98,1340.47 L705.35,1341.11 L704.78,1341.75 L704.27,1342.38 L703.82,1343.02 L703.43,1343.65 L703.09,1344.29 L702.8,1344.92 L702.56,1345.56 L702.36,1346.19 L702.19,1346.83 L702.06,1347.46 L701.95,1348.1 L701.87,1348.73 L701.8,1349.37 L701.75,1350 L701.45,1350 L701.4,1349.37 L701.33,1348.73 L701.25,1348.1 L701.14,1347.46 L701.01,1346.83 L700.84,1346.19 L700.64,1345.56 L700.4,1344.92 L700.11,1344.29 L699.77,1343.65 L699.38,1343.02 L698.93,1342.38 L698.42,1341.75 L697.85,1341.11 L697.22,1340.47 L696.53,1339.84 L695.8,1339.2 L695.03,1338.57 L694.23,1337.93 L693.41,1337.3 L692.6,1336.66 L691.8,1336.03 L691.03,1335.39 L690.32,1334.76 L689.69,1334.12 L689.14,1333.49 L688.69,1332.86 L688.37,1332.22 L688.17,1331.59 L688.1,1330.95 L688.17,1330.32 L688.37,1329.68 L688.69,1329.05 L689.14,1328.41 L689.69,1327.78 L690.32,1327.14 L691.03,1326.51 L691.8,1325.87 L692.6,1325.24 L693.41,1324.6 L694.23,1323.97 L695.03,1323.33 L695.8,1322.7 L696.53,1322.06 L697.22,1321.43 L697.85,1320.79 L698.42,1320.15 L698.93,1319.52 L699.38,1318.88 L699.77,1318.25 L700.11,1317.62 L700.4,1316.98 L700.64,1316.35 L700.84,1315.71 L701.01,1315.08 L701.14,1314.44 L701.25,1313.81 L701.33,1313.17 L701.4,1312.54 L701.45,1311.9 Z"/></clipPath>
<rect x="686.1" y="1325.1" width="31" height="10.4" fill="#cbcbcb" clip-path="url(#vc9)"/>
<line x1="688.17" y1="1330.3" x2="715.03" y2="1330.3" stroke="#000" stroke-width="1.5"/>
<path d="M701.75,1311.9 L701.8,1312.54 L701.87,1313.17 L701.95,1313.81 L702.06,1314.44 L702.19,1315.08 L702.36,1315.71 L702.56,1316.35 L702.8,1316.98 L703.09,1317.62 L703.43,1318.25 L703.82,1318.88 L704.27,1319.52 L704.78,1320.15 L705.35,1320.79 L705.98,1321.43 L706.67,1322.06 L707.4,1322.7 L708.17,1323.33 L708.97,1323.97 L709.79,1324.6 L710.6,1325.24 L711.4,1325.87 L712.17,1326.51 L712.88,1327.14 L713.51,1327.78 L714.06,1328.41 L714.51,1329.05 L714.83,1329.68 L715.03,1330.32 L715.1,1330.95 L715.03,1331.59 L714.83,1332.22 L714.51,1332.86 L714.06,1333.49 L713.51,1334.12 L712.88,1334.76 L712.17,1335.39 L711.4,1336.03 L710.6,1336.66 L709.79,1337.3 L708.97,1337.93 L708.17,1338.57 L707.4,1339.2 L706.67,1339.84 L705.98,1340.47 L705.35,1341.11 L704.78,1341.75 L704.27,1342.38 L703.82,1343.02 L703.43,1343.65 L703.09,1344.29 L702.8,1344.92 L702.56,1345.56 L702.36,1346.19 L702.19,1346.83 L702.06,1347.46 L701.95,1348.1 L701.87,1348.73 L701.8,1349.37 L701.75,1350 L701.45,1350 L701.4,1349.37 L701.33,1348.73 L701.25,1348.1 L701.14,1347.46 L701.01,1346.83 L700.84,1346.19 L700.64,1345.56 L700.4,1344.92 L700.11,1344.29 L699.77,1343.65 L699.38,1343.02 L698.93,1342.38 L698.42,1341.75 L697.85,1341.11 L697.22,1340.47 L696.53,1339.84 L695.8,1339.2 L695.03,1338.57 L694.23,1337.93 L693.41,1337.3 L692.6,1336.66 L691.8,1336.03 L691.03,1335.39 L690.32,1334.76 L689.69,1334.12 L689.14,1333.49 L688.69,1332.86 L688.37,1332.22 L688.17,1331.59 L688.1,1330.95 L688.17,1330.32 L688.37,1329.68 L688.69,1329.05 L689.14,1328.41 L689.69,1327.78 L690.32,1327.14 L691.03,1326.51 L691.8,1325.87 L692.6,1325.24 L693.41,1324.6 L694.23,1323.97 L695.03,1323.33 L695.8,1322.7 L696.53,1322.06 L697.22,1321.43 L697.85,1320.79 L698.42,1320.15 L698.93,1319.52 L699.38,1318.88 L699.77,1318.25 L700.11,1317.62 L700.4,1316.98 L700.64,1316.35 L700.84,1315.71 L701.01,1315.08 L701.14,1314.44 L701.25,1313.81 L701.33,1313.17 L701.4,1312.54 L701.45,1311.9 Z" fill="none" stroke="#000" stroke-width="1.5" stroke-linejoin="round"/>
<circle cx="707.9" cy="1301.2" r="1.8" fill="none" stroke="#ff0000" stroke-width="1.2"/>
<circle cx="691.6" cy="1327.5" r="1.8" fill="none" stroke="#ff0000" stroke-width="1.2"/>
<circle cx="690.6" cy="1331.7" r="1.8" fill="none" stroke="#ff0000" stroke-width="1.2"/>
<circle cx="705.5" cy="1329.3" r="1.8" fill="none" stroke="#ff0000" stroke-width="1.2"/>
<circle cx="699.9" cy="1348.7" r="1.8" fill="none" stroke="#ff0000" stroke-width="1.2"/>
<circle cx="706.5" cy="1348.7" r="1.8" fill="none" stroke="#ff0000" stroke-width="1.2"/>
<clipPath id="vc10"><path d="M768.35,1314 L768.4,1314.63 L768.47,1315.26 L768.55,1315.89 L768.66,1316.52 L768.79,1317.15 L768.96,1317.78 L769.16,1318.41 L769.4,1319.04 L769.69,1319.67 L770.03,1320.3 L770.42,1320.93 L770.87,1321.56 L771.38,1322.19 L771.95,1322.82 L772.58,1323.45 L773.27,1324.08 L774,1324.71 L774.77,1325.34 L775.57,1325.97 L776.39,1326.6 L777.2,1327.23 L778,1327.86 L778.77,1328.49 L779.48,1329.12 L780.11,1329.75 L780.66,1330.38 L781.11,1331.01 L781.43,1331.64 L781.63,1332.27 L781.7,1332.9 L781.63,1333.53 L781.43,1334.16 L781.11,1334.79 L780.66,1335.42 L780.11,1336.05 L779.48,1336.68 L778.77,1337.31 L778,1337.94 L777.2,1338.57 L776.39,1339.2 L775.57,1339.83 L774.77,1340.46 L774,1341.09 L773.27,1341.72 L772.58,1342.35 L771.95,1342.98 L771.38,1343.61 L770.87,1344.24 L770.42,1344.87 L770.03,1345.5 L769.69,1346.13 L769.4,1346.76 L769.16,1347.39 L768.96,1348.02 L768.79,1348.65 L768.66,1349.28 L768.55,1349.91 L768.47,1350.54 L768.4,1351.17 L768.35,1351.8 L768.05,1351.8 L768,1351.17 L767.93,1350.54 L767.85,1349.91 L767.74,1349.28 L767.61,1348.65 L767.44,1348.02 L767.24,1347.39 L767,1346.76 L766.71,1346.13 L766.37,1345.5 L765.98,1344.87 L765.53,1344.24 L765.02,1343.61 L764.45,1342.98 L763.82,1342.35 L763.13,1341.72 L762.4,1341.09 L761.63,1340.46 L760.83,1339.83 L760.01,1339.2 L759.2,1338.57 L758.4,1337.94 L757.63,1337.31 L756.92,1336.68 L756.29,1336.05 L755.74,1335.42 L755.29,1334.79 L754.97,1334.16 L754.77,1333.53 L754.7,1332.9 L754.77,1332.27 L754.97,1331.64 L755.29,1331.01 L755.74,1330.38 L756.29,1329.75 L756.92,1329.12 L757.63,1328.49 L758.4,1327.86 L759.2,1327.23 L760.01,1326.6 L760.83,1325.97 L761.63,1325.34 L762.4,1324.71 L763.13,1324.08 L763.82,1323.45 L764.45,1322.82 L765.02,1322.19 L765.53,1321.56 L765.98,1320.93 L766.37,1320.3 L766.71,1319.67 L767,1319.04 L767.24,1318.41 L767.44,1317.78 L767.61,1317.15 L767.74,1316.52 L767.85,1315.89 L767.93,1315.26 L768,1314.63 L768.05,1314 Z"/></clipPath>
<rect x="752.7" y="1327.5" width="31" height="10.4" fill="#cbcbcb" clip-path="url(#vc10)"/>
<line x1="754.71" y1="1332.7" x2="781.69" y2="1332.7" stroke="#000" stroke-width="1.5"/>
<path d="M768.35,1314 L768.4,1314.63 L768.47,1315.26 L768.55,1315.89 L768.66,1316.52 L768.79,1317.15 L768.96,1317.78 L769.16,1318.41 L769.4,1319.04 L769.69,1319.67 L770.03,1320.3 L770.42,1320.93 L770.87,1321.56 L771.38,1322.19 L771.95,1322.82 L772.58,1323.45 L773.27,1324.08 L774,1324.71 L774.77,1325.34 L775.57,1325.97 L776.39,1326.6 L777.2,1327.23 L778,1327.86 L778.77,1328.49 L779.48,1329.12 L780.11,1329.75 L780.66,1330.38 L781.11,1331.01 L781.43,1331.64 L781.63,1332.27 L781.7,1332.9 L781.63,1333.53 L781.43,1334.16 L781.11,1334.79 L780.66,1335.42 L780.11,1336.05 L779.48,1336.68 L778.77,1337.31 L778,1337.94 L777.2,1338.57 L776.39,1339.2 L775.57,1339.83 L774.77,1340.46 L774,1341.09 L773.27,1341.72 L772.58,1342.35 L771.95,1342.98 L771.38,1343.61 L770.87,1344.24 L770.42,1344.87 L770.03,1345.5 L769.69,1346.13 L769.4,1346.76 L769.16,1347.39 L768.96,1348.02 L768.79,1348.65 L768.66,1349.28 L768.55,1349.91 L768.47,1350.54 L768.4,1351.17 L768.35,1351.8 L768.05,1351.8 L768,1351.17 L767.93,1350.54 L767.85,1349.91 L767.74,1349.28 L767.61,1348.65 L767.44,1348.02 L767.24,1347.39 L767,1346.76 L766.71,1346.13 L766.37,1345.5 L765.98,1344.87 L765.53,1344.24 L765.02,1343.61 L764.45,1342.98 L763.82,1342.35 L763.13,1341.72 L762.4,1341.09 L761.63,1340.46 L760.83,1339.83 L760.01,1339.2 L759.2,1338.57 L758.4,1337.94 L757.63,1337.31 L756.92,1336.68 L756.29,1336.05 L755.74,1335.42 L755.29,1334.79 L754.97,1334.16 L754.77,1333.53 L754.7,1332.9 L754.77,1332.27 L754.97,1331.64 L755.29,1331.01 L755.74,1330.38 L756.29,1329.75 L756.92,1329.12 L757.63,1328.49 L758.4,1327.86 L759.2,1327.23 L760.01,1326.6 L760.83,1325.97 L761.63,1325.34 L762.4,1324.71 L763.13,1324.08 L763.82,1323.45 L764.45,1322.82 L765.02,1322.19 L765.53,1321.56 L765.98,1320.93 L766.37,1320.3 L766.71,1319.67 L767,1319.04 L767.24,1318.41 L767.44,1317.78 L767.61,1317.15 L767.74,1316.52 L767.85,1315.89 L767.93,1315.26 L768,1314.63 L768.05,1314 Z" fill="none" stroke="#000" stroke-width="1.5" stroke-linejoin="round"/>
<circle cx="768.9" cy="1303.2" r="1.8" fill="none" stroke="#ff0000" stroke-width="1.2"/>
<circle cx="778.3" cy="1316.1" r="1.8" fill="none" stroke="#ff0000" stroke-width="1.2"/>
<circle cx="776.6" cy="1323" r="1.8" fill="none" stroke="#ff0000" stroke-width="1.2"/>
<circle cx="778" cy="1346.6" r="1.8" fill="none" stroke="#ff0000" stroke-width="1.2"/>
<circle cx="760.6" cy="1349.4" r="1.8" fill="none" stroke="#ff0000" stroke-width="1.2"/>
<circle cx="775.5" cy="1359.4" r="1.8" fill="none" stroke="#ff0000" stroke-width="1.2"/>
<clipPath id="vc11"><path d="M834.65,1310.2 L834.7,1310.6 L834.77,1311.01 L834.85,1311.41 L834.96,1311.81 L835.09,1312.22 L835.26,1312.62 L835.46,1313.02 L835.7,1313.43 L835.99,1313.83 L836.33,1314.23 L836.72,1314.64 L837.17,1315.04 L837.68,1315.44 L838.25,1315.85 L838.88,1316.25 L839.57,1316.65 L840.3,1317.06 L841.07,1317.46 L841.87,1317.86 L842.69,1318.27 L843.5,1318.67 L844.3,1319.07 L845.07,1319.48 L845.78,1319.88 L846.41,1320.28 L846.96,1320.69 L847.41,1321.09 L847.73,1321.49 L847.93,1321.9 L848,1322.3 L847.93,1322.7 L847.73,1323.11 L847.41,1323.51 L846.96,1323.91 L846.41,1324.32 L845.78,1324.72 L845.07,1325.12 L844.3,1325.53 L843.5,1325.93 L842.69,1326.33 L841.87,1326.74 L841.07,1327.14 L840.3,1327.54 L839.57,1327.95 L838.88,1328.35 L838.25,1328.75 L837.68,1329.16 L837.17,1329.56 L836.72,1329.96 L836.33,1330.37 L835.99,1330.77 L835.7,1331.17 L835.46,1331.58 L835.26,1331.98 L835.09,1332.38 L834.96,1332.79 L834.85,1333.19 L834.77,1333.59 L834.7,1334 L834.65,1334.4 L834.35,1334.4 L834.3,1334 L834.23,1333.59 L834.15,1333.19 L834.04,1332.79 L833.91,1332.38 L833.74,1331.98 L833.54,1331.58 L833.3,1331.17 L833.01,1330.77 L832.67,1330.37 L832.28,1329.96 L831.83,1329.56 L831.32,1329.16 L830.75,1328.75 L830.12,1328.35 L829.43,1327.95 L828.7,1327.54 L827.93,1327.14 L827.13,1326.74 L826.31,1326.33 L825.5,1325.93 L824.7,1325.53 L823.93,1325.12 L823.22,1324.72 L822.59,1324.32 L822.04,1323.91 L821.59,1323.51 L821.27,1323.11 L821.07,1322.7 L821,1322.3 L821.07,1321.9 L821.27,1321.49 L821.59,1321.09 L822.04,1320.69 L822.59,1320.28 L823.22,1319.88 L823.93,1319.48 L824.7,1319.07 L825.5,1318.67 L826.31,1318.27 L827.13,1317.86 L827.93,1317.46 L828.7,1317.06 L829.43,1316.65 L830.12,1316.25 L830.75,1315.85 L831.32,1315.44 L831.83,1315.04 L832.28,1314.64 L832.67,1314.23 L833.01,1313.83 L833.3,1313.43 L833.54,1313.02 L833.74,1312.62 L833.91,1312.22 L834.04,1311.81 L834.15,1311.41 L834.23,1311.01 L834.3,1310.6 L834.35,1310.2 Z"/></clipPath>
<rect x="819" y="1319.5" width="31" height="6.3" fill="#cbcbcb" clip-path="url(#vc11)"/>
<line x1="821" y1="1322.3" x2="848" y2="1322.3" stroke="#000" stroke-width="1.5"/>
<path d="M834.65,1310.2 L834.7,1310.6 L834.77,1311.01 L834.85,1311.41 L834.96,1311.81 L835.09,1312.22 L835.26,1312.62 L835.46,1313.02 L835.7,1313.43 L835.99,1313.83 L836.33,1314.23 L836.72,1314.64 L837.17,1315.04 L837.68,1315.44 L838.25,1315.85 L838.88,1316.25 L839.57,1316.65 L840.3,1317.06 L841.07,1317.46 L841.87,1317.86 L842.69,1318.27 L843.5,1318.67 L844.3,1319.07 L845.07,1319.48 L845.78,1319.88 L846.41,1320.28 L846.96,1320.69 L847.41,1321.09 L847.73,1321.49 L847.93,1321.9 L848,1322.3 L847.93,1322.7 L847.73,1323.11 L847.41,1323.51 L846.96,1323.91 L846.41,1324.32 L845.78,1324.72 L845.07,1325.12 L844.3,1325.53 L843.5,1325.93 L842.69,1326.33 L841.87,1326.74 L841.07,1327.14 L840.3,1327.54 L839.57,1327.95 L838.88,1328.35 L838.25,1328.75 L837.68,1329.16 L837.17,1329.56 L836.72,1329.96 L836.33,1330.37 L835.99,1330.77 L835.7,1331.17 L835.46,1331.58 L835.26,1331.98 L835.09,1332.38 L834.96,1332.79 L834.85,1333.19 L834.77,1333.59 L834.7,1334 L834.65,1334.4 L834.35,1334.4 L834.3,1334 L834.23,1333.59 L834.15,1333.19 L834.04,1332.79 L833.91,1332.38 L833.74,1331.98 L833.54,1331.58 L833.3,1331.17 L833.01,1330.77 L832.67,1330.37 L832.28,1329.96 L831.83,1329.56 L831.32,1329.16 L830.75,1328.75 L830.12,1328.35 L829.43,1327.95 L828.7,1327.54 L827.93,1327.14 L827.13,1326.74 L826.31,1326.33 L825.5,1325.93 L824.7,1325.53 L823.93,1325.12 L823.22,1324.72 L822.59,1324.32 L822.04,1323.91 L821.59,1323.51 L821.27,1323.11 L821.07,1322.7 L821,1322.3 L821.07,1321.9 L821.27,1321.49 L821.59,1321.09 L822.04,1320.69 L822.59,1320.28 L823.22,1319.88 L823.93,1319.48 L824.7,1319.07 L825.5,1318.67 L826.31,1318.27 L827.13,1317.86 L827.93,1317.46 L828.7,1317.06 L829.43,1316.65 L830.12,1316.25 L830.75,1315.85 L831.32,1315.44 L831.83,1315.04 L832.28,1314.64 L832.67,1314.23 L833.01,1313.83 L833.3,1313.43 L833.54,1313.02 L833.74,1312.62 L833.91,1312.22 L834.04,1311.81 L834.15,1311.41 L834.23,1311.01 L834.3,1310.6 L834.35,1310.2 Z" fill="none" stroke="#000" stroke-width="1.5" stroke-linejoin="round"/>
<circle cx="827.9" cy="1300.1" r="1.8" fill="none" stroke="#ff0000" stroke-width="1.2"/>
<circle cx="847.3" cy="1317.1" r="1.8" fill="none" stroke="#ff0000" stroke-width="1.2"/>
<circle cx="831.7" cy="1321.6" r="1.8" fill="none" stroke="#ff0000" stroke-width="1.2"/>
<circle cx="822.3" cy="1327.5" r="1.8" fill="none" stroke="#ff0000" stroke-width="1.2"/>
<circle cx="828.2" cy="1330.3" r="1.8" fill="none" stroke="#ff0000" stroke-width="1.2"/>
<circle cx="835.2" cy="1334.1" r="1.8" fill="none" stroke="#ff0000" stroke-width="1.2"/>
<clipPath id="vc12"><path d="M901.55,1299.8 L901.6,1300.43 L901.67,1301.07 L901.75,1301.7 L901.86,1302.34 L901.99,1302.97 L902.16,1303.61 L902.36,1304.24 L902.6,1304.88 L902.89,1305.51 L903.23,1306.15 L903.62,1306.78 L904.07,1307.42 L904.58,1308.05 L905.15,1308.69 L905.78,1309.32 L906.47,1309.96 L907.2,1310.59 L907.97,1311.23 L908.77,1311.86 L909.59,1312.5 L910.4,1313.13 L911.2,1313.77 L911.97,1314.4 L912.68,1315.04 L913.31,1315.67 L913.86,1316.31 L914.31,1316.94 L914.63,1317.58 L914.83,1318.21 L914.9,1318.85 L914.83,1319.48 L914.63,1320.12 L914.31,1320.75 L913.86,1321.39 L913.31,1322.02 L912.68,1322.66 L911.97,1323.29 L911.2,1323.93 L910.4,1324.56 L909.59,1325.2 L908.77,1325.84 L907.97,1326.47 L907.2,1327.11 L906.47,1327.74 L905.78,1328.38 L905.15,1329.01 L904.58,1329.64 L904.07,1330.28 L903.62,1330.91 L903.23,1331.55 L902.89,1332.18 L902.6,1332.82 L902.36,1333.45 L902.16,1334.09 L901.99,1334.72 L901.86,1335.36 L901.75,1335.99 L901.67,1336.63 L901.6,1337.26 L901.55,1337.9 L901.25,1337.9 L901.2,1337.26 L901.13,1336.63 L901.05,1335.99 L900.94,1335.36 L900.81,1334.72 L900.64,1334.09 L900.44,1333.45 L900.2,1332.82 L899.91,1332.18 L899.57,1331.55 L899.18,1330.91 L898.73,1330.28 L898.22,1329.64 L897.65,1329.01 L897.02,1328.38 L896.33,1327.74 L895.6,1327.11 L894.83,1326.47 L894.03,1325.84 L893.21,1325.2 L892.4,1324.56 L891.6,1323.93 L890.83,1323.29 L890.12,1322.66 L889.49,1322.02 L888.94,1321.39 L888.49,1320.75 L888.17,1320.12 L887.97,1319.48 L887.9,1318.85 L887.97,1318.21 L888.17,1317.58 L888.49,1316.94 L888.94,1316.31 L889.49,1315.67 L890.12,1315.04 L890.83,1314.4 L891.6,1313.77 L892.4,1313.13 L893.21,1312.5 L894.03,1311.86 L894.83,1311.23 L895.6,1310.59 L896.33,1309.96 L897.02,1309.32 L897.65,1308.69 L898.22,1308.05 L898.73,1307.42 L899.18,1306.78 L899.57,1306.15 L899.91,1305.51 L900.2,1304.88 L900.44,1304.24 L900.64,1303.61 L900.81,1302.97 L900.94,1302.34 L901.05,1301.7 L901.13,1301.07 L901.2,1300.43 L901.25,1299.8 Z"/></clipPath>
<rect x="885.9" y="1314.7" width="31" height="9.4" fill="#cbcbcb" clip-path="url(#vc12)"/>
<line x1="887.9" y1="1318.8" x2="914.9" y2="1318.8" stroke="#000" stroke-width="1.5"/>
<path d="M901.55,1299.8 L901.6,1300.43 L901.67,1301.07 L901.75,1301.7 L901.86,1302.34 L901.99,1302.97 L902.16,1303.61 L902.36,1304.24 L902.6,1304.88 L902.89,1305.51 L903.23,1306.15 L903.62,1306.78 L904.07,1307.42 L904.58,1308.05 L905.15,1308.69 L905.78,1309.32 L906.47,1309.96 L907.2,1310.59 L907.97,1311.23 L908.77,1311.86 L909.59,1312.5 L910.4,1313.13 L911.2,1313.77 L911.97,1314.4 L912.68,1315.04 L913.31,1315.67 L913.86,1316.31 L914.31,1316.94 L914.63,1317.58 L914.83,1318.21 L914.9,1318.85 L914.83,1319.48 L914.63,1320.12 L914.31,1320.75 L913.86,1321.39 L913.31,1322.02 L912.68,1322.66 L911.97,1323.29 L911.2,1323.93 L910.4,1324.56 L909.59,1325.2 L908.77,1325.84 L907.97,1326.47 L907.2,1327.11 L906.47,1327.74 L905.78,1328.38 L905.15,1329.01 L904.58,1329.64 L904.07,1330.28 L903.62,1330.91 L903.23,1331.55 L902.89,1332.18 L902.6,1332.82 L902.36,1333.45 L902.16,1334.09 L901.99,1334.72 L901.86,1335.36 L901.75,1335.99 L901.67,1336.63 L901.6,1337.26 L901.55,1337.9 L901.25,1337.9 L901.2,1337.26 L901.13,1336.63 L901.05,1335.99 L900.94,1335.36 L900.81,1334.72 L900.64,1334.09 L900.44,1333.45 L900.2,1332.82 L899.91,1332.18 L899.57,1331.55 L899.18,1330.91 L898.73,1330.28 L898.22,1329.64 L897.65,1329.01 L897.02,1328.38 L896.33,1327.74 L895.6,1327.11 L894.83,1326.47 L894.03,1325.84 L893.21,1325.2 L892.4,1324.56 L891.6,1323.93 L890.83,1323.29 L890.12,1322.66 L889.49,1322.02 L888.94,1321.39 L888.49,1320.75 L888.17,1320.12 L887.97,1319.48 L887.9,1318.85 L887.97,1318.21 L888.17,1317.58 L888.49,1316.94 L888.94,1316.31 L889.49,1315.67 L890.12,1315.04 L890.83,1314.4 L891.6,1313.77 L892.4,1313.13 L893.21,1312.5 L894.03,1311.86 L894.83,1311.23 L895.6,1310.59 L896.33,1309.96 L897.02,1309.32 L897.65,1308.69 L898.22,1308.05 L898.73,1307.42 L899.18,1306.78 L899.57,1306.15 L899.91,1305.51 L900.2,1304.88 L900.44,1304.24 L900.64,1303.61 L900.81,1302.97 L900.94,1302.34 L901.05,1301.7 L901.13,1301.07 L901.2,1300.43 L901.25,1299.8 Z" fill="none" stroke="#000" stroke-width="1.5" stroke-linejoin="round"/>
<circle cx="899.7" cy="1289.7" r="1.8" fill="none" stroke="#ff0000" stroke-width="1.2"/>
<circle cx="888.2" cy="1312.6" r="1.8" fill="none" stroke="#ff0000" stroke-width="1.2"/>
<circle cx="898.6" cy="1307.4" r="1.8" fill="none" stroke="#ff0000" stroke-width="1.2"/>
<circle cx="910.8" cy="1328.6" r="1.8" fill="none" stroke="#ff0000" stroke-width="1.2"/>
<circle cx="895.5" cy="1331" r="1.8" fill="none" stroke="#ff0000" stroke-width="1.2"/>
<circle cx="906.2" cy="1346.6" r="1.8" fill="none" stroke="#ff0000" stroke-width="1.2"/>
<text x="943" y="1120.5" font-size="30" font-weight="bold" stroke="#000" stroke-width="0.9" transform="translate(943,0) scale(1.3,1) translate(-943,0)">i</text>
<text x="1179.9" y="1125.2" font-size="25" text-anchor="middle">D614:G614</text>
<text x="1179.9" y="1155" font-size="25" text-anchor="middle">1:1</text>
<line x1="991" y1="1149.2" x2="991" y2="1410.2" stroke="#222" stroke-width="1.4"/>
<line x1="990.3" y1="1410.2" x2="1386.9" y2="1410.2" stroke="#222" stroke-width="1.4"/>
<line x1="987" y1="1159.2" x2="991" y2="1159.2" stroke="#222" stroke-width="1.4"/>
<line x1="987" y1="1344.8" x2="991" y2="1344.8" stroke="#222" stroke-width="1.4"/>
<line x1="991" y1="1344.8" x2="1386.9" y2="1344.8" stroke="#000" stroke-width="1.4"/>
<line x1="1039.1" y1="1410.2" x2="1039.1" y2="1414.7" stroke="#222" stroke-width="1.4"/>
<line x1="1105.4" y1="1410.2" x2="1105.4" y2="1414.7" stroke="#222" stroke-width="1.4"/>
<line x1="1172" y1="1410.2" x2="1172" y2="1414.7" stroke="#222" stroke-width="1.4"/>
<line x1="1238.5" y1="1410.2" x2="1238.5" y2="1414.7" stroke="#222" stroke-width="1.4"/>
<line x1="1305.1" y1="1410.2" x2="1305.1" y2="1414.7" stroke="#222" stroke-width="1.4"/>
<line x1="1372" y1="1410.2" x2="1372" y2="1414.7" stroke="#222" stroke-width="1.4"/>
<text x="984.7" y="1165.3" font-size="20" text-anchor="end">10</text>
<text x="982.3" y="1350" font-size="20" text-anchor="end">1</text>
<text transform="translate(954.2,1281.8) rotate(-90)" font-size="20" text-anchor="middle" textLength="240" lengthAdjust="spacingAndGlyphs">Relative replicative fitness</text>
<text x="1035.6" y="1435.7" font-size="17" text-anchor="middle">Nasal</text>
<text x="1035.6" y="1455" font-size="17" text-anchor="middle">wash</text>
<text x="1105.2" y="1435.7" font-size="17" text-anchor="middle">Trachea</text>
<text x="1172.5" y="1435.7" font-size="17" text-anchor="middle">Lung</text>
<text x="1172.5" y="1455" font-size="17" text-anchor="middle">cranial</text>
<text x="1240.1" y="1435.7" font-size="17" text-anchor="middle">Lung</text>
<text x="1240.1" y="1455" font-size="17" text-anchor="middle">middle</text>
<text x="1305" y="1435.7" font-size="17" text-anchor="middle">Lung</text>
<text x="1305" y="1455" font-size="17" text-anchor="middle">caudal</text>
<text x="1374.8" y="1435.7" font-size="17" text-anchor="middle">Lung</text>
<text x="1374.8" y="1455" font-size="17" text-anchor="middle">accessory</text>
<text transform="translate(1046.2,1249) rotate(-90)" font-size="21" textLength="100.9" lengthAdjust="spacingAndGlyphs"><tspan font-style="italic">P</tspan> = 0.0008</text>
<text transform="translate(1113.6,1257.5) rotate(-90)" font-size="21" textLength="100.8" lengthAdjust="spacingAndGlyphs"><tspan font-style="italic">P</tspan> = 0.0007</text>
<text transform="translate(1178.5,1287.6) rotate(-90)" font-size="21" textLength="100.2" lengthAdjust="spacingAndGlyphs"><tspan font-style="italic">P</tspan> = 0.0047</text>
<text transform="translate(1242.8,1259.9) rotate(-90)" font-size="21" textLength="88.5" lengthAdjust="spacingAndGlyphs"><tspan font-style="italic">P</tspan> = 0.004</text>
<clipPath id="vc13"><path d="M1039.25,1272.9 L1039.3,1273.87 L1039.37,1274.84 L1039.45,1275.81 L1039.56,1276.77 L1039.69,1277.74 L1039.86,1278.71 L1040.06,1279.68 L1040.3,1280.65 L1040.59,1281.62 L1040.93,1282.58 L1041.32,1283.55 L1041.77,1284.52 L1042.28,1285.49 L1042.85,1286.46 L1043.48,1287.43 L1044.17,1288.39 L1044.9,1289.36 L1045.67,1290.33 L1046.47,1291.3 L1047.29,1292.27 L1048.1,1293.24 L1048.9,1294.2 L1049.67,1295.17 L1050.38,1296.14 L1051.01,1297.11 L1051.56,1298.08 L1052.01,1299.05 L1052.33,1300.01 L1052.53,1300.98 L1052.6,1301.95 L1052.53,1302.92 L1052.33,1303.89 L1052.01,1304.86 L1051.56,1305.82 L1051.01,1306.79 L1050.38,1307.76 L1049.67,1308.73 L1048.9,1309.7 L1048.1,1310.66 L1047.29,1311.63 L1046.47,1312.6 L1045.67,1313.57 L1044.9,1314.54 L1044.17,1315.51 L1043.48,1316.47 L1042.85,1317.44 L1042.28,1318.41 L1041.77,1319.38 L1041.32,1320.35 L1040.93,1321.32 L1040.59,1322.29 L1040.3,1323.25 L1040.06,1324.22 L1039.86,1325.19 L1039.69,1326.16 L1039.56,1327.13 L1039.45,1328.1 L1039.37,1329.06 L1039.3,1330.03 L1039.25,1331 L1038.95,1331 L1038.9,1330.03 L1038.83,1329.06 L1038.75,1328.1 L1038.64,1327.13 L1038.51,1326.16 L1038.34,1325.19 L1038.14,1324.22 L1037.9,1323.25 L1037.61,1322.29 L1037.27,1321.32 L1036.88,1320.35 L1036.43,1319.38 L1035.92,1318.41 L1035.35,1317.44 L1034.72,1316.47 L1034.03,1315.51 L1033.3,1314.54 L1032.53,1313.57 L1031.73,1312.6 L1030.91,1311.63 L1030.1,1310.66 L1029.3,1309.7 L1028.53,1308.73 L1027.82,1307.76 L1027.19,1306.79 L1026.64,1305.82 L1026.19,1304.86 L1025.87,1303.89 L1025.67,1302.92 L1025.6,1301.95 L1025.67,1300.98 L1025.87,1300.01 L1026.19,1299.05 L1026.64,1298.08 L1027.19,1297.11 L1027.82,1296.14 L1028.53,1295.17 L1029.3,1294.2 L1030.1,1293.24 L1030.91,1292.27 L1031.73,1291.3 L1032.53,1290.33 L1033.3,1289.36 L1034.03,1288.39 L1034.72,1287.43 L1035.35,1286.46 L1035.92,1285.49 L1036.43,1284.52 L1036.88,1283.55 L1037.27,1282.58 L1037.61,1281.62 L1037.9,1280.65 L1038.14,1279.68 L1038.34,1278.71 L1038.51,1277.74 L1038.64,1276.77 L1038.75,1275.81 L1038.83,1274.84 L1038.9,1273.87 L1038.95,1272.9 Z"/></clipPath>
<rect x="1023.6" y="1293.4" width="31" height="17.1" fill="#cbcbcb" clip-path="url(#vc13)"/>
<line x1="1025.6" y1="1302" x2="1052.6" y2="1302" stroke="#000" stroke-width="1.5"/>
<path d="M1039.25,1272.9 L1039.3,1273.87 L1039.37,1274.84 L1039.45,1275.81 L1039.56,1276.77 L1039.69,1277.74 L1039.86,1278.71 L1040.06,1279.68 L1040.3,1280.65 L1040.59,1281.62 L1040.93,1282.58 L1041.32,1283.55 L1041.77,1284.52 L1042.28,1285.49 L1042.85,1286.46 L1043.48,1287.43 L1044.17,1288.39 L1044.9,1289.36 L1045.67,1290.33 L1046.47,1291.3 L1047.29,1292.27 L1048.1,1293.24 L1048.9,1294.2 L1049.67,1295.17 L1050.38,1296.14 L1051.01,1297.11 L1051.56,1298.08 L1052.01,1299.05 L1052.33,1300.01 L1052.53,1300.98 L1052.6,1301.95 L1052.53,1302.92 L1052.33,1303.89 L1052.01,1304.86 L1051.56,1305.82 L1051.01,1306.79 L1050.38,1307.76 L1049.67,1308.73 L1048.9,1309.7 L1048.1,1310.66 L1047.29,1311.63 L1046.47,1312.6 L1045.67,1313.57 L1044.9,1314.54 L1044.17,1315.51 L1043.48,1316.47 L1042.85,1317.44 L1042.28,1318.41 L1041.77,1319.38 L1041.32,1320.35 L1040.93,1321.32 L1040.59,1322.29 L1040.3,1323.25 L1040.06,1324.22 L1039.86,1325.19 L1039.69,1326.16 L1039.56,1327.13 L1039.45,1328.1 L1039.37,1329.06 L1039.3,1330.03 L1039.25,1331 L1038.95,1331 L1038.9,1330.03 L1038.83,1329.06 L1038.75,1328.1 L1038.64,1327.13 L1038.51,1326.16 L1038.34,1325.19 L1038.14,1324.22 L1037.9,1323.25 L1037.61,1322.29 L1037.27,1321.32 L1036.88,1320.35 L1036.43,1319.38 L1035.92,1318.41 L1035.35,1317.44 L1034.72,1316.47 L1034.03,1315.51 L1033.3,1314.54 L1032.53,1313.57 L1031.73,1312.6 L1030.91,1311.63 L1030.1,1310.66 L1029.3,1309.7 L1028.53,1308.73 L1027.82,1307.76 L1027.19,1306.79 L1026.64,1305.82 L1026.19,1304.86 L1025.87,1303.89 L1025.67,1302.92 L1025.6,1301.95 L1025.67,1300.98 L1025.87,1300.01 L1026.19,1299.05 L1026.64,1298.08 L1027.19,1297.11 L1027.82,1296.14 L1028.53,1295.17 L1029.3,1294.2 L1030.1,1293.24 L1030.91,1292.27 L1031.73,1291.3 L1032.53,1290.33 L1033.3,1289.36 L1034.03,1288.39 L1034.72,1287.43 L1035.35,1286.46 L1035.92,1285.49 L1036.43,1284.52 L1036.88,1283.55 L1037.27,1282.58 L1037.61,1281.62 L1037.9,1280.65 L1038.14,1279.68 L1038.34,1278.71 L1038.51,1277.74 L1038.64,1276.77 L1038.75,1275.81 L1038.83,1274.84 L1038.9,1273.87 L1038.95,1272.9 Z" fill="none" stroke="#000" stroke-width="1.5" stroke-linejoin="round"/>
<circle cx="1032.6" cy="1280.4" r="1.8" fill="none" stroke="#ff0000" stroke-width="1.2"/>
<circle cx="1050.7" cy="1272.9" r="1.8" fill="none" stroke="#ff0000" stroke-width="1.2"/>
<circle cx="1050.3" cy="1303.7" r="1.8" fill="none" stroke="#ff0000" stroke-width="1.2"/>
<circle cx="1048.6" cy="1311.5" r="1.8" fill="none" stroke="#ff0000" stroke-width="1.2"/>
<circle cx="1045.2" cy="1314.3" r="1.8" fill="none" stroke="#ff0000" stroke-width="1.2"/>
<circle cx="1051.4" cy="1334.4" r="1.8" fill="none" stroke="#ff0000" stroke-width="1.2"/>
<clipPath id="vc14"><path d="M1105.55,1286.6 L1105.6,1287.37 L1105.67,1288.14 L1105.75,1288.9 L1105.86,1289.67 L1105.99,1290.44 L1106.16,1291.21 L1106.36,1291.98 L1106.6,1292.75 L1106.89,1293.52 L1107.23,1294.28 L1107.62,1295.05 L1108.07,1295.82 L1108.58,1296.59 L1109.15,1297.36 L1109.78,1298.12 L1110.47,1298.89 L1111.2,1299.66 L1111.97,1300.43 L1112.77,1301.2 L1113.59,1301.97 L1114.4,1302.74 L1115.2,1303.5 L1115.97,1304.27 L1116.68,1305.04 L1117.31,1305.81 L1117.86,1306.58 L1118.31,1307.35 L1118.63,1308.11 L1118.83,1308.88 L1118.9,1309.65 L1118.83,1310.42 L1118.63,1311.19 L1118.31,1311.96 L1117.86,1312.72 L1117.31,1313.49 L1116.68,1314.26 L1115.97,1315.03 L1115.2,1315.8 L1114.4,1316.57 L1113.59,1317.33 L1112.77,1318.1 L1111.97,1318.87 L1111.2,1319.64 L1110.47,1320.41 L1109.78,1321.18 L1109.15,1321.94 L1108.58,1322.71 L1108.07,1323.48 L1107.62,1324.25 L1107.23,1325.02 L1106.89,1325.79 L1106.6,1326.55 L1106.36,1327.32 L1106.16,1328.09 L1105.99,1328.86 L1105.86,1329.63 L1105.75,1330.4 L1105.67,1331.16 L1105.6,1331.93 L1105.55,1332.7 L1105.25,1332.7 L1105.2,1331.93 L1105.13,1331.16 L1105.05,1330.4 L1104.94,1329.63 L1104.81,1328.86 L1104.64,1328.09 L1104.44,1327.32 L1104.2,1326.55 L1103.91,1325.79 L1103.57,1325.02 L1103.18,1324.25 L1102.73,1323.48 L1102.22,1322.71 L1101.65,1321.94 L1101.02,1321.18 L1100.33,1320.41 L1099.6,1319.64 L1098.83,1318.87 L1098.03,1318.1 L1097.21,1317.33 L1096.4,1316.57 L1095.6,1315.8 L1094.83,1315.03 L1094.12,1314.26 L1093.49,1313.49 L1092.94,1312.72 L1092.49,1311.96 L1092.17,1311.19 L1091.97,1310.42 L1091.9,1309.65 L1091.97,1308.88 L1092.17,1308.11 L1092.49,1307.35 L1092.94,1306.58 L1093.49,1305.81 L1094.12,1305.04 L1094.83,1304.27 L1095.6,1303.5 L1096.4,1302.74 L1097.21,1301.97 L1098.03,1301.2 L1098.83,1300.43 L1099.6,1299.66 L1100.33,1298.89 L1101.02,1298.12 L1101.65,1297.36 L1102.22,1296.59 L1102.73,1295.82 L1103.18,1295.05 L1103.57,1294.28 L1103.91,1293.52 L1104.2,1292.75 L1104.44,1291.98 L1104.64,1291.21 L1104.81,1290.44 L1104.94,1289.67 L1105.05,1288.9 L1105.13,1288.14 L1105.2,1287.37 L1105.25,1286.6 Z"/></clipPath>
<rect x="1089.9" y="1302" width="31" height="14.3" fill="#cbcbcb" clip-path="url(#vc14)"/>
<line x1="1091.9" y1="1309.8" x2="1118.9" y2="1309.8" stroke="#000" stroke-width="1.5"/>
<path d="M1105.55,1286.6 L1105.6,1287.37 L1105.67,1288.14 L1105.75,1288.9 L1105.86,1289.67 L1105.99,1290.44 L1106.16,1291.21 L1106.36,1291.98 L1106.6,1292.75 L1106.89,1293.52 L1107.23,1294.28 L1107.62,1295.05 L1108.07,1295.82 L1108.58,1296.59 L1109.15,1297.36 L1109.78,1298.12 L1110.47,1298.89 L1111.2,1299.66 L1111.97,1300.43 L1112.77,1301.2 L1113.59,1301.97 L1114.4,1302.74 L1115.2,1303.5 L1115.97,1304.27 L1116.68,1305.04 L1117.31,1305.81 L1117.86,1306.58 L1118.31,1307.35 L1118.63,1308.11 L1118.83,1308.88 L1118.9,1309.65 L1118.83,1310.42 L1118.63,1311.19 L1118.31,1311.96 L1117.86,1312.72 L1117.31,1313.49 L1116.68,1314.26 L1115.97,1315.03 L1115.2,1315.8 L1114.4,1316.57 L1113.59,1317.33 L1112.77,1318.1 L1111.97,1318.87 L1111.2,1319.64 L1110.47,1320.41 L1109.78,1321.18 L1109.15,1321.94 L1108.58,1322.71 L1108.07,1323.48 L1107.62,1324.25 L1107.23,1325.02 L1106.89,1325.79 L1106.6,1326.55 L1106.36,1327.32 L1106.16,1328.09 L1105.99,1328.86 L1105.86,1329.63 L1105.75,1330.4 L1105.67,1331.16 L1105.6,1331.93 L1105.55,1332.7 L1105.25,1332.7 L1105.2,1331.93 L1105.13,1331.16 L1105.05,1330.4 L1104.94,1329.63 L1104.81,1328.86 L1104.64,1328.09 L1104.44,1327.32 L1104.2,1326.55 L1103.91,1325.79 L1103.57,1325.02 L1103.18,1324.25 L1102.73,1323.48 L1102.22,1322.71 L1101.65,1321.94 L1101.02,1321.18 L1100.33,1320.41 L1099.6,1319.64 L1098.83,1318.87 L1098.03,1318.1 L1097.21,1317.33 L1096.4,1316.57 L1095.6,1315.8 L1094.83,1315.03 L1094.12,1314.26 L1093.49,1313.49 L1092.94,1312.72 L1092.49,1311.96 L1092.17,1311.19 L1091.97,1310.42 L1091.9,1309.65 L1091.97,1308.88 L1092.17,1308.11 L1092.49,1307.35 L1092.94,1306.58 L1093.49,1305.81 L1094.12,1305.04 L1094.83,1304.27 L1095.6,1303.5 L1096.4,1302.74 L1097.21,1301.97 L1098.03,1301.2 L1098.83,1300.43 L1099.6,1299.66 L1100.33,1298.89 L1101.02,1298.12 L1101.65,1297.36 L1102.22,1296.59 L1102.73,1295.82 L1103.18,1295.05 L1103.57,1294.28 L1103.91,1293.52 L1104.2,1292.75 L1104.44,1291.98 L1104.64,1291.21 L1104.81,1290.44 L1104.94,1289.67 L1105.05,1288.9 L1105.13,1288.14 L1105.2,1287.37 L1105.25,1286.6 Z" fill="none" stroke="#000" stroke-width="1.5" stroke-linejoin="round"/>
<circle cx="1104.4" cy="1273.6" r="1.8" fill="none" stroke="#ff0000" stroke-width="1.2"/>
<circle cx="1117.4" cy="1292.7" r="1.8" fill="none" stroke="#ff0000" stroke-width="1.2"/>
<circle cx="1107.8" cy="1299.2" r="1.8" fill="none" stroke="#ff0000" stroke-width="1.2"/>
<circle cx="1111.2" cy="1315" r="1.8" fill="none" stroke="#ff0000" stroke-width="1.2"/>
<circle cx="1111.9" cy="1335.1" r="1.8" fill="none" stroke="#ff0000" stroke-width="1.2"/>
<circle cx="1100.9" cy="1336.8" r="1.8" fill="none" stroke="#ff0000" stroke-width="1.2"/>
<clipPath id="vc15"><path d="M1172.15,1316.7 L1172.2,1317.08 L1172.27,1317.46 L1172.35,1317.85 L1172.46,1318.23 L1172.59,1318.61 L1172.76,1318.99 L1172.96,1319.37 L1173.2,1319.75 L1173.49,1320.14 L1173.83,1320.52 L1174.22,1320.9 L1174.67,1321.28 L1175.18,1321.66 L1175.75,1322.04 L1176.38,1322.43 L1177.07,1322.81 L1177.8,1323.19 L1178.57,1323.57 L1179.37,1323.95 L1180.19,1324.33 L1181,1324.72 L1181.8,1325.1 L1182.57,1325.48 L1183.28,1325.86 L1183.91,1326.24 L1184.46,1326.62 L1184.91,1327.01 L1185.23,1327.39 L1185.43,1327.77 L1185.5,1328.15 L1185.43,1328.53 L1185.23,1328.91 L1184.91,1329.3 L1184.46,1329.68 L1183.91,1330.06 L1183.28,1330.44 L1182.57,1330.82 L1181.8,1331.2 L1181,1331.59 L1180.19,1331.97 L1179.37,1332.35 L1178.57,1332.73 L1177.8,1333.11 L1177.07,1333.49 L1176.38,1333.88 L1175.75,1334.26 L1175.18,1334.64 L1174.67,1335.02 L1174.22,1335.4 L1173.83,1335.78 L1173.49,1336.16 L1173.2,1336.55 L1172.96,1336.93 L1172.76,1337.31 L1172.59,1337.69 L1172.46,1338.07 L1172.35,1338.45 L1172.27,1338.84 L1172.2,1339.22 L1172.15,1339.6 L1171.85,1339.6 L1171.8,1339.22 L1171.73,1338.84 L1171.65,1338.45 L1171.54,1338.07 L1171.41,1337.69 L1171.24,1337.31 L1171.04,1336.93 L1170.8,1336.55 L1170.51,1336.16 L1170.17,1335.78 L1169.78,1335.4 L1169.33,1335.02 L1168.82,1334.64 L1168.25,1334.26 L1167.62,1333.88 L1166.93,1333.49 L1166.2,1333.11 L1165.43,1332.73 L1164.63,1332.35 L1163.81,1331.97 L1163,1331.59 L1162.2,1331.2 L1161.43,1330.82 L1160.72,1330.44 L1160.09,1330.06 L1159.54,1329.68 L1159.09,1329.3 L1158.77,1328.91 L1158.57,1328.53 L1158.5,1328.15 L1158.57,1327.77 L1158.77,1327.39 L1159.09,1327.01 L1159.54,1326.62 L1160.09,1326.24 L1160.72,1325.86 L1161.43,1325.48 L1162.2,1325.1 L1163,1324.72 L1163.81,1324.33 L1164.63,1323.95 L1165.43,1323.57 L1166.2,1323.19 L1166.93,1322.81 L1167.62,1322.43 L1168.25,1322.04 L1168.82,1321.66 L1169.33,1321.28 L1169.78,1320.9 L1170.17,1320.52 L1170.51,1320.14 L1170.8,1319.75 L1171.04,1319.37 L1171.24,1318.99 L1171.41,1318.61 L1171.54,1318.23 L1171.65,1317.85 L1171.73,1317.46 L1171.8,1317.08 L1171.85,1316.7 Z"/></clipPath>
<rect x="1156.5" y="1325.9" width="31" height="5.1" fill="#cbcbcb" clip-path="url(#vc15)"/>
<line x1="1158.51" y1="1328.3" x2="1185.49" y2="1328.3" stroke="#000" stroke-width="1.5"/>
<path d="M1172.15,1316.7 L1172.2,1317.08 L1172.27,1317.46 L1172.35,1317.85 L1172.46,1318.23 L1172.59,1318.61 L1172.76,1318.99 L1172.96,1319.37 L1173.2,1319.75 L1173.49,1320.14 L1173.83,1320.52 L1174.22,1320.9 L1174.67,1321.28 L1175.18,1321.66 L1175.75,1322.04 L1176.38,1322.43 L1177.07,1322.81 L1177.8,1323.19 L1178.57,1323.57 L1179.37,1323.95 L1180.19,1324.33 L1181,1324.72 L1181.8,1325.1 L1182.57,1325.48 L1183.28,1325.86 L1183.91,1326.24 L1184.46,1326.62 L1184.91,1327.01 L1185.23,1327.39 L1185.43,1327.77 L1185.5,1328.15 L1185.43,1328.53 L1185.23,1328.91 L1184.91,1329.3 L1184.46,1329.68 L1183.91,1330.06 L1183.28,1330.44 L1182.57,1330.82 L1181.8,1331.2 L1181,1331.59 L1180.19,1331.97 L1179.37,1332.35 L1178.57,1332.73 L1177.8,1333.11 L1177.07,1333.49 L1176.38,1333.88 L1175.75,1334.26 L1175.18,1334.64 L1174.67,1335.02 L1174.22,1335.4 L1173.83,1335.78 L1173.49,1336.16 L1173.2,1336.55 L1172.96,1336.93 L1172.76,1337.31 L1172.59,1337.69 L1172.46,1338.07 L1172.35,1338.45 L1172.27,1338.84 L1172.2,1339.22 L1172.15,1339.6 L1171.85,1339.6 L1171.8,1339.22 L1171.73,1338.84 L1171.65,1338.45 L1171.54,1338.07 L1171.41,1337.69 L1171.24,1337.31 L1171.04,1336.93 L1170.8,1336.55 L1170.51,1336.16 L1170.17,1335.78 L1169.78,1335.4 L1169.33,1335.02 L1168.82,1334.64 L1168.25,1334.26 L1167.62,1333.88 L1166.93,1333.49 L1166.2,1333.11 L1165.43,1332.73 L1164.63,1332.35 L1163.81,1331.97 L1163,1331.59 L1162.2,1331.2 L1161.43,1330.82 L1160.72,1330.44 L1160.09,1330.06 L1159.54,1329.68 L1159.09,1329.3 L1158.77,1328.91 L1158.57,1328.53 L1158.5,1328.15 L1158.57,1327.77 L1158.77,1327.39 L1159.09,1327.01 L1159.54,1326.62 L1160.09,1326.24 L1160.72,1325.86 L1161.43,1325.48 L1162.2,1325.1 L1163,1324.72 L1163.81,1324.33 L1164.63,1323.95 L1165.43,1323.57 L1166.2,1323.19 L1166.93,1322.81 L1167.62,1322.43 L1168.25,1322.04 L1168.82,1321.66 L1169.33,1321.28 L1169.78,1320.9 L1170.17,1320.52 L1170.51,1320.14 L1170.8,1319.75 L1171.04,1319.37 L1171.24,1318.99 L1171.41,1318.61 L1171.54,1318.23 L1171.65,1317.85 L1171.73,1317.46 L1171.8,1317.08 L1171.85,1316.7 Z" fill="none" stroke="#000" stroke-width="1.5" stroke-linejoin="round"/>
<circle cx="1162.1" cy="1304.7" r="1.8" fill="none" stroke="#ff0000" stroke-width="1.2"/>
<circle cx="1160.8" cy="1324.2" r="1.8" fill="none" stroke="#ff0000" stroke-width="1.2"/>
<circle cx="1170.3" cy="1330" r="1.8" fill="none" stroke="#ff0000" stroke-width="1.2"/>
<circle cx="1176.2" cy="1323.8" r="1.8" fill="none" stroke="#ff0000" stroke-width="1.2"/>
<circle cx="1177.5" cy="1343.3" r="1.8" fill="none" stroke="#ff0000" stroke-width="1.2"/>
<circle cx="1178.5" cy="1344" r="1.8" fill="none" stroke="#ff0000" stroke-width="1.2"/>
<clipPath id="vc16"><path d="M1238.65,1284.2 L1238.7,1285.18 L1238.77,1286.16 L1238.85,1287.14 L1238.96,1288.12 L1239.09,1289.1 L1239.26,1290.08 L1239.46,1291.06 L1239.7,1292.04 L1239.99,1293.02 L1240.33,1294 L1240.72,1294.98 L1241.17,1295.96 L1241.68,1296.94 L1242.25,1297.92 L1242.88,1298.9 L1243.57,1299.88 L1244.3,1300.86 L1245.07,1301.84 L1245.87,1302.82 L1246.69,1303.8 L1247.5,1304.78 L1248.3,1305.76 L1249.07,1306.74 L1249.78,1307.72 L1250.41,1308.7 L1250.96,1309.68 L1251.41,1310.66 L1251.73,1311.64 L1251.93,1312.62 L1252,1313.6 L1251.93,1314.58 L1251.73,1315.56 L1251.41,1316.54 L1250.96,1317.52 L1250.41,1318.5 L1249.78,1319.48 L1249.07,1320.46 L1248.3,1321.44 L1247.5,1322.42 L1246.69,1323.4 L1245.87,1324.38 L1245.07,1325.36 L1244.3,1326.34 L1243.57,1327.32 L1242.88,1328.3 L1242.25,1329.28 L1241.68,1330.26 L1241.17,1331.24 L1240.72,1332.22 L1240.33,1333.2 L1239.99,1334.18 L1239.7,1335.16 L1239.46,1336.14 L1239.26,1337.12 L1239.09,1338.1 L1238.96,1339.08 L1238.85,1340.06 L1238.77,1341.04 L1238.7,1342.02 L1238.65,1343 L1238.35,1343 L1238.3,1342.02 L1238.23,1341.04 L1238.15,1340.06 L1238.04,1339.08 L1237.91,1338.1 L1237.74,1337.12 L1237.54,1336.14 L1237.3,1335.16 L1237.01,1334.18 L1236.67,1333.2 L1236.28,1332.22 L1235.83,1331.24 L1235.32,1330.26 L1234.75,1329.28 L1234.12,1328.3 L1233.43,1327.32 L1232.7,1326.34 L1231.93,1325.36 L1231.13,1324.38 L1230.31,1323.4 L1229.5,1322.42 L1228.7,1321.44 L1227.93,1320.46 L1227.22,1319.48 L1226.59,1318.5 L1226.04,1317.52 L1225.59,1316.54 L1225.27,1315.56 L1225.07,1314.58 L1225,1313.6 L1225.07,1312.62 L1225.27,1311.64 L1225.59,1310.66 L1226.04,1309.68 L1226.59,1308.7 L1227.22,1307.72 L1227.93,1306.74 L1228.7,1305.76 L1229.5,1304.78 L1230.31,1303.8 L1231.13,1302.82 L1231.93,1301.84 L1232.7,1300.86 L1233.43,1299.88 L1234.12,1298.9 L1234.75,1297.92 L1235.32,1296.94 L1235.83,1295.96 L1236.28,1294.98 L1236.67,1294 L1237.01,1293.02 L1237.3,1292.04 L1237.54,1291.06 L1237.74,1290.08 L1237.91,1289.1 L1238.04,1288.12 L1238.15,1287.14 L1238.23,1286.16 L1238.3,1285.18 L1238.35,1284.2 Z"/></clipPath>
<rect x="1223" y="1304.7" width="31" height="17.8" fill="#cbcbcb" clip-path="url(#vc16)"/>
<line x1="1225.01" y1="1313.9" x2="1251.99" y2="1313.9" stroke="#000" stroke-width="1.5"/>
<path d="M1238.65,1284.2 L1238.7,1285.18 L1238.77,1286.16 L1238.85,1287.14 L1238.96,1288.12 L1239.09,1289.1 L1239.26,1290.08 L1239.46,1291.06 L1239.7,1292.04 L1239.99,1293.02 L1240.33,1294 L1240.72,1294.98 L1241.17,1295.96 L1241.68,1296.94 L1242.25,1297.92 L1242.88,1298.9 L1243.57,1299.88 L1244.3,1300.86 L1245.07,1301.84 L1245.87,1302.82 L1246.69,1303.8 L1247.5,1304.78 L1248.3,1305.76 L1249.07,1306.74 L1249.78,1307.72 L1250.41,1308.7 L1250.96,1309.68 L1251.41,1310.66 L1251.73,1311.64 L1251.93,1312.62 L1252,1313.6 L1251.93,1314.58 L1251.73,1315.56 L1251.41,1316.54 L1250.96,1317.52 L1250.41,1318.5 L1249.78,1319.48 L1249.07,1320.46 L1248.3,1321.44 L1247.5,1322.42 L1246.69,1323.4 L1245.87,1324.38 L1245.07,1325.36 L1244.3,1326.34 L1243.57,1327.32 L1242.88,1328.3 L1242.25,1329.28 L1241.68,1330.26 L1241.17,1331.24 L1240.72,1332.22 L1240.33,1333.2 L1239.99,1334.18 L1239.7,1335.16 L1239.46,1336.14 L1239.26,1337.12 L1239.09,1338.1 L1238.96,1339.08 L1238.85,1340.06 L1238.77,1341.04 L1238.7,1342.02 L1238.65,1343 L1238.35,1343 L1238.3,1342.02 L1238.23,1341.04 L1238.15,1340.06 L1238.04,1339.08 L1237.91,1338.1 L1237.74,1337.12 L1237.54,1336.14 L1237.3,1335.16 L1237.01,1334.18 L1236.67,1333.2 L1236.28,1332.22 L1235.83,1331.24 L1235.32,1330.26 L1234.75,1329.28 L1234.12,1328.3 L1233.43,1327.32 L1232.7,1326.34 L1231.93,1325.36 L1231.13,1324.38 L1230.31,1323.4 L1229.5,1322.42 L1228.7,1321.44 L1227.93,1320.46 L1227.22,1319.48 L1226.59,1318.5 L1226.04,1317.52 L1225.59,1316.54 L1225.27,1315.56 L1225.07,1314.58 L1225,1313.6 L1225.07,1312.62 L1225.27,1311.64 L1225.59,1310.66 L1226.04,1309.68 L1226.59,1308.7 L1227.22,1307.72 L1227.93,1306.74 L1228.7,1305.76 L1229.5,1304.78 L1230.31,1303.8 L1231.13,1302.82 L1231.93,1301.84 L1232.7,1300.86 L1233.43,1299.88 L1234.12,1298.9 L1234.75,1297.92 L1235.32,1296.94 L1235.83,1295.96 L1236.28,1294.98 L1236.67,1294 L1237.01,1293.02 L1237.3,1292.04 L1237.54,1291.06 L1237.74,1290.08 L1237.91,1289.1 L1238.04,1288.12 L1238.15,1287.14 L1238.23,1286.16 L1238.3,1285.18 L1238.35,1284.2 Z" fill="none" stroke="#000" stroke-width="1.5" stroke-linejoin="round"/>
<circle cx="1248.6" cy="1287.6" r="1.8" fill="none" stroke="#ff0000" stroke-width="1.2"/>
<circle cx="1246.6" cy="1299.2" r="1.8" fill="none" stroke="#ff0000" stroke-width="1.2"/>
<circle cx="1249.3" cy="1302" r="1.8" fill="none" stroke="#ff0000" stroke-width="1.2"/>
<circle cx="1247.6" cy="1308.1" r="1.8" fill="none" stroke="#ff0000" stroke-width="1.2"/>
<circle cx="1239.4" cy="1313.9" r="1.8" fill="none" stroke="#ff0000" stroke-width="1.2"/>
<circle cx="1230.9" cy="1365.9" r="1.8" fill="none" stroke="#ff0000" stroke-width="1.2"/>
<clipPath id="vc17"><path d="M1305.25,1295.1 L1305.3,1296.27 L1305.37,1297.44 L1305.45,1298.61 L1305.56,1299.77 L1305.69,1300.94 L1305.86,1302.11 L1306.06,1303.28 L1306.3,1304.45 L1306.59,1305.62 L1306.93,1306.78 L1307.32,1307.95 L1307.77,1309.12 L1308.28,1310.29 L1308.85,1311.46 L1309.48,1312.62 L1310.17,1313.79 L1310.9,1314.96 L1311.67,1316.13 L1312.47,1317.3 L1313.29,1318.47 L1314.1,1319.63 L1314.9,1320.8 L1315.67,1321.97 L1316.38,1323.14 L1317.01,1324.31 L1317.56,1325.48 L1318.01,1326.64 L1318.33,1327.81 L1318.53,1328.98 L1318.6,1330.15 L1318.53,1331.32 L1318.33,1332.49 L1318.01,1333.66 L1317.56,1334.82 L1317.01,1335.99 L1316.38,1337.16 L1315.67,1338.33 L1314.9,1339.5 L1314.1,1340.67 L1313.29,1341.83 L1312.47,1343 L1311.67,1344.17 L1310.9,1345.34 L1310.17,1346.51 L1309.48,1347.68 L1308.85,1348.84 L1308.28,1350.01 L1307.77,1351.18 L1307.32,1352.35 L1306.93,1353.52 L1306.59,1354.69 L1306.3,1355.85 L1306.06,1357.02 L1305.86,1358.19 L1305.69,1359.36 L1305.56,1360.53 L1305.45,1361.7 L1305.37,1362.86 L1305.3,1364.03 L1305.25,1365.2 L1304.95,1365.2 L1304.9,1364.03 L1304.83,1362.86 L1304.75,1361.7 L1304.64,1360.53 L1304.51,1359.36 L1304.34,1358.19 L1304.14,1357.02 L1303.9,1355.85 L1303.61,1354.69 L1303.27,1353.52 L1302.88,1352.35 L1302.43,1351.18 L1301.92,1350.01 L1301.35,1348.84 L1300.72,1347.68 L1300.03,1346.51 L1299.3,1345.34 L1298.53,1344.17 L1297.73,1343 L1296.91,1341.83 L1296.1,1340.67 L1295.3,1339.5 L1294.53,1338.33 L1293.82,1337.16 L1293.19,1335.99 L1292.64,1334.82 L1292.19,1333.66 L1291.87,1332.49 L1291.67,1331.32 L1291.6,1330.15 L1291.67,1328.98 L1291.87,1327.81 L1292.19,1326.64 L1292.64,1325.48 L1293.19,1324.31 L1293.82,1323.14 L1294.53,1321.97 L1295.3,1320.8 L1296.1,1319.63 L1296.91,1318.47 L1297.73,1317.3 L1298.53,1316.13 L1299.3,1314.96 L1300.03,1313.79 L1300.72,1312.62 L1301.35,1311.46 L1301.92,1310.29 L1302.43,1309.12 L1302.88,1307.95 L1303.27,1306.78 L1303.61,1305.62 L1303.9,1304.45 L1304.14,1303.28 L1304.34,1302.11 L1304.51,1300.94 L1304.64,1299.77 L1304.75,1298.61 L1304.83,1297.44 L1304.9,1296.27 L1304.95,1295.1 Z"/></clipPath>
<rect x="1289.6" y="1319.1" width="31" height="22.2" fill="#cbcbcb" clip-path="url(#vc17)"/>
<line x1="1291.6" y1="1330" x2="1318.6" y2="1330" stroke="#000" stroke-width="1.5"/>
<path d="M1305.25,1295.1 L1305.3,1296.27 L1305.37,1297.44 L1305.45,1298.61 L1305.56,1299.77 L1305.69,1300.94 L1305.86,1302.11 L1306.06,1303.28 L1306.3,1304.45 L1306.59,1305.62 L1306.93,1306.78 L1307.32,1307.95 L1307.77,1309.12 L1308.28,1310.29 L1308.85,1311.46 L1309.48,1312.62 L1310.17,1313.79 L1310.9,1314.96 L1311.67,1316.13 L1312.47,1317.3 L1313.29,1318.47 L1314.1,1319.63 L1314.9,1320.8 L1315.67,1321.97 L1316.38,1323.14 L1317.01,1324.31 L1317.56,1325.48 L1318.01,1326.64 L1318.33,1327.81 L1318.53,1328.98 L1318.6,1330.15 L1318.53,1331.32 L1318.33,1332.49 L1318.01,1333.66 L1317.56,1334.82 L1317.01,1335.99 L1316.38,1337.16 L1315.67,1338.33 L1314.9,1339.5 L1314.1,1340.67 L1313.29,1341.83 L1312.47,1343 L1311.67,1344.17 L1310.9,1345.34 L1310.17,1346.51 L1309.48,1347.68 L1308.85,1348.84 L1308.28,1350.01 L1307.77,1351.18 L1307.32,1352.35 L1306.93,1353.52 L1306.59,1354.69 L1306.3,1355.85 L1306.06,1357.02 L1305.86,1358.19 L1305.69,1359.36 L1305.56,1360.53 L1305.45,1361.7 L1305.37,1362.86 L1305.3,1364.03 L1305.25,1365.2 L1304.95,1365.2 L1304.9,1364.03 L1304.83,1362.86 L1304.75,1361.7 L1304.64,1360.53 L1304.51,1359.36 L1304.34,1358.19 L1304.14,1357.02 L1303.9,1355.85 L1303.61,1354.69 L1303.27,1353.52 L1302.88,1352.35 L1302.43,1351.18 L1301.92,1350.01 L1301.35,1348.84 L1300.72,1347.68 L1300.03,1346.51 L1299.3,1345.34 L1298.53,1344.17 L1297.73,1343 L1296.91,1341.83 L1296.1,1340.67 L1295.3,1339.5 L1294.53,1338.33 L1293.82,1337.16 L1293.19,1335.99 L1292.64,1334.82 L1292.19,1333.66 L1291.87,1332.49 L1291.67,1331.32 L1291.6,1330.15 L1291.67,1328.98 L1291.87,1327.81 L1292.19,1326.64 L1292.64,1325.48 L1293.19,1324.31 L1293.82,1323.14 L1294.53,1321.97 L1295.3,1320.8 L1296.1,1319.63 L1296.91,1318.47 L1297.73,1317.3 L1298.53,1316.13 L1299.3,1314.96 L1300.03,1313.79 L1300.72,1312.62 L1301.35,1311.46 L1301.92,1310.29 L1302.43,1309.12 L1302.88,1307.95 L1303.27,1306.78 L1303.61,1305.62 L1303.9,1304.45 L1304.14,1303.28 L1304.34,1302.11 L1304.51,1300.94 L1304.64,1299.77 L1304.75,1298.61 L1304.83,1297.44 L1304.9,1296.27 L1304.95,1295.1 Z" fill="none" stroke="#000" stroke-width="1.5" stroke-linejoin="round"/>
<circle cx="1302" cy="1275.6" r="1.8" fill="none" stroke="#ff0000" stroke-width="1.2"/>
<circle cx="1317.7" cy="1318.7" r="1.8" fill="none" stroke="#ff0000" stroke-width="1.2"/>
<circle cx="1298.5" cy="1329.3" r="1.8" fill="none" stroke="#ff0000" stroke-width="1.2"/>
<circle cx="1293.4" cy="1347.1" r="1.8" fill="none" stroke="#ff0000" stroke-width="1.2"/>
<circle cx="1305.7" cy="1384" r="1.8" fill="none" stroke="#ff0000" stroke-width="1.2"/>
<clipPath id="vc18"><path d="M1372.15,1276.3 L1372.2,1278.22 L1372.27,1280.14 L1372.35,1282.06 L1372.46,1283.98 L1372.59,1285.9 L1372.76,1287.82 L1372.96,1289.74 L1373.2,1291.66 L1373.49,1293.58 L1373.83,1295.5 L1374.22,1297.42 L1374.67,1299.34 L1375.18,1301.26 L1375.75,1303.18 L1376.38,1305.1 L1377.07,1307.02 L1377.8,1308.94 L1378.57,1310.86 L1379.37,1312.78 L1380.19,1314.7 L1381,1316.62 L1381.8,1318.54 L1382.57,1320.46 L1383.28,1322.38 L1383.91,1324.3 L1384.46,1326.22 L1384.91,1328.14 L1385.23,1330.06 L1385.43,1331.98 L1385.5,1333.9 L1385.43,1335.82 L1385.23,1337.74 L1384.91,1339.66 L1384.46,1341.58 L1383.91,1343.5 L1383.28,1345.42 L1382.57,1347.34 L1381.8,1349.26 L1381,1351.18 L1380.19,1353.1 L1379.37,1355.02 L1378.57,1356.94 L1377.8,1358.86 L1377.07,1360.78 L1376.38,1362.7 L1375.75,1364.62 L1375.18,1366.54 L1374.67,1368.46 L1374.22,1370.38 L1373.83,1372.3 L1373.49,1374.22 L1373.2,1376.14 L1372.96,1378.06 L1372.76,1379.98 L1372.59,1381.9 L1372.46,1383.82 L1372.35,1385.74 L1372.27,1387.66 L1372.2,1389.58 L1372.15,1391.5 L1371.85,1391.5 L1371.8,1389.58 L1371.73,1387.66 L1371.65,1385.74 L1371.54,1383.82 L1371.41,1381.9 L1371.24,1379.98 L1371.04,1378.06 L1370.8,1376.14 L1370.51,1374.22 L1370.17,1372.3 L1369.78,1370.38 L1369.33,1368.46 L1368.82,1366.54 L1368.25,1364.62 L1367.62,1362.7 L1366.93,1360.78 L1366.2,1358.86 L1365.43,1356.94 L1364.63,1355.02 L1363.81,1353.1 L1363,1351.18 L1362.2,1349.26 L1361.43,1347.34 L1360.72,1345.42 L1360.09,1343.5 L1359.54,1341.58 L1359.09,1339.66 L1358.77,1337.74 L1358.57,1335.82 L1358.5,1333.9 L1358.57,1331.98 L1358.77,1330.06 L1359.09,1328.14 L1359.54,1326.22 L1360.09,1324.3 L1360.72,1322.38 L1361.43,1320.46 L1362.2,1318.54 L1363,1316.62 L1363.81,1314.7 L1364.63,1312.78 L1365.43,1310.86 L1366.2,1308.94 L1366.93,1307.02 L1367.62,1305.1 L1368.25,1303.18 L1368.82,1301.26 L1369.33,1299.34 L1369.78,1297.42 L1370.17,1295.5 L1370.51,1293.58 L1370.8,1291.66 L1371.04,1289.74 L1371.24,1287.82 L1371.41,1285.9 L1371.54,1283.98 L1371.65,1282.06 L1371.73,1280.14 L1371.8,1278.22 L1371.85,1276.3 Z"/></clipPath>
<rect x="1356.5" y="1315.6" width="31" height="36.6" fill="#cbcbcb" clip-path="url(#vc18)"/>
<line x1="1358.5" y1="1333.8" x2="1385.5" y2="1333.8" stroke="#000" stroke-width="1.5"/>
<path d="M1372.15,1276.3 L1372.2,1278.22 L1372.27,1280.14 L1372.35,1282.06 L1372.46,1283.98 L1372.59,1285.9 L1372.76,1287.82 L1372.96,1289.74 L1373.2,1291.66 L1373.49,1293.58 L1373.83,1295.5 L1374.22,1297.42 L1374.67,1299.34 L1375.18,1301.26 L1375.75,1303.18 L1376.38,1305.1 L1377.07,1307.02 L1377.8,1308.94 L1378.57,1310.86 L1379.37,1312.78 L1380.19,1314.7 L1381,1316.62 L1381.8,1318.54 L1382.57,1320.46 L1383.28,1322.38 L1383.91,1324.3 L1384.46,1326.22 L1384.91,1328.14 L1385.23,1330.06 L1385.43,1331.98 L1385.5,1333.9 L1385.43,1335.82 L1385.23,1337.74 L1384.91,1339.66 L1384.46,1341.58 L1383.91,1343.5 L1383.28,1345.42 L1382.57,1347.34 L1381.8,1349.26 L1381,1351.18 L1380.19,1353.1 L1379.37,1355.02 L1378.57,1356.94 L1377.8,1358.86 L1377.07,1360.78 L1376.38,1362.7 L1375.75,1364.62 L1375.18,1366.54 L1374.67,1368.46 L1374.22,1370.38 L1373.83,1372.3 L1373.49,1374.22 L1373.2,1376.14 L1372.96,1378.06 L1372.76,1379.98 L1372.59,1381.9 L1372.46,1383.82 L1372.35,1385.74 L1372.27,1387.66 L1372.2,1389.58 L1372.15,1391.5 L1371.85,1391.5 L1371.8,1389.58 L1371.73,1387.66 L1371.65,1385.74 L1371.54,1383.82 L1371.41,1381.9 L1371.24,1379.98 L1371.04,1378.06 L1370.8,1376.14 L1370.51,1374.22 L1370.17,1372.3 L1369.78,1370.38 L1369.33,1368.46 L1368.82,1366.54 L1368.25,1364.62 L1367.62,1362.7 L1366.93,1360.78 L1366.2,1358.86 L1365.43,1356.94 L1364.63,1355.02 L1363.81,1353.1 L1363,1351.18 L1362.2,1349.26 L1361.43,1347.34 L1360.72,1345.42 L1360.09,1343.5 L1359.54,1341.58 L1359.09,1339.66 L1358.77,1337.74 L1358.57,1335.82 L1358.5,1333.9 L1358.57,1331.98 L1358.77,1330.06 L1359.09,1328.14 L1359.54,1326.22 L1360.09,1324.3 L1360.72,1322.38 L1361.43,1320.46 L1362.2,1318.54 L1363,1316.62 L1363.81,1314.7 L1364.63,1312.78 L1365.43,1310.86 L1366.2,1308.94 L1366.93,1307.02 L1367.62,1305.1 L1368.25,1303.18 L1368.82,1301.26 L1369.33,1299.34 L1369.78,1297.42 L1370.17,1295.5 L1370.51,1293.58 L1370.8,1291.66 L1371.04,1289.74 L1371.24,1287.82 L1371.41,1285.9 L1371.54,1283.98 L1371.65,1282.06 L1371.73,1280.14 L1371.8,1278.22 L1371.85,1276.3 Z" fill="none" stroke="#000" stroke-width="1.5" stroke-linejoin="round"/>
<circle cx="1366.2" cy="1265" r="1.8" fill="none" stroke="#ff0000" stroke-width="1.2"/>
<circle cx="1370" cy="1287.3" r="1.8" fill="none" stroke="#ff0000" stroke-width="1.2"/>
<circle cx="1382" cy="1357.7" r="1.8" fill="none" stroke="#ff0000" stroke-width="1.2"/>
<circle cx="1376.5" cy="1377.2" r="1.8" fill="none" stroke="#ff0000" stroke-width="1.2"/>
<circle cx="1358.4" cy="1386.8" r="1.8" fill="none" stroke="#ff0000" stroke-width="1.2"/>
</svg></body></html>
